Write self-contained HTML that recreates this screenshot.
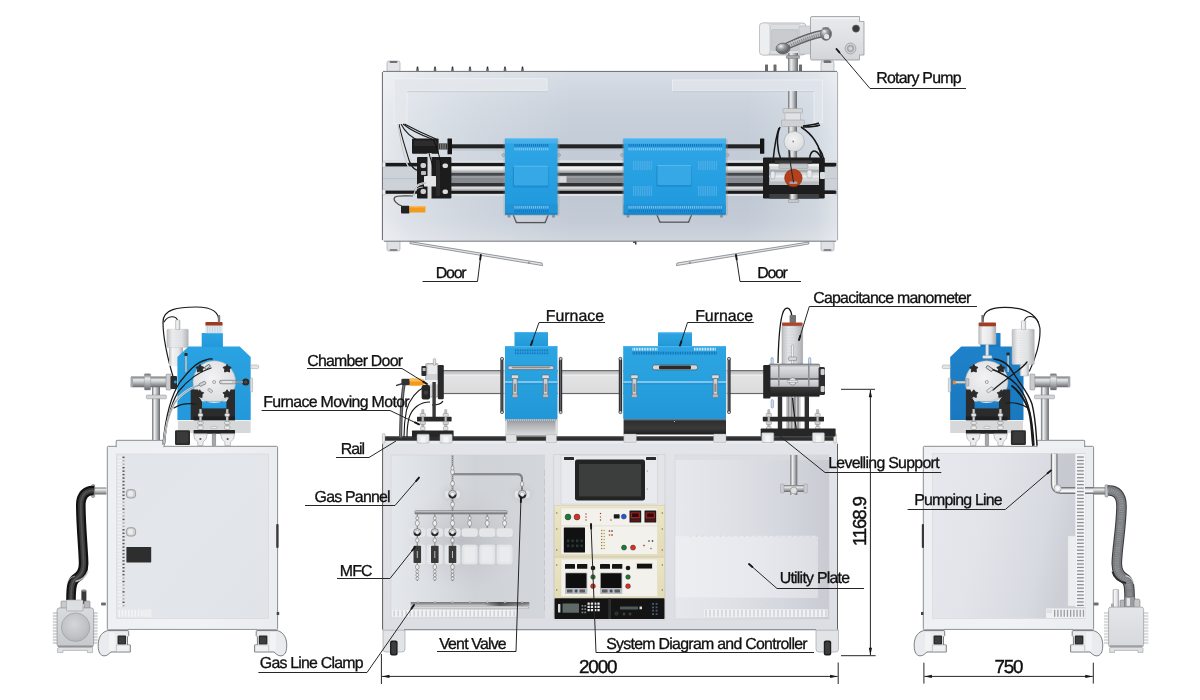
<!DOCTYPE html>
<html lang="en">
<head>
<meta charset="utf-8">
<title>CVD Furnace System Layout</title>
<style>
html,body{margin:0;padding:0;background:#fff;}
body{width:1200px;height:700px;overflow:hidden;font-family:"Liberation Sans",sans-serif;}
svg{display:block;}
.lb{font-family:"Liberation Sans",sans-serif;font-size:15.9px;fill:#101010;stroke:#101010;stroke-width:0.32px;text-rendering:geometricPrecision;}
.dm{font-family:"Liberation Sans",sans-serif;font-size:18.8px;fill:#101010;stroke:#101010;stroke-width:0.42px;text-rendering:geometricPrecision;}
.ld{stroke:#262626;stroke-width:1;fill:none;}
</style>
</head>
<body>
<svg width="1200" height="700" viewBox="0 0 1200 700">
<defs>
<linearGradient id="cab" x1="0" y1="0" x2="0" y2="1"><stop offset="0" stop-color="#eceef1"/><stop offset="0.5" stop-color="#e6e8ec"/><stop offset="1" stop-color="#dfe1e6"/></linearGradient>
<linearGradient id="cabh" x1="0" y1="0" x2="1" y2="0"><stop offset="0" stop-color="#e3e5e9"/><stop offset="0.35" stop-color="#eceef1"/><stop offset="0.7" stop-color="#eef0f3"/><stop offset="1" stop-color="#e2e4e8"/></linearGradient>
<linearGradient id="panel" x1="0" y1="0" x2="1" y2="1"><stop offset="0" stop-color="#dcdee3"/><stop offset="0.5" stop-color="#e9ebee"/><stop offset="1" stop-color="#e4e6ea"/></linearGradient>
<linearGradient id="panelR" x1="0" y1="0" x2="1" y2="1"><stop offset="0" stop-color="#dfe1e5"/><stop offset="0.45" stop-color="#f1f2f4"/><stop offset="1" stop-color="#dcdee3"/></linearGradient>
<linearGradient id="blueF" x1="0" y1="0" x2="0" y2="1"><stop offset="0" stop-color="#2da5e2"/><stop offset="0.5" stop-color="#27a0de"/><stop offset="1" stop-color="#2296d6"/></linearGradient>
<linearGradient id="blueT" x1="0" y1="0" x2="0" y2="1"><stop offset="0" stop-color="#2fa6e6"/><stop offset="0.5" stop-color="#27a0e2"/><stop offset="1" stop-color="#1f97dc"/></linearGradient>
<linearGradient id="tube" x1="0" y1="0" x2="0" y2="1"><stop offset="0" stop-color="#8a8c8e"/><stop offset="0.12" stop-color="#c9cbcd"/><stop offset="0.45" stop-color="#f4f4f4"/><stop offset="0.8" stop-color="#d6d7d8"/><stop offset="1" stop-color="#7d7f81"/></linearGradient>
<linearGradient id="steelV" x1="0" y1="0" x2="0" y2="1"><stop offset="0" stop-color="#6f7276"/><stop offset="0.3" stop-color="#e9eaeb"/><stop offset="0.6" stop-color="#b3b5b8"/><stop offset="1" stop-color="#66686c"/></linearGradient>
<linearGradient id="steelH" x1="0" y1="0" x2="1" y2="0"><stop offset="0" stop-color="#6f7276"/><stop offset="0.3" stop-color="#eeeff0"/><stop offset="0.6" stop-color="#b9bbbe"/><stop offset="1" stop-color="#66686c"/></linearGradient>
<linearGradient id="silverbase" x1="0" y1="0" x2="0" y2="1"><stop offset="0" stop-color="#8f9194"/><stop offset="0.25" stop-color="#a9abae"/><stop offset="0.8" stop-color="#cfd0d2"/><stop offset="1" stop-color="#d9dadc"/></linearGradient>
<linearGradient id="darkbase" x1="0" y1="0" x2="0" y2="1"><stop offset="0" stop-color="#2c2c2c"/><stop offset="0.6" stop-color="#3a3a3a"/><stop offset="1" stop-color="#1e1e1e"/></linearGradient>
<linearGradient id="hoseB" x1="0" y1="0" x2="1" y2="0"><stop offset="0" stop-color="#0d0d0d"/><stop offset="0.35" stop-color="#4a4a4a"/><stop offset="0.6" stop-color="#222"/><stop offset="1" stop-color="#050505"/></linearGradient>
<linearGradient id="pump" x1="0" y1="0" x2="0" y2="1"><stop offset="0" stop-color="#e6e7e9"/><stop offset="1" stop-color="#c9cbce"/></linearGradient>
<radialGradient id="shadow" cx="0.5" cy="0.5" r="0.5"><stop offset="0" stop-color="#9a9ca0" stop-opacity="0.55"/><stop offset="0.6" stop-color="#b0b2b6" stop-opacity="0.25"/><stop offset="1" stop-color="#c0c2c6" stop-opacity="0"/></radialGradient>
<radialGradient id="glow" cx="0.5" cy="0.5" r="0.5"><stop offset="0" stop-color="#ffffff" stop-opacity="0.9"/><stop offset="1" stop-color="#ffffff" stop-opacity="0"/></radialGradient>
<radialGradient id="pumpc" cx="0.4" cy="0.35" r="0.7"><stop offset="0" stop-color="#eeeff0"/><stop offset="0.7" stop-color="#dcdde0"/><stop offset="1" stop-color="#c3c5c8"/></radialGradient>
<radialGradient id="disc" cx="0.45" cy="0.4" r="0.7"><stop offset="0" stop-color="#f3f3f4"/><stop offset="0.75" stop-color="#dedfe1"/><stop offset="1" stop-color="#b9bbbe"/></radialGradient>
<linearGradient id="topcab" x1="0" y1="0" x2="0" y2="1"><stop offset="0" stop-color="#d8dde5"/><stop offset="0.2" stop-color="#cad2dc"/><stop offset="0.38" stop-color="#c4cdd8"/><stop offset="0.75" stop-color="#bfc8d3"/><stop offset="0.88" stop-color="#c3cbd6"/><stop offset="1" stop-color="#d0d5dd"/></linearGradient>
<linearGradient id="topedge" x1="0" y1="0" x2="1" y2="0"><stop offset="0" stop-color="#ffffff"/><stop offset="0.12" stop-color="#ffffff"/><stop offset="0.5" stop-color="#ffffff"/><stop offset="0.88" stop-color="#ffffff"/><stop offset="1" stop-color="#ffffff"/></linearGradient>
<linearGradient id="topside" x1="0" y1="0" x2="1" y2="0"><stop offset="0" stop-color="#fff" stop-opacity="0.6"/><stop offset="0.06" stop-color="#fff" stop-opacity="0.42"/><stop offset="0.2" stop-color="#fff" stop-opacity="0.22"/><stop offset="0.42" stop-color="#fff" stop-opacity="0"/><stop offset="0.8" stop-color="#fff" stop-opacity="0"/><stop offset="0.95" stop-color="#fff" stop-opacity="0.25"/><stop offset="1" stop-color="#fff" stop-opacity="0.5"/></linearGradient>
<linearGradient id="pumpT" x1="0" y1="0" x2="0" y2="1"><stop offset="0" stop-color="#e9eaec"/><stop offset="0.5" stop-color="#dfe1e4"/><stop offset="1" stop-color="#d3d5d9"/></linearGradient>
<radialGradient id="chrome" cx="0.35" cy="0.3" r="0.8"><stop offset="0" stop-color="#f2f2f2"/><stop offset="0.35" stop-color="#9a9c9f"/><stop offset="0.75" stop-color="#5f6164"/><stop offset="1" stop-color="#8a8c8f"/></radialGradient>
<linearGradient id="tubeT" x1="0" y1="0" x2="0" y2="1"><stop offset="0" stop-color="#fafafa"/><stop offset="0.45" stop-color="#e6e7e8"/><stop offset="1" stop-color="#8f9194"/></linearGradient>
<linearGradient id="tubeT2" x1="0" y1="0" x2="0" y2="1"><stop offset="0" stop-color="#e4e5e6"/><stop offset="0.5" stop-color="#d0d2d4"/><stop offset="1" stop-color="#8a8c8f"/></linearGradient>
<linearGradient id="fcab" x1="0" y1="0" x2="0" y2="1"><stop offset="0" stop-color="#e2e4e9"/><stop offset="0.5" stop-color="#dfe1e7"/><stop offset="1" stop-color="#dcdee4"/></linearGradient>
<linearGradient id="gasp" x1="0" y1="0" x2="1" y2="0"><stop offset="0" stop-color="#e4e7ec"/><stop offset="0.25" stop-color="#dcdfe4"/><stop offset="0.55" stop-color="#cfd2d7"/><stop offset="1" stop-color="#d3d6db"/></linearGradient>
<linearGradient id="utilp" x1="0" y1="0" x2="1" y2="0"><stop offset="0" stop-color="#e6e8ed"/><stop offset="0.35" stop-color="#dfe1e7"/><stop offset="0.7" stop-color="#d5d7de"/><stop offset="1" stop-color="#c9cbd2"/></linearGradient>
<linearGradient id="utilpl" x1="0" y1="0" x2="1" y2="0"><stop offset="0" stop-color="#eceef2"/><stop offset="0.6" stop-color="#e6e8ed"/><stop offset="1" stop-color="#dddfe5"/></linearGradient>
<linearGradient id="cream" x1="0" y1="0" x2="0" y2="1"><stop offset="0" stop-color="#ece5c4"/><stop offset="1" stop-color="#e3dbb6"/></linearGradient>
<linearGradient id="clamp" x1="0" y1="0" x2="0" y2="1"><stop offset="0" stop-color="#77797c"/><stop offset="0.25" stop-color="#8f9194"/><stop offset="0.55" stop-color="#c3c5c7"/><stop offset="1" stop-color="#a9abae"/></linearGradient>
<linearGradient id="clampd" x1="0" y1="0" x2="1" y2="0"><stop offset="0" stop-color="#333" stop-opacity="0"/><stop offset="0.62" stop-color="#333" stop-opacity="0"/><stop offset="0.75" stop-color="#2a2a2a" stop-opacity="0.65"/><stop offset="0.9" stop-color="#333" stop-opacity="0.35"/><stop offset="1" stop-color="#333" stop-opacity="0.15"/></linearGradient>
<linearGradient id="tubeF" x1="0" y1="0" x2="0" y2="1"><stop offset="0" stop-color="#8a8c8e"/><stop offset="0.05" stop-color="#b9bbbd"/><stop offset="0.17" stop-color="#d2d3d5"/><stop offset="0.2" stop-color="#f4f4f4"/><stop offset="0.25" stop-color="#e3e3e4"/><stop offset="0.93" stop-color="#dcdcdd"/><stop offset="1" stop-color="#9a9c9e"/></linearGradient>
<linearGradient id="mano" x1="0" y1="0" x2="1" y2="0"><stop offset="0" stop-color="#b9bbbe"/><stop offset="0.3" stop-color="#ecedee"/><stop offset="0.6" stop-color="#dcdde0"/><stop offset="1" stop-color="#a5a7aa"/></linearGradient>
<linearGradient id="flg" x1="0" y1="0" x2="0" y2="1"><stop offset="0" stop-color="#8d8f92"/><stop offset="0.1" stop-color="#dcdde0"/><stop offset="0.3" stop-color="#c9cbce"/><stop offset="0.42" stop-color="#b9bbbe"/><stop offset="0.46" stop-color="#3f4144"/><stop offset="0.5" stop-color="#d9dadc"/><stop offset="0.68" stop-color="#bfc1c4"/><stop offset="0.72" stop-color="#3a3a3a"/><stop offset="1" stop-color="#1f1f1f"/></linearGradient>
<linearGradient id="scab" x1="0" y1="0" x2="1" y2="0"><stop offset="0" stop-color="#eef0f3"/><stop offset="0.5" stop-color="#f0f2f5"/><stop offset="1" stop-color="#eaecf0"/></linearGradient>
<linearGradient id="spanL" x1="0" y1="0" x2="1" y2="1"><stop offset="0" stop-color="#e2e5ea"/><stop offset="0.5" stop-color="#e3e6eb"/><stop offset="1" stop-color="#e0e3e8"/></linearGradient>
<linearGradient id="spanR" x1="0" y1="0" x2="1" y2="0.25"><stop offset="0" stop-color="#e6e8ed"/><stop offset="0.4" stop-color="#e2e4ea"/><stop offset="0.8" stop-color="#d7dae0"/><stop offset="1" stop-color="#cbced5"/></linearGradient>
<linearGradient id="blueS" x1="0" y1="0" x2="0" y2="1"><stop offset="0" stop-color="#2aa3e2"/><stop offset="1" stop-color="#2398da"/></linearGradient>
<linearGradient id="blueSR" x1="0" y1="0" x2="0" y2="1"><stop offset="0" stop-color="#1e82ca"/><stop offset="1" stop-color="#1a78be"/></linearGradient>
<linearGradient id="hoseG" x1="0" y1="0" x2="1" y2="0"><stop offset="0" stop-color="#5f6164"/><stop offset="0.35" stop-color="#c9cbcd"/><stop offset="0.6" stop-color="#8f9194"/><stop offset="1" stop-color="#4a4c4f"/></linearGradient>
<linearGradient id="cyl" x1="0" y1="0" x2="1" y2="0"><stop offset="0" stop-color="#b9bbbe"/><stop offset="0.25" stop-color="#f4f4f5"/><stop offset="0.7" stop-color="#e4e5e7"/><stop offset="1" stop-color="#a9abae"/></linearGradient>
<linearGradient id="pumpL" x1="0" y1="0" x2="0" y2="1"><stop offset="0" stop-color="#d9dbde"/><stop offset="1" stop-color="#c6c8cb"/></linearGradient>
<radialGradient id="pumpc2" cx="0.45" cy="0.4" r="0.75"><stop offset="0" stop-color="#d4d6d8"/><stop offset="0.6" stop-color="#bfc1c4"/><stop offset="1" stop-color="#a9abae"/></radialGradient>
<linearGradient id="pumpR" x1="0" y1="0" x2="0" y2="1"><stop offset="0" stop-color="#e4e6e9"/><stop offset="1" stop-color="#d6d8dc"/></linearGradient>
<filter id="gs" x="0" y="0" width="1200" height="700" filterUnits="userSpaceOnUse" color-interpolation-filters="sRGB"><feOffset dx="0" dy="0"/></filter>
</defs>
<g id="top-view">
<rect x="759.50" y="23.00" width="46.50" height="32.00" fill="url(#pumpT)" rx="3.5" stroke="#9fa1a5" stroke-width="0.7"/>
<rect x="759.50" y="23.00" width="10.50" height="32.00" fill="#eceef0" rx="3.5" stroke="#b0b2b6" stroke-width="0.5"/>
<rect x="770.50" y="24.50" width="29.50" height="29.50" fill="#dcdee1" rx="1" stroke="#bfc1c5" stroke-width="0.5"/>
<rect x="771.50" y="29.50" width="26.50" height="21.00" fill="#c9cbcf" rx="1" stroke="#b3b5b9" stroke-width="0.5"/>
<rect x="799.00" y="26.00" width="12.00" height="28.00" fill="#d3d5d9" rx="1" stroke="#aeb0b4" stroke-width="0.5"/>
<path d="M812,16.5 H859.5 V21.5 H864 V55 H859.5 V60 H812 Q810.5,60 810.5,58.5 V18 Q810.5,16.5 812,16.5 Z" fill="url(#pumpT)" stroke="#96989c" stroke-width="0.8"/>
<line x1="812.00" y1="18.40" x2="859.00" y2="18.40" stroke="#f4f5f6" stroke-width="1"/>
<circle cx="856.00" cy="28.60" r="3.60" fill="#3a3a3a" stroke="#6a6a6a" stroke-width="0.6"/>
<circle cx="850.50" cy="48.50" r="5.40" fill="#cfd0d3" stroke="#9a9c9f" stroke-width="0.8"/>
<circle cx="850.50" cy="48.50" r="3.20" fill="#b6b8bb" stroke="#8a8c8f" stroke-width="0.6"/>
<circle cx="850.50" cy="48.50" r="1.40" fill="#d9dadc"/>
<path d="M786,46.5 C796,42 808,36 823,33.5" fill="none" stroke="#5d5f63" stroke-width="7.4" stroke-linecap="butt"/>
<path d="M786,46.5 C796,42 808,36 823,33.5" fill="none" stroke="#8f9195" stroke-width="5.2" stroke-linecap="butt"/>
<path d="M786,46.5 C796,42 808,36 823,33.5" fill="none" stroke="#c3c5c8" stroke-width="4.6" stroke-linecap="butt" stroke-dasharray="0.9 1.3"/>
<path d="M786,45 C796,40.5 808,34.6 823,32" fill="none" stroke="#d9dadc" stroke-width="1.2" opacity="0.7"/>
<ellipse cx="783" cy="48.5" rx="7" ry="5.4" fill="url(#chrome)" stroke="#4a4c4f" stroke-width="0.6"/>
<ellipse cx="826" cy="34" rx="5.6" ry="6.4" fill="url(#chrome)" stroke="#6a6c6f" stroke-width="0.6"/>
<circle cx="826.60" cy="36.50" r="2.60" fill="#e4e5e6"/>
<rect x="822.50" y="27.40" width="6.50" height="2.00" fill="#77797c" rx="0.6"/>
<rect x="788.00" y="53.00" width="10.00" height="19.00" fill="url(#steelH)"/>
<rect x="786.40" y="55.60" width="13.20" height="2.80" fill="#a9abae" rx="0.6" stroke="#6f7174" stroke-width="0.5"/>
<rect x="821.50" y="60.20" width="11.50" height="10.80" fill="#dfe1e4" rx="1" stroke="#a3a5a9" stroke-width="0.5"/>
<rect x="824.00" y="60.20" width="6.50" height="1.80" fill="#55575a" rx="0.6"/>
<rect x="387.00" y="61.00" width="13.00" height="11.00" fill="#e3e5e8" rx="2" stroke="#a9abaf" stroke-width="0.7"/>
<rect x="389.50" y="61.00" width="8.00" height="2.00" fill="#6f7174" rx="1"/>
<rect x="821.00" y="61.00" width="13.00" height="11.00" fill="#e3e5e8" rx="2" stroke="#a9abaf" stroke-width="0.7"/>
<rect x="823.50" y="61.00" width="8.00" height="2.00" fill="#6f7174" rx="1"/>
<rect x="387.00" y="240.00" width="13.00" height="11.00" fill="#dfe1e4" rx="2" stroke="#a9abaf" stroke-width="0.7"/>
<rect x="389.50" y="249.00" width="8.00" height="2.00" fill="#85878a" rx="1"/>
<rect x="821.00" y="240.00" width="13.00" height="11.00" fill="#dfe1e4" rx="2" stroke="#a9abaf" stroke-width="0.7"/>
<rect x="823.50" y="249.00" width="8.00" height="2.00" fill="#85878a" rx="1"/>
<rect x="416.20" y="68.60" width="2.60" height="2.90" fill="#6a6c6f" rx="0.5"/>
<rect x="416.70" y="66.60" width="1.60" height="2.40" fill="#2e2e2e" rx="0.4"/>
<rect x="433.70" y="68.60" width="2.60" height="2.90" fill="#6a6c6f" rx="0.5"/>
<rect x="434.20" y="66.60" width="1.60" height="2.40" fill="#2e2e2e" rx="0.4"/>
<rect x="451.20" y="68.60" width="2.60" height="2.90" fill="#6a6c6f" rx="0.5"/>
<rect x="451.70" y="66.60" width="1.60" height="2.40" fill="#2e2e2e" rx="0.4"/>
<rect x="468.70" y="68.60" width="2.60" height="2.90" fill="#6a6c6f" rx="0.5"/>
<rect x="469.20" y="66.60" width="1.60" height="2.40" fill="#2e2e2e" rx="0.4"/>
<rect x="486.20" y="68.60" width="2.60" height="2.90" fill="#6a6c6f" rx="0.5"/>
<rect x="486.70" y="66.60" width="1.60" height="2.40" fill="#2e2e2e" rx="0.4"/>
<rect x="503.70" y="68.60" width="2.60" height="2.90" fill="#6a6c6f" rx="0.5"/>
<rect x="504.20" y="66.60" width="1.60" height="2.40" fill="#2e2e2e" rx="0.4"/>
<rect x="521.20" y="68.60" width="2.60" height="2.90" fill="#6a6c6f" rx="0.5"/>
<rect x="521.70" y="66.60" width="1.60" height="2.40" fill="#2e2e2e" rx="0.4"/>
<rect x="765.00" y="64.50" width="3.00" height="7.00" fill="#6a6c6f" rx="0.5"/>
<rect x="773.50" y="64.50" width="3.00" height="7.00" fill="#6a6c6f" rx="0.5"/>
<rect x="799.00" y="64.50" width="3.00" height="7.00" fill="#6a6c6f" rx="0.5"/>
<rect x="382.00" y="71.00" width="456.00" height="170.40" fill="url(#topcab)" rx="2.5"/>
<rect x="382.00" y="71.00" width="456.00" height="170.00" fill="url(#topside)" rx="2.5"/>
<line x1="382.40" y1="72.00" x2="382.40" y2="240.00" stroke="#55585c" stroke-width="0.9"/>
<line x1="383.00" y1="71.40" x2="837.00" y2="71.40" stroke="#4f5154" stroke-width="0.8"/>
<line x1="837.60" y1="72.00" x2="837.60" y2="240.00" stroke="#9a9ca0" stroke-width="0.8"/>
<line x1="384.00" y1="241.20" x2="836.00" y2="241.20" stroke="#5f6164" stroke-width="0.8"/>
<path d="M394,78.6 H547 V91 H407 V124 H394 Z" fill="#e4e8ed" stroke="#f2f4f6" stroke-width="0.8" opacity="0.85"/>
<path d="M822.5,80 H672.5 V91 H814 V122.5 H822.5 Z" fill="#e0e5eb" stroke="#f2f4f6" stroke-width="0.8" opacity="0.85"/>
<line x1="407.00" y1="91.60" x2="547.00" y2="91.60" stroke="#c3c9d1" stroke-width="0.9"/>
<line x1="672.50" y1="91.60" x2="814.00" y2="91.60" stroke="#c3c9d1" stroke-width="0.9"/>
<rect x="383.00" y="160.50" width="454.00" height="35.50" fill="#c6ccd5"/>
<rect x="383.00" y="160.50" width="454.00" height="2.10" fill="#dfe3e8"/>
<rect x="383.00" y="194.00" width="454.00" height="2.00" fill="#dde1e6"/>
<rect x="383.00" y="166.40" width="454.00" height="24.00" fill="#cdd2d9"/>
<line x1="383.00" y1="178.60" x2="837.00" y2="178.60" stroke="#b9bec6" stroke-width="0.8"/>
<rect x="451.00" y="166.40" width="321.00" height="24.20" fill="#8d9196"/>
<rect x="451.00" y="144.30" width="312.00" height="4.10" fill="#222426"/>
<rect x="447.50" y="138.60" width="4.50" height="15.70" fill="#151515" rx="0.6"/>
<rect x="760.00" y="138.60" width="4.30" height="15.20" fill="#151515" rx="0.6"/>
<line x1="452.00" y1="150.00" x2="760.00" y2="150.00" stroke="#b9bec6" stroke-width="1.2"/>
<rect x="383.60" y="162.90" width="452.80" height="3.50" fill="#1a1a1a"/>
<rect x="383.60" y="190.60" width="452.80" height="3.20" fill="#1a1a1a"/>
<rect x="443.60" y="166.40" width="328.40" height="6.60" fill="url(#tubeT)"/>
<rect x="451.00" y="173.00" width="321.00" height="2.80" fill="#45484b"/>
<rect x="451.00" y="175.80" width="321.00" height="7.20" fill="#868a8f"/>
<rect x="451.00" y="176.40" width="321.00" height="1.20" fill="#a3a7ab"/>
<rect x="557.50" y="176.20" width="9.00" height="6.40" fill="#d9dadc"/>
<rect x="451.00" y="183.00" width="321.00" height="3.60" fill="#2f3133"/>
<rect x="443.60" y="186.60" width="328.40" height="4.20" fill="url(#tubeT2)"/>
<rect x="382.60" y="162.10" width="2.80" height="5.20" fill="#f1f1f1" rx="0.8" stroke="#9a9a9a" stroke-width="0.4"/>
<rect x="834.60" y="162.10" width="2.80" height="5.20" fill="#f1f1f1" rx="0.8" stroke="#9a9a9a" stroke-width="0.4"/>
<rect x="382.60" y="189.40" width="2.80" height="5.20" fill="#f1f1f1" rx="0.8" stroke="#9a9a9a" stroke-width="0.4"/>
<rect x="834.60" y="189.40" width="2.80" height="5.20" fill="#f1f1f1" rx="0.8" stroke="#9a9a9a" stroke-width="0.4"/>
<path d="M399,124 C401,135 406,150 409,160 C412,170 418,172 424,172" fill="none" stroke="#1c1c1c" stroke-width="1.1"/>
<path d="M401,124 C405,132 412,138 420,141" fill="none" stroke="#1c1c1c" stroke-width="1.1"/>
<path d="M403,124 C408,128 418,134 432,139" fill="none" stroke="#1c1c1c" stroke-width="1.1"/>
<path d="M404.5,124 C410,127 424,134 436,139" fill="none" stroke="#1c1c1c" stroke-width="1.1"/>
<path d="M398,124 C400,140 404,158 408,166 C411,172 416,172 420,171" fill="none" stroke="#f2f2f2" stroke-width="1.3"/>
<path d="M398,124 C400,140 404,158 408,166 C411,172 416,172 420,171" fill="none" stroke="#777" stroke-width="0.4"/>
<rect x="412.00" y="138.60" width="26.60" height="15.20" fill="#1d1d1d" rx="1"/>
<rect x="414.00" y="140.50" width="22.50" height="5.50" fill="#2d2d2d" rx="0.6"/>
<rect x="438.60" y="143.40" width="8.90" height="6.10" fill="#3a3a3a"/>
<rect x="440.20" y="143.80" width="1.00" height="5.20" fill="#8a8a8a"/>
<rect x="442.40" y="143.80" width="1.00" height="5.20" fill="#8a8a8a"/>
<rect x="444.60" y="143.80" width="1.00" height="5.20" fill="#8a8a8a"/>
<rect x="417.00" y="157.00" width="34.40" height="41.60" fill="#1c1c1c" rx="1"/>
<rect x="427.50" y="153.00" width="4.00" height="47.00" fill="#d9dadb"/>
<rect x="424.00" y="176.00" width="12.00" height="10.50" fill="#e4e5e6" rx="0.6"/>
<rect x="436.00" y="160.00" width="4.00" height="36.00" fill="#2b2b2b"/>
<rect x="420.50" y="163.00" width="5.50" height="5.00" fill="#d0d0d0" rx="2"/>
<rect x="420.50" y="189.00" width="5.50" height="5.00" fill="#d0d0d0" rx="2"/>
<rect x="442.50" y="163.50" width="5.50" height="4.50" fill="#dcdcdc" rx="2"/>
<rect x="442.50" y="189.50" width="5.50" height="4.50" fill="#dcdcdc" rx="2"/>
<rect x="421.00" y="171.00" width="5.00" height="4.00" fill="#bdbdbd" rx="1"/>
<path d="M429,153 C430,158 432,162 433,168" fill="none" stroke="#111" stroke-width="1"/>
<path d="M433,139 C438,150 441,160 441,170" fill="none" stroke="#111" stroke-width="1"/>
<path d="M414,190 C416,186 420,183 426,183" fill="none" stroke="#e8e8e8" stroke-width="1.8"/>
<path d="M414,190 C416,186 420,183 426,183" fill="none" stroke="#6a6a6a" stroke-width="0.5"/>
<path d="M414,196 C414,190 418,187 423,187" fill="none" stroke="#bbb" stroke-width="1.2"/>
<path d="M402,206 C396,204 393,200 394.5,197.5 C397,195 404,196 413,196" fill="none" stroke="#4a4a4a" stroke-width="1.2"/>
<rect x="401.00" y="205.70" width="8.50" height="7.90" fill="#222" rx="1"/>
<rect x="409.30" y="206.00" width="16.10" height="6.60" fill="#f29a1c" rx="0.8"/>
<rect x="409.30" y="206.00" width="16.10" height="1.60" fill="#f9b64d" rx="0.8"/>
<rect x="414.50" y="204.80" width="3.00" height="1.70" fill="#d9d9d9" rx="0.5"/>
<rect x="788.00" y="91.00" width="9.00" height="75.00" fill="url(#steelH)"/>
<rect x="783.00" y="108.50" width="19.50" height="4.50" fill="#d2d4d6" rx="0.8" stroke="#8e9093" stroke-width="0.4"/>
<rect x="785.00" y="113.00" width="15.50" height="9.00" fill="#e1e2e4" rx="0.8" stroke="#9a9c9f" stroke-width="0.4"/>
<rect x="781.50" y="120.00" width="23.00" height="6.50" fill="#cfd1d3" rx="0.8" stroke="#8e9093" stroke-width="0.4"/>
<path d="M780,127 C776,136 777,150 781,160 C785,170 789,176 792,182" fill="none" stroke="#161616" stroke-width="1.5"/>
<path d="M779,128 C774,142 774,156 772,170" fill="none" stroke="#161616" stroke-width="1.5"/>
<path d="M801,127 C812,134 820,146 822,160" fill="none" stroke="#161616" stroke-width="1.5"/>
<path d="M803,126 C808,125 814,125 819,123" fill="none" stroke="#161616" stroke-width="1.5"/>
<path d="M803,127 C808,127 815,127 820,125" fill="none" stroke="#161616" stroke-width="1.5"/>
<path d="M822,160 C818,150 812,148 810,156 C809,162 810,168 809,174" fill="none" stroke="#161616" stroke-width="1.5"/>
<path d="M824,164 C824,156 821,150 818,148" fill="none" stroke="#161616" stroke-width="1.5"/>
<circle cx="794.20" cy="141.50" r="10.20" fill="url(#disc)" stroke="#a2a4a7" stroke-width="0.6"/>
<circle cx="793.20" cy="141.50" r="0.90" fill="#8a8a8a"/>
<rect x="789.50" y="151.00" width="7.50" height="15.00" fill="url(#steelH)"/>
<rect x="763.00" y="157.40" width="61.70" height="41.20" fill="#1d1d1d" rx="1"/>
<rect x="769.30" y="163.80" width="49.70" height="21.20" fill="#d6d8db"/>
<rect x="769.30" y="163.80" width="49.70" height="2.60" fill="#f0f1f2"/>
<rect x="769.30" y="169.60" width="49.70" height="2.80" fill="#a9acb0"/>
<rect x="769.30" y="175.40" width="49.70" height="2.00" fill="#eceded"/>
<rect x="769.30" y="181.40" width="49.70" height="3.60" fill="#b9bcc0"/>
<rect x="775.00" y="160.40" width="37.00" height="3.40" fill="#3a3a3a"/>
<rect x="769.30" y="194.00" width="49.70" height="4.60" fill="#3d3f42"/>
<rect x="824.70" y="162.90" width="11.70" height="3.50" fill="#1a1a1a"/>
<rect x="824.70" y="190.60" width="11.70" height="3.20" fill="#1a1a1a"/>
<rect x="770.60" y="171.00" width="4.40" height="8.00" fill="#e9eaeb" rx="2" stroke="#5b7fb0" stroke-width="0.4"/>
<rect x="807.00" y="170.00" width="5.00" height="8.00" fill="#e9eaeb" rx="2" stroke="#8a8c8f" stroke-width="0.4"/>
<rect x="820.00" y="172.00" width="5.00" height="7.00" fill="#dcdcdc" rx="1"/>
<rect x="779.00" y="163.80" width="29.00" height="4.80" fill="#c3c5c8" rx="1" stroke="#8a8c8f" stroke-width="0.4"/>
<rect x="789.40" y="194.00" width="8.40" height="8.00" fill="url(#steelH)"/>
<rect x="788.40" y="199.60" width="10.40" height="2.80" fill="#c9cbcd" rx="0.8" stroke="#77797c" stroke-width="0.4"/>
<circle cx="793.40" cy="178.00" r="8.70" fill="#b5401c"/>
<circle cx="793.40" cy="178.00" r="8.70" fill="none" stroke="#8a2f12" stroke-width="0.7"/>
<rect x="789.40" y="181.60" width="8.00" height="2.40" fill="#a3a7ab" rx="0.8"/>
<path d="M789,150 C790,162 791.6,172 793.6,182.4" fill="none" stroke="#2a2a2a" stroke-width="1.1"/>
<path d="M513.5,215 L516.5,222.5 H545 L548,215" fill="none" stroke="#4c4e51" stroke-width="1.6"/>
<path d="M514.1,215 L516.9,221.6 H544.6 L547.4,215" fill="none" stroke="#d9dadc" stroke-width="0.6"/>
<path d="M657,214.5 L660,222.0 H688.5 L691.5,214.5" fill="none" stroke="#4c4e51" stroke-width="1.6"/>
<path d="M657.6,214.5 L660.4,221.1 H688.1 L690.9,214.5" fill="none" stroke="#d9dadc" stroke-width="0.6"/>
<rect x="507.60" y="214.00" width="2.80" height="3.50" fill="#8b8d90" rx="0.5"/>
<rect x="552.10" y="214.00" width="2.80" height="3.50" fill="#8b8d90" rx="0.5"/>
<rect x="626.60" y="214.00" width="2.80" height="3.50" fill="#8b8d90" rx="0.5"/>
<rect x="720.10" y="214.00" width="2.80" height="3.50" fill="#8b8d90" rx="0.5"/>
<circle cx="503.50" cy="155.00" r="1.50" fill="#bfc1c3" stroke="#6f7174" stroke-width="0.4"/>
<circle cx="559.00" cy="155.00" r="1.50" fill="#bfc1c3" stroke="#6f7174" stroke-width="0.4"/>
<circle cx="622.00" cy="155.00" r="1.50" fill="#bfc1c3" stroke="#6f7174" stroke-width="0.4"/>
<circle cx="727.50" cy="155.00" r="1.50" fill="#bfc1c3" stroke="#6f7174" stroke-width="0.4"/>
<rect x="503.50" y="139.00" width="56.00" height="77.10" fill="#8f979f" rx="2" opacity="0.35"/>
<rect x="505.00" y="138.00" width="52.50" height="76.60" fill="url(#blueT)" rx="1.2"/>
<rect x="505.00" y="138.00" width="52.50" height="5.40" fill="#45b0ea" rx="1"/>
<rect x="505.00" y="138.00" width="52.50" height="1.20" fill="#6cc2f0" rx="1"/>
<rect x="505.00" y="204.20" width="52.50" height="10.40" fill="#2194d8" rx="1"/>
<rect x="505.00" y="213.00" width="52.50" height="1.60" fill="#1784c8" rx="1"/>
<rect x="514.50" y="144.00" width="1.10" height="2.80" fill="#1173c0"/>
<rect x="514.50" y="147.80" width="1.10" height="2.60" fill="#86c8ee"/>
<rect x="514.50" y="206.00" width="1.10" height="2.60" fill="#79c0ea"/>
<rect x="514.50" y="209.60" width="1.10" height="3.00" fill="#1173c0"/>
<rect x="516.55" y="144.00" width="1.10" height="2.80" fill="#1173c0"/>
<rect x="516.55" y="147.80" width="1.10" height="2.60" fill="#86c8ee"/>
<rect x="516.55" y="206.00" width="1.10" height="2.60" fill="#79c0ea"/>
<rect x="516.55" y="209.60" width="1.10" height="3.00" fill="#1173c0"/>
<rect x="518.60" y="144.00" width="1.10" height="2.80" fill="#1173c0"/>
<rect x="518.60" y="147.80" width="1.10" height="2.60" fill="#86c8ee"/>
<rect x="518.60" y="206.00" width="1.10" height="2.60" fill="#79c0ea"/>
<rect x="518.60" y="209.60" width="1.10" height="3.00" fill="#1173c0"/>
<rect x="520.65" y="144.00" width="1.10" height="2.80" fill="#1173c0"/>
<rect x="520.65" y="147.80" width="1.10" height="2.60" fill="#86c8ee"/>
<rect x="520.65" y="206.00" width="1.10" height="2.60" fill="#79c0ea"/>
<rect x="520.65" y="209.60" width="1.10" height="3.00" fill="#1173c0"/>
<rect x="522.70" y="144.00" width="1.10" height="2.80" fill="#1173c0"/>
<rect x="522.70" y="147.80" width="1.10" height="2.60" fill="#86c8ee"/>
<rect x="522.70" y="206.00" width="1.10" height="2.60" fill="#79c0ea"/>
<rect x="522.70" y="209.60" width="1.10" height="3.00" fill="#1173c0"/>
<rect x="524.75" y="144.00" width="1.10" height="2.80" fill="#1173c0"/>
<rect x="524.75" y="147.80" width="1.10" height="2.60" fill="#86c8ee"/>
<rect x="524.75" y="206.00" width="1.10" height="2.60" fill="#79c0ea"/>
<rect x="524.75" y="209.60" width="1.10" height="3.00" fill="#1173c0"/>
<rect x="526.80" y="144.00" width="1.10" height="2.80" fill="#1173c0"/>
<rect x="526.80" y="147.80" width="1.10" height="2.60" fill="#86c8ee"/>
<rect x="526.80" y="206.00" width="1.10" height="2.60" fill="#79c0ea"/>
<rect x="526.80" y="209.60" width="1.10" height="3.00" fill="#1173c0"/>
<rect x="528.85" y="144.00" width="1.10" height="2.80" fill="#1173c0"/>
<rect x="528.85" y="147.80" width="1.10" height="2.60" fill="#86c8ee"/>
<rect x="528.85" y="206.00" width="1.10" height="2.60" fill="#79c0ea"/>
<rect x="528.85" y="209.60" width="1.10" height="3.00" fill="#1173c0"/>
<rect x="530.90" y="144.00" width="1.10" height="2.80" fill="#1173c0"/>
<rect x="530.90" y="147.80" width="1.10" height="2.60" fill="#86c8ee"/>
<rect x="530.90" y="206.00" width="1.10" height="2.60" fill="#79c0ea"/>
<rect x="530.90" y="209.60" width="1.10" height="3.00" fill="#1173c0"/>
<rect x="532.95" y="144.00" width="1.10" height="2.80" fill="#1173c0"/>
<rect x="532.95" y="147.80" width="1.10" height="2.60" fill="#86c8ee"/>
<rect x="532.95" y="206.00" width="1.10" height="2.60" fill="#79c0ea"/>
<rect x="532.95" y="209.60" width="1.10" height="3.00" fill="#1173c0"/>
<rect x="535.00" y="144.00" width="1.10" height="2.80" fill="#1173c0"/>
<rect x="535.00" y="147.80" width="1.10" height="2.60" fill="#86c8ee"/>
<rect x="535.00" y="206.00" width="1.10" height="2.60" fill="#79c0ea"/>
<rect x="535.00" y="209.60" width="1.10" height="3.00" fill="#1173c0"/>
<rect x="537.05" y="144.00" width="1.10" height="2.80" fill="#1173c0"/>
<rect x="537.05" y="147.80" width="1.10" height="2.60" fill="#86c8ee"/>
<rect x="537.05" y="206.00" width="1.10" height="2.60" fill="#79c0ea"/>
<rect x="537.05" y="209.60" width="1.10" height="3.00" fill="#1173c0"/>
<rect x="539.10" y="144.00" width="1.10" height="2.80" fill="#1173c0"/>
<rect x="539.10" y="147.80" width="1.10" height="2.60" fill="#86c8ee"/>
<rect x="539.10" y="206.00" width="1.10" height="2.60" fill="#79c0ea"/>
<rect x="539.10" y="209.60" width="1.10" height="3.00" fill="#1173c0"/>
<rect x="541.15" y="144.00" width="1.10" height="2.80" fill="#1173c0"/>
<rect x="541.15" y="147.80" width="1.10" height="2.60" fill="#86c8ee"/>
<rect x="541.15" y="206.00" width="1.10" height="2.60" fill="#79c0ea"/>
<rect x="541.15" y="209.60" width="1.10" height="3.00" fill="#1173c0"/>
<rect x="543.20" y="144.00" width="1.10" height="2.80" fill="#1173c0"/>
<rect x="543.20" y="147.80" width="1.10" height="2.60" fill="#86c8ee"/>
<rect x="543.20" y="206.00" width="1.10" height="2.60" fill="#79c0ea"/>
<rect x="543.20" y="209.60" width="1.10" height="3.00" fill="#1173c0"/>
<rect x="545.25" y="144.00" width="1.10" height="2.80" fill="#1173c0"/>
<rect x="545.25" y="147.80" width="1.10" height="2.60" fill="#86c8ee"/>
<rect x="545.25" y="206.00" width="1.10" height="2.60" fill="#79c0ea"/>
<rect x="545.25" y="209.60" width="1.10" height="3.00" fill="#1173c0"/>
<rect x="547.30" y="144.00" width="1.10" height="2.80" fill="#1173c0"/>
<rect x="547.30" y="147.80" width="1.10" height="2.60" fill="#86c8ee"/>
<rect x="547.30" y="206.00" width="1.10" height="2.60" fill="#79c0ea"/>
<rect x="547.30" y="209.60" width="1.10" height="3.00" fill="#1173c0"/>
<rect x="512.80" y="166.80" width="35.80" height="20.60" fill="#1a88cc" rx="1" opacity="0.8"/>
<rect x="514.00" y="165.80" width="34.00" height="19.80" fill="#36a8e6" rx="0.8"/>
<rect x="514.00" y="165.80" width="34.00" height="1.00" fill="#58b8ee" rx="0.4"/>
<rect x="622.10" y="139.00" width="105.70" height="77.10" fill="#8f979f" rx="2" opacity="0.35"/>
<rect x="623.60" y="138.00" width="102.20" height="76.60" fill="url(#blueT)" rx="1.2"/>
<rect x="623.60" y="138.00" width="102.20" height="5.40" fill="#45b0ea" rx="1"/>
<rect x="623.60" y="138.00" width="102.20" height="1.20" fill="#6cc2f0" rx="1"/>
<rect x="623.60" y="204.20" width="102.20" height="10.40" fill="#2194d8" rx="1"/>
<rect x="623.60" y="213.00" width="102.20" height="1.60" fill="#1784c8" rx="1"/>
<rect x="628.50" y="144.00" width="1.10" height="2.80" fill="#1173c0"/>
<rect x="628.50" y="147.80" width="1.10" height="2.60" fill="#86c8ee"/>
<rect x="628.50" y="206.00" width="1.10" height="2.60" fill="#79c0ea"/>
<rect x="628.50" y="209.60" width="1.10" height="3.00" fill="#1173c0"/>
<rect x="630.55" y="144.00" width="1.10" height="2.80" fill="#1173c0"/>
<rect x="630.55" y="147.80" width="1.10" height="2.60" fill="#86c8ee"/>
<rect x="630.55" y="206.00" width="1.10" height="2.60" fill="#79c0ea"/>
<rect x="630.55" y="209.60" width="1.10" height="3.00" fill="#1173c0"/>
<rect x="632.60" y="144.00" width="1.10" height="2.80" fill="#1173c0"/>
<rect x="632.60" y="147.80" width="1.10" height="2.60" fill="#86c8ee"/>
<rect x="632.60" y="206.00" width="1.10" height="2.60" fill="#79c0ea"/>
<rect x="632.60" y="209.60" width="1.10" height="3.00" fill="#1173c0"/>
<rect x="634.65" y="144.00" width="1.10" height="2.80" fill="#1173c0"/>
<rect x="634.65" y="147.80" width="1.10" height="2.60" fill="#86c8ee"/>
<rect x="634.65" y="206.00" width="1.10" height="2.60" fill="#79c0ea"/>
<rect x="634.65" y="209.60" width="1.10" height="3.00" fill="#1173c0"/>
<rect x="636.70" y="144.00" width="1.10" height="2.80" fill="#1173c0"/>
<rect x="636.70" y="147.80" width="1.10" height="2.60" fill="#86c8ee"/>
<rect x="636.70" y="206.00" width="1.10" height="2.60" fill="#79c0ea"/>
<rect x="636.70" y="209.60" width="1.10" height="3.00" fill="#1173c0"/>
<rect x="638.75" y="144.00" width="1.10" height="2.80" fill="#1173c0"/>
<rect x="638.75" y="147.80" width="1.10" height="2.60" fill="#86c8ee"/>
<rect x="638.75" y="206.00" width="1.10" height="2.60" fill="#79c0ea"/>
<rect x="638.75" y="209.60" width="1.10" height="3.00" fill="#1173c0"/>
<rect x="640.80" y="144.00" width="1.10" height="2.80" fill="#1173c0"/>
<rect x="640.80" y="147.80" width="1.10" height="2.60" fill="#86c8ee"/>
<rect x="640.80" y="206.00" width="1.10" height="2.60" fill="#79c0ea"/>
<rect x="640.80" y="209.60" width="1.10" height="3.00" fill="#1173c0"/>
<rect x="642.85" y="144.00" width="1.10" height="2.80" fill="#1173c0"/>
<rect x="642.85" y="147.80" width="1.10" height="2.60" fill="#86c8ee"/>
<rect x="642.85" y="206.00" width="1.10" height="2.60" fill="#79c0ea"/>
<rect x="642.85" y="209.60" width="1.10" height="3.00" fill="#1173c0"/>
<rect x="644.90" y="144.00" width="1.10" height="2.80" fill="#1173c0"/>
<rect x="644.90" y="147.80" width="1.10" height="2.60" fill="#86c8ee"/>
<rect x="644.90" y="206.00" width="1.10" height="2.60" fill="#79c0ea"/>
<rect x="644.90" y="209.60" width="1.10" height="3.00" fill="#1173c0"/>
<rect x="646.95" y="144.00" width="1.10" height="2.80" fill="#1173c0"/>
<rect x="646.95" y="147.80" width="1.10" height="2.60" fill="#86c8ee"/>
<rect x="646.95" y="206.00" width="1.10" height="2.60" fill="#79c0ea"/>
<rect x="646.95" y="209.60" width="1.10" height="3.00" fill="#1173c0"/>
<rect x="649.00" y="144.00" width="1.10" height="2.80" fill="#1173c0"/>
<rect x="649.00" y="147.80" width="1.10" height="2.60" fill="#86c8ee"/>
<rect x="649.00" y="206.00" width="1.10" height="2.60" fill="#79c0ea"/>
<rect x="649.00" y="209.60" width="1.10" height="3.00" fill="#1173c0"/>
<rect x="651.05" y="144.00" width="1.10" height="2.80" fill="#1173c0"/>
<rect x="651.05" y="147.80" width="1.10" height="2.60" fill="#86c8ee"/>
<rect x="651.05" y="206.00" width="1.10" height="2.60" fill="#79c0ea"/>
<rect x="651.05" y="209.60" width="1.10" height="3.00" fill="#1173c0"/>
<rect x="653.10" y="144.00" width="1.10" height="2.80" fill="#1173c0"/>
<rect x="653.10" y="147.80" width="1.10" height="2.60" fill="#86c8ee"/>
<rect x="653.10" y="206.00" width="1.10" height="2.60" fill="#79c0ea"/>
<rect x="653.10" y="209.60" width="1.10" height="3.00" fill="#1173c0"/>
<rect x="655.15" y="144.00" width="1.10" height="2.80" fill="#1173c0"/>
<rect x="655.15" y="147.80" width="1.10" height="2.60" fill="#86c8ee"/>
<rect x="655.15" y="206.00" width="1.10" height="2.60" fill="#79c0ea"/>
<rect x="655.15" y="209.60" width="1.10" height="3.00" fill="#1173c0"/>
<rect x="657.20" y="144.00" width="1.10" height="2.80" fill="#1173c0"/>
<rect x="657.20" y="147.80" width="1.10" height="2.60" fill="#86c8ee"/>
<rect x="657.20" y="206.00" width="1.10" height="2.60" fill="#79c0ea"/>
<rect x="657.20" y="209.60" width="1.10" height="3.00" fill="#1173c0"/>
<rect x="659.25" y="144.00" width="1.10" height="2.80" fill="#1173c0"/>
<rect x="659.25" y="147.80" width="1.10" height="2.60" fill="#86c8ee"/>
<rect x="659.25" y="206.00" width="1.10" height="2.60" fill="#79c0ea"/>
<rect x="659.25" y="209.60" width="1.10" height="3.00" fill="#1173c0"/>
<rect x="661.30" y="144.00" width="1.10" height="2.80" fill="#1173c0"/>
<rect x="661.30" y="147.80" width="1.10" height="2.60" fill="#86c8ee"/>
<rect x="661.30" y="206.00" width="1.10" height="2.60" fill="#79c0ea"/>
<rect x="661.30" y="209.60" width="1.10" height="3.00" fill="#1173c0"/>
<rect x="663.35" y="144.00" width="1.10" height="2.80" fill="#1173c0"/>
<rect x="663.35" y="147.80" width="1.10" height="2.60" fill="#86c8ee"/>
<rect x="663.35" y="206.00" width="1.10" height="2.60" fill="#79c0ea"/>
<rect x="663.35" y="209.60" width="1.10" height="3.00" fill="#1173c0"/>
<rect x="665.40" y="144.00" width="1.10" height="2.80" fill="#1173c0"/>
<rect x="665.40" y="147.80" width="1.10" height="2.60" fill="#86c8ee"/>
<rect x="665.40" y="206.00" width="1.10" height="2.60" fill="#79c0ea"/>
<rect x="665.40" y="209.60" width="1.10" height="3.00" fill="#1173c0"/>
<rect x="667.45" y="144.00" width="1.10" height="2.80" fill="#1173c0"/>
<rect x="667.45" y="147.80" width="1.10" height="2.60" fill="#86c8ee"/>
<rect x="667.45" y="206.00" width="1.10" height="2.60" fill="#79c0ea"/>
<rect x="667.45" y="209.60" width="1.10" height="3.00" fill="#1173c0"/>
<rect x="669.50" y="144.00" width="1.10" height="2.80" fill="#1173c0"/>
<rect x="669.50" y="147.80" width="1.10" height="2.60" fill="#86c8ee"/>
<rect x="669.50" y="206.00" width="1.10" height="2.60" fill="#79c0ea"/>
<rect x="669.50" y="209.60" width="1.10" height="3.00" fill="#1173c0"/>
<rect x="671.55" y="144.00" width="1.10" height="2.80" fill="#1173c0"/>
<rect x="671.55" y="147.80" width="1.10" height="2.60" fill="#86c8ee"/>
<rect x="671.55" y="206.00" width="1.10" height="2.60" fill="#79c0ea"/>
<rect x="671.55" y="209.60" width="1.10" height="3.00" fill="#1173c0"/>
<rect x="673.60" y="144.00" width="1.10" height="2.80" fill="#1173c0"/>
<rect x="673.60" y="147.80" width="1.10" height="2.60" fill="#86c8ee"/>
<rect x="673.60" y="206.00" width="1.10" height="2.60" fill="#79c0ea"/>
<rect x="673.60" y="209.60" width="1.10" height="3.00" fill="#1173c0"/>
<rect x="675.65" y="144.00" width="1.10" height="2.80" fill="#1173c0"/>
<rect x="675.65" y="147.80" width="1.10" height="2.60" fill="#86c8ee"/>
<rect x="675.65" y="206.00" width="1.10" height="2.60" fill="#79c0ea"/>
<rect x="675.65" y="209.60" width="1.10" height="3.00" fill="#1173c0"/>
<rect x="677.70" y="144.00" width="1.10" height="2.80" fill="#1173c0"/>
<rect x="677.70" y="147.80" width="1.10" height="2.60" fill="#86c8ee"/>
<rect x="677.70" y="206.00" width="1.10" height="2.60" fill="#79c0ea"/>
<rect x="677.70" y="209.60" width="1.10" height="3.00" fill="#1173c0"/>
<rect x="679.75" y="144.00" width="1.10" height="2.80" fill="#1173c0"/>
<rect x="679.75" y="147.80" width="1.10" height="2.60" fill="#86c8ee"/>
<rect x="679.75" y="206.00" width="1.10" height="2.60" fill="#79c0ea"/>
<rect x="679.75" y="209.60" width="1.10" height="3.00" fill="#1173c0"/>
<rect x="681.80" y="144.00" width="1.10" height="2.80" fill="#1173c0"/>
<rect x="681.80" y="147.80" width="1.10" height="2.60" fill="#86c8ee"/>
<rect x="681.80" y="206.00" width="1.10" height="2.60" fill="#79c0ea"/>
<rect x="681.80" y="209.60" width="1.10" height="3.00" fill="#1173c0"/>
<rect x="683.85" y="144.00" width="1.10" height="2.80" fill="#1173c0"/>
<rect x="683.85" y="147.80" width="1.10" height="2.60" fill="#86c8ee"/>
<rect x="683.85" y="206.00" width="1.10" height="2.60" fill="#79c0ea"/>
<rect x="683.85" y="209.60" width="1.10" height="3.00" fill="#1173c0"/>
<rect x="685.90" y="144.00" width="1.10" height="2.80" fill="#1173c0"/>
<rect x="685.90" y="147.80" width="1.10" height="2.60" fill="#86c8ee"/>
<rect x="685.90" y="206.00" width="1.10" height="2.60" fill="#79c0ea"/>
<rect x="685.90" y="209.60" width="1.10" height="3.00" fill="#1173c0"/>
<rect x="687.95" y="144.00" width="1.10" height="2.80" fill="#1173c0"/>
<rect x="687.95" y="147.80" width="1.10" height="2.60" fill="#86c8ee"/>
<rect x="687.95" y="206.00" width="1.10" height="2.60" fill="#79c0ea"/>
<rect x="687.95" y="209.60" width="1.10" height="3.00" fill="#1173c0"/>
<rect x="690.00" y="144.00" width="1.10" height="2.80" fill="#1173c0"/>
<rect x="690.00" y="147.80" width="1.10" height="2.60" fill="#86c8ee"/>
<rect x="690.00" y="206.00" width="1.10" height="2.60" fill="#79c0ea"/>
<rect x="690.00" y="209.60" width="1.10" height="3.00" fill="#1173c0"/>
<rect x="692.05" y="144.00" width="1.10" height="2.80" fill="#1173c0"/>
<rect x="692.05" y="147.80" width="1.10" height="2.60" fill="#86c8ee"/>
<rect x="692.05" y="206.00" width="1.10" height="2.60" fill="#79c0ea"/>
<rect x="692.05" y="209.60" width="1.10" height="3.00" fill="#1173c0"/>
<rect x="694.10" y="144.00" width="1.10" height="2.80" fill="#1173c0"/>
<rect x="694.10" y="147.80" width="1.10" height="2.60" fill="#86c8ee"/>
<rect x="694.10" y="206.00" width="1.10" height="2.60" fill="#79c0ea"/>
<rect x="694.10" y="209.60" width="1.10" height="3.00" fill="#1173c0"/>
<rect x="696.15" y="144.00" width="1.10" height="2.80" fill="#1173c0"/>
<rect x="696.15" y="147.80" width="1.10" height="2.60" fill="#86c8ee"/>
<rect x="696.15" y="206.00" width="1.10" height="2.60" fill="#79c0ea"/>
<rect x="696.15" y="209.60" width="1.10" height="3.00" fill="#1173c0"/>
<rect x="698.20" y="144.00" width="1.10" height="2.80" fill="#1173c0"/>
<rect x="698.20" y="147.80" width="1.10" height="2.60" fill="#86c8ee"/>
<rect x="698.20" y="206.00" width="1.10" height="2.60" fill="#79c0ea"/>
<rect x="698.20" y="209.60" width="1.10" height="3.00" fill="#1173c0"/>
<rect x="700.25" y="144.00" width="1.10" height="2.80" fill="#1173c0"/>
<rect x="700.25" y="147.80" width="1.10" height="2.60" fill="#86c8ee"/>
<rect x="700.25" y="206.00" width="1.10" height="2.60" fill="#79c0ea"/>
<rect x="700.25" y="209.60" width="1.10" height="3.00" fill="#1173c0"/>
<rect x="702.30" y="144.00" width="1.10" height="2.80" fill="#1173c0"/>
<rect x="702.30" y="147.80" width="1.10" height="2.60" fill="#86c8ee"/>
<rect x="702.30" y="206.00" width="1.10" height="2.60" fill="#79c0ea"/>
<rect x="702.30" y="209.60" width="1.10" height="3.00" fill="#1173c0"/>
<rect x="704.35" y="144.00" width="1.10" height="2.80" fill="#1173c0"/>
<rect x="704.35" y="147.80" width="1.10" height="2.60" fill="#86c8ee"/>
<rect x="704.35" y="206.00" width="1.10" height="2.60" fill="#79c0ea"/>
<rect x="704.35" y="209.60" width="1.10" height="3.00" fill="#1173c0"/>
<rect x="706.40" y="144.00" width="1.10" height="2.80" fill="#1173c0"/>
<rect x="706.40" y="147.80" width="1.10" height="2.60" fill="#86c8ee"/>
<rect x="706.40" y="206.00" width="1.10" height="2.60" fill="#79c0ea"/>
<rect x="706.40" y="209.60" width="1.10" height="3.00" fill="#1173c0"/>
<rect x="708.45" y="144.00" width="1.10" height="2.80" fill="#1173c0"/>
<rect x="708.45" y="147.80" width="1.10" height="2.60" fill="#86c8ee"/>
<rect x="708.45" y="206.00" width="1.10" height="2.60" fill="#79c0ea"/>
<rect x="708.45" y="209.60" width="1.10" height="3.00" fill="#1173c0"/>
<rect x="710.50" y="144.00" width="1.10" height="2.80" fill="#1173c0"/>
<rect x="710.50" y="147.80" width="1.10" height="2.60" fill="#86c8ee"/>
<rect x="710.50" y="206.00" width="1.10" height="2.60" fill="#79c0ea"/>
<rect x="710.50" y="209.60" width="1.10" height="3.00" fill="#1173c0"/>
<rect x="712.55" y="144.00" width="1.10" height="2.80" fill="#1173c0"/>
<rect x="712.55" y="147.80" width="1.10" height="2.60" fill="#86c8ee"/>
<rect x="712.55" y="206.00" width="1.10" height="2.60" fill="#79c0ea"/>
<rect x="712.55" y="209.60" width="1.10" height="3.00" fill="#1173c0"/>
<rect x="714.60" y="144.00" width="1.10" height="2.80" fill="#1173c0"/>
<rect x="714.60" y="147.80" width="1.10" height="2.60" fill="#86c8ee"/>
<rect x="714.60" y="206.00" width="1.10" height="2.60" fill="#79c0ea"/>
<rect x="714.60" y="209.60" width="1.10" height="3.00" fill="#1173c0"/>
<rect x="716.65" y="144.00" width="1.10" height="2.80" fill="#1173c0"/>
<rect x="716.65" y="147.80" width="1.10" height="2.60" fill="#86c8ee"/>
<rect x="716.65" y="206.00" width="1.10" height="2.60" fill="#79c0ea"/>
<rect x="716.65" y="209.60" width="1.10" height="3.00" fill="#1173c0"/>
<rect x="718.70" y="144.00" width="1.10" height="2.80" fill="#1173c0"/>
<rect x="718.70" y="147.80" width="1.10" height="2.60" fill="#86c8ee"/>
<rect x="718.70" y="206.00" width="1.10" height="2.60" fill="#79c0ea"/>
<rect x="718.70" y="209.60" width="1.10" height="3.00" fill="#1173c0"/>
<rect x="720.75" y="144.00" width="1.10" height="2.80" fill="#1173c0"/>
<rect x="720.75" y="147.80" width="1.10" height="2.60" fill="#86c8ee"/>
<rect x="720.75" y="206.00" width="1.10" height="2.60" fill="#79c0ea"/>
<rect x="720.75" y="209.60" width="1.10" height="3.00" fill="#1173c0"/>
<rect x="656.30" y="166.00" width="35.30" height="20.80" fill="#1a88cc" rx="1" opacity="0.8"/>
<rect x="657.50" y="165.00" width="33.50" height="20.00" fill="#36a8e6" rx="0.8"/>
<rect x="657.50" y="165.00" width="33.50" height="1.00" fill="#58b8ee" rx="0.4"/>
<rect x="633.00" y="161.00" width="0.90" height="9.00" fill="#52aee8"/>
<rect x="634.80" y="161.00" width="0.90" height="9.00" fill="#52aee8"/>
<rect x="636.60" y="161.00" width="0.90" height="9.00" fill="#52aee8"/>
<rect x="638.40" y="161.00" width="0.90" height="9.00" fill="#52aee8"/>
<rect x="640.20" y="161.00" width="0.90" height="9.00" fill="#52aee8"/>
<rect x="642.00" y="161.00" width="0.90" height="9.00" fill="#52aee8"/>
<rect x="643.80" y="161.00" width="0.90" height="9.00" fill="#52aee8"/>
<rect x="645.60" y="161.00" width="0.90" height="9.00" fill="#52aee8"/>
<rect x="647.40" y="161.00" width="0.90" height="9.00" fill="#52aee8"/>
<rect x="649.20" y="161.00" width="0.90" height="9.00" fill="#52aee8"/>
<rect x="651.00" y="161.00" width="0.90" height="9.00" fill="#52aee8"/>
<rect x="633.00" y="186.00" width="0.90" height="10.00" fill="#52aee8"/>
<rect x="634.80" y="186.00" width="0.90" height="10.00" fill="#52aee8"/>
<rect x="636.60" y="186.00" width="0.90" height="10.00" fill="#52aee8"/>
<rect x="638.40" y="186.00" width="0.90" height="10.00" fill="#52aee8"/>
<rect x="640.20" y="186.00" width="0.90" height="10.00" fill="#52aee8"/>
<rect x="642.00" y="186.00" width="0.90" height="10.00" fill="#52aee8"/>
<rect x="643.80" y="186.00" width="0.90" height="10.00" fill="#52aee8"/>
<rect x="645.60" y="186.00" width="0.90" height="10.00" fill="#52aee8"/>
<rect x="647.40" y="186.00" width="0.90" height="10.00" fill="#52aee8"/>
<rect x="649.20" y="186.00" width="0.90" height="10.00" fill="#52aee8"/>
<rect x="651.00" y="186.00" width="0.90" height="10.00" fill="#52aee8"/>
<rect x="698.00" y="161.00" width="0.90" height="9.00" fill="#52aee8"/>
<rect x="699.80" y="161.00" width="0.90" height="9.00" fill="#52aee8"/>
<rect x="701.60" y="161.00" width="0.90" height="9.00" fill="#52aee8"/>
<rect x="703.40" y="161.00" width="0.90" height="9.00" fill="#52aee8"/>
<rect x="705.20" y="161.00" width="0.90" height="9.00" fill="#52aee8"/>
<rect x="707.00" y="161.00" width="0.90" height="9.00" fill="#52aee8"/>
<rect x="708.80" y="161.00" width="0.90" height="9.00" fill="#52aee8"/>
<rect x="710.60" y="161.00" width="0.90" height="9.00" fill="#52aee8"/>
<rect x="712.40" y="161.00" width="0.90" height="9.00" fill="#52aee8"/>
<rect x="714.20" y="161.00" width="0.90" height="9.00" fill="#52aee8"/>
<rect x="716.00" y="161.00" width="0.90" height="9.00" fill="#52aee8"/>
<rect x="698.00" y="186.00" width="0.90" height="10.00" fill="#52aee8"/>
<rect x="699.80" y="186.00" width="0.90" height="10.00" fill="#52aee8"/>
<rect x="701.60" y="186.00" width="0.90" height="10.00" fill="#52aee8"/>
<rect x="703.40" y="186.00" width="0.90" height="10.00" fill="#52aee8"/>
<rect x="705.20" y="186.00" width="0.90" height="10.00" fill="#52aee8"/>
<rect x="707.00" y="186.00" width="0.90" height="10.00" fill="#52aee8"/>
<rect x="708.80" y="186.00" width="0.90" height="10.00" fill="#52aee8"/>
<rect x="710.60" y="186.00" width="0.90" height="10.00" fill="#52aee8"/>
<rect x="712.40" y="186.00" width="0.90" height="10.00" fill="#52aee8"/>
<rect x="714.20" y="186.00" width="0.90" height="10.00" fill="#52aee8"/>
<rect x="716.00" y="186.00" width="0.90" height="10.00" fill="#52aee8"/>
<path d="M410,241.6 L542,263 L542.6,265.6 L410,243.6 Z" fill="#e4e6e9" stroke="#6c6e72" stroke-width="0.7"/>
<circle cx="529.00" cy="262.70" r="1.20" fill="#9a9c9f"/>
<path d="M808.8,242 L677,263 L676.4,265.6 L808.8,244 Z" fill="#e4e6e9" stroke="#6c6e72" stroke-width="0.7"/>
<circle cx="690.00" cy="262.70" r="1.20" fill="#9a9c9f"/>
<rect x="635.00" y="241.50" width="1.50" height="3.00" fill="#333"/>
<rect x="633.00" y="241.50" width="3.00" height="1.50" fill="#555"/>
</g>
<g id="front-view">
<path d="M383,630 H405 V649 Q405,652 402,652 H386 Q383,652 383,649 Z" fill="#e1e3e6" stroke="#a5a7ab" stroke-width="0.7"/>
<rect x="390.00" y="640.50" width="7.60" height="15.00" fill="#1f1f1f" rx="2"/>
<rect x="391.30" y="642.00" width="5.00" height="12.00" fill="#3d3d3d" rx="1.5"/>
<path d="M816,630 H838.5 V649 Q838.5,652 835.5,652 H819 Q816,652 816,649 Z" fill="#e1e3e6" stroke="#a5a7ab" stroke-width="0.7"/>
<rect x="823.80" y="640.50" width="7.40" height="15.00" fill="#1f1f1f" rx="2"/>
<rect x="825.10" y="642.00" width="4.80" height="12.00" fill="#3d3d3d" rx="1.5"/>
<rect x="382.50" y="442.00" width="455.00" height="188.00" fill="url(#fcab)" rx="1.5" stroke="#b3b5b9" stroke-width="0.6"/>
<line x1="382.60" y1="444.00" x2="382.60" y2="629.60" stroke="#4f5154" stroke-width="0.9"/>
<line x1="837.50" y1="444.00" x2="837.50" y2="629.60" stroke="#4f5154" stroke-width="0.9"/>
<line x1="404.00" y1="629.60" x2="816.00" y2="629.60" stroke="#77797d" stroke-width="0.8"/>
<rect x="383.00" y="441.40" width="454.00" height="2.20" fill="#e9ebef"/>
<rect x="391.00" y="455.00" width="153.50" height="163.00" fill="url(#gasp)" stroke="#cfd1d4" stroke-width="0.6"/>
<rect x="675.00" y="455.00" width="154.00" height="164.00" fill="url(#utilp)" stroke="#cfd1d4" stroke-width="0.6"/>
<rect x="675.00" y="455.00" width="154.00" height="5.00" fill="#d9dbde" opacity="0.7"/>
<line x1="544.50" y1="470.00" x2="544.50" y2="610.00" stroke="#bfc1c4" stroke-width="0.7" stroke-dasharray="6 3"/>
<ellipse cx="462" cy="540" rx="62" ry="52" fill="url(#shadow)" opacity="0.75"/>
<ellipse cx="522" cy="494" rx="14" ry="12" fill="url(#shadow)" opacity="0.6"/>
<ellipse cx="452" cy="494" rx="14" ry="12" fill="url(#shadow)" opacity="0.6"/>
<path d="M452.5,455 V581" fill="none" stroke="#7d7f82" stroke-width="1.6"/>
<path d="M452.5,455 V581" fill="none" stroke="#d9d9d9" stroke-width="0.5" stroke-dasharray="1 1"/>
<path d="M452.5,474.3 H517.5 Q522,474.3 522,479 V492" fill="none" stroke="#6f7174" stroke-width="2"/>
<path d="M452.5,474.3 H517.5 Q522,474.3 522,479 V492" fill="none" stroke="#cfcfcf" stroke-width="0.7" stroke-dasharray="1 1"/>
<ellipse cx="452.5" cy="472" rx="1.9" ry="2.6" fill="#efefef" stroke="#77797c" stroke-width="0.6"/>
<ellipse cx="452.5" cy="483.5" rx="1.9" ry="2.6" fill="#efefef" stroke="#77797c" stroke-width="0.6"/>
<ellipse cx="452.5" cy="504.5" rx="1.9" ry="2.6" fill="#efefef" stroke="#77797c" stroke-width="0.6"/>
<ellipse cx="452.5" cy="468" rx="1.5" ry="2" fill="#efefef" stroke="#77797c" stroke-width="0.6"/>
<ellipse cx="522" cy="484" rx="1.7" ry="2.4" fill="#efefef" stroke="#77797c" stroke-width="0.6"/>
<rect x="445.10" y="490.70" width="14.80" height="7.20" fill="#e3e5e8" rx="2.4"/>
<circle cx="452.50" cy="494.30" r="4.00" fill="#d9dadc" stroke="#5f6164" stroke-width="0.7"/>
<path d="M448.7,494.6 A3.8000000000000003,3.8000000000000003 0 0 0 456.3,494.6 L454.5,494.6 A2.0,2.0 0 0 1 450.5,494.6 Z" fill="#222"/>
<circle cx="452.50" cy="494.30" r="2.10" fill="#f2f2f3" stroke="#8a8c8f" stroke-width="0.4"/>
<rect x="514.90" y="490.70" width="14.80" height="7.20" fill="#e3e5e8" rx="2.4"/>
<circle cx="522.30" cy="494.30" r="4.00" fill="#d9dadc" stroke="#5f6164" stroke-width="0.7"/>
<path d="M518.4999999999999,494.6 A3.8000000000000003,3.8000000000000003 0 0 0 526.1,494.6 L524.3,494.6 A2.0,2.0 0 0 1 520.3,494.6 Z" fill="#222"/>
<circle cx="522.30" cy="494.30" r="2.10" fill="#f2f2f3" stroke="#8a8c8f" stroke-width="0.4"/>
<rect x="415.00" y="510.80" width="92.00" height="3.20" fill="#85878a" rx="0.5" stroke="#5f6164" stroke-width="0.5"/>
<rect x="415.00" y="511.30" width="92.00" height="0.90" fill="#d9d9d9"/>
<line x1="417.30" y1="514.00" x2="417.30" y2="528.00" stroke="#8a8c8f" stroke-width="1.2"/>
<ellipse cx="417.3" cy="518.2" rx="1.5" ry="1.7" fill="#efefef" stroke="#77797c" stroke-width="0.6"/>
<ellipse cx="417.3" cy="523.2" rx="2" ry="2.8" fill="#efefef" stroke="#77797c" stroke-width="0.6"/>
<rect x="409.60" y="528.70" width="15.40" height="7.70" fill="#e4e6e9" rx="2.2" stroke="#eceef0" stroke-width="0.5"/>
<rect x="409.80" y="545.00" width="15.00" height="19.00" fill="#e2e4e7" rx="2.2" stroke="#eceef0" stroke-width="0.5"/>
<rect x="411.90" y="546.80" width="10.80" height="15.40" fill="#e9ebed" rx="1.5"/>
<line x1="417.30" y1="528.00" x2="417.30" y2="581.00" stroke="#8a8c8f" stroke-width="1.2"/>
<rect x="409.90" y="528.70" width="14.80" height="7.20" fill="#e3e5e8" rx="2.4"/>
<circle cx="417.30" cy="532.30" r="3.70" fill="#d9dadc" stroke="#5f6164" stroke-width="0.7"/>
<path d="M413.8,532.5999999999999 A3.5,3.5 0 0 0 420.8,532.5999999999999 L419.0,532.5999999999999 A1.6999999999999997,1.6999999999999997 0 0 1 415.6,532.5999999999999 Z" fill="#222"/>
<circle cx="417.30" cy="532.30" r="1.80" fill="#f2f2f3" stroke="#8a8c8f" stroke-width="0.4"/>
<ellipse cx="417.3" cy="540.3" rx="1.7" ry="2.2" fill="#efefef" stroke="#77797c" stroke-width="0.6"/>
<rect x="413.50" y="545.80" width="7.60" height="17.20" fill="#3a3a3a" rx="0.8"/>
<rect x="416.80" y="551.00" width="1.00" height="7.00" fill="#bdbdbd"/>
<ellipse cx="417.3" cy="567" rx="1.8" ry="2.4" fill="#efefef" stroke="#77797c" stroke-width="0.6"/>
<ellipse cx="417.3" cy="571.5" rx="1.5" ry="1.5" fill="#efefef" stroke="#77797c" stroke-width="0.6"/>
<ellipse cx="417.3" cy="575" rx="1.5" ry="1.5" fill="#efefef" stroke="#77797c" stroke-width="0.6"/>
<ellipse cx="417.3" cy="578.5" rx="1.5" ry="1.5" fill="#efefef" stroke="#77797c" stroke-width="0.6"/>
<line x1="434.80" y1="514.00" x2="434.80" y2="528.00" stroke="#8a8c8f" stroke-width="1.2"/>
<ellipse cx="434.8" cy="518.2" rx="1.5" ry="1.7" fill="#efefef" stroke="#77797c" stroke-width="0.6"/>
<ellipse cx="434.8" cy="523.2" rx="2" ry="2.8" fill="#efefef" stroke="#77797c" stroke-width="0.6"/>
<rect x="427.10" y="528.70" width="15.40" height="7.70" fill="#e4e6e9" rx="2.2" stroke="#eceef0" stroke-width="0.5"/>
<rect x="427.30" y="545.00" width="15.00" height="19.00" fill="#e2e4e7" rx="2.2" stroke="#eceef0" stroke-width="0.5"/>
<rect x="429.40" y="546.80" width="10.80" height="15.40" fill="#e9ebed" rx="1.5"/>
<line x1="434.80" y1="528.00" x2="434.80" y2="581.00" stroke="#8a8c8f" stroke-width="1.2"/>
<rect x="427.40" y="528.70" width="14.80" height="7.20" fill="#e3e5e8" rx="2.4"/>
<circle cx="434.80" cy="532.30" r="3.70" fill="#d9dadc" stroke="#5f6164" stroke-width="0.7"/>
<path d="M431.3,532.5999999999999 A3.5,3.5 0 0 0 438.3,532.5999999999999 L436.5,532.5999999999999 A1.6999999999999997,1.6999999999999997 0 0 1 433.1,532.5999999999999 Z" fill="#222"/>
<circle cx="434.80" cy="532.30" r="1.80" fill="#f2f2f3" stroke="#8a8c8f" stroke-width="0.4"/>
<ellipse cx="434.8" cy="540.3" rx="1.7" ry="2.2" fill="#efefef" stroke="#77797c" stroke-width="0.6"/>
<rect x="431.00" y="545.80" width="7.60" height="17.20" fill="#3a3a3a" rx="0.8"/>
<rect x="434.30" y="551.00" width="1.00" height="7.00" fill="#bdbdbd"/>
<ellipse cx="434.8" cy="567" rx="1.8" ry="2.4" fill="#efefef" stroke="#77797c" stroke-width="0.6"/>
<ellipse cx="434.8" cy="571.5" rx="1.5" ry="1.5" fill="#efefef" stroke="#77797c" stroke-width="0.6"/>
<ellipse cx="434.8" cy="575" rx="1.5" ry="1.5" fill="#efefef" stroke="#77797c" stroke-width="0.6"/>
<ellipse cx="434.8" cy="578.5" rx="1.5" ry="1.5" fill="#efefef" stroke="#77797c" stroke-width="0.6"/>
<line x1="452.50" y1="514.00" x2="452.50" y2="528.00" stroke="#8a8c8f" stroke-width="1.2"/>
<ellipse cx="452.5" cy="518.2" rx="1.5" ry="1.7" fill="#efefef" stroke="#77797c" stroke-width="0.6"/>
<ellipse cx="452.5" cy="523.2" rx="2" ry="2.8" fill="#efefef" stroke="#77797c" stroke-width="0.6"/>
<rect x="444.80" y="528.70" width="15.40" height="7.70" fill="#e4e6e9" rx="2.2" stroke="#eceef0" stroke-width="0.5"/>
<rect x="445.00" y="545.00" width="15.00" height="19.00" fill="#e2e4e7" rx="2.2" stroke="#eceef0" stroke-width="0.5"/>
<rect x="447.10" y="546.80" width="10.80" height="15.40" fill="#e9ebed" rx="1.5"/>
<line x1="452.50" y1="528.00" x2="452.50" y2="581.00" stroke="#8a8c8f" stroke-width="1.2"/>
<rect x="445.10" y="528.70" width="14.80" height="7.20" fill="#e3e5e8" rx="2.4"/>
<circle cx="452.50" cy="532.30" r="3.70" fill="#d9dadc" stroke="#5f6164" stroke-width="0.7"/>
<path d="M449.0,532.5999999999999 A3.5,3.5 0 0 0 456.0,532.5999999999999 L454.2,532.5999999999999 A1.6999999999999997,1.6999999999999997 0 0 1 450.8,532.5999999999999 Z" fill="#222"/>
<circle cx="452.50" cy="532.30" r="1.80" fill="#f2f2f3" stroke="#8a8c8f" stroke-width="0.4"/>
<ellipse cx="452.5" cy="540.3" rx="1.7" ry="2.2" fill="#efefef" stroke="#77797c" stroke-width="0.6"/>
<rect x="448.70" y="545.80" width="7.60" height="17.20" fill="#3a3a3a" rx="0.8"/>
<rect x="452.00" y="551.00" width="1.00" height="7.00" fill="#bdbdbd"/>
<ellipse cx="452.5" cy="567" rx="1.8" ry="2.4" fill="#efefef" stroke="#77797c" stroke-width="0.6"/>
<ellipse cx="452.5" cy="571.5" rx="1.5" ry="1.5" fill="#efefef" stroke="#77797c" stroke-width="0.6"/>
<ellipse cx="452.5" cy="575" rx="1.5" ry="1.5" fill="#efefef" stroke="#77797c" stroke-width="0.6"/>
<ellipse cx="452.5" cy="578.5" rx="1.5" ry="1.5" fill="#efefef" stroke="#77797c" stroke-width="0.6"/>
<line x1="469.70" y1="514.00" x2="469.70" y2="528.00" stroke="#8a8c8f" stroke-width="1.2"/>
<ellipse cx="469.7" cy="518.2" rx="1.5" ry="1.7" fill="#efefef" stroke="#77797c" stroke-width="0.6"/>
<ellipse cx="469.7" cy="523.2" rx="2" ry="2.8" fill="#efefef" stroke="#77797c" stroke-width="0.6"/>
<rect x="462.00" y="528.70" width="15.40" height="7.70" fill="#e4e6e9" rx="2.2" stroke="#eceef0" stroke-width="0.5"/>
<rect x="462.20" y="545.00" width="15.00" height="19.00" fill="#e2e4e7" rx="2.2" stroke="#eceef0" stroke-width="0.5"/>
<rect x="464.30" y="546.80" width="10.80" height="15.40" fill="#e9ebed" rx="1.5"/>
<line x1="487.20" y1="514.00" x2="487.20" y2="528.00" stroke="#8a8c8f" stroke-width="1.2"/>
<ellipse cx="487.2" cy="518.2" rx="1.5" ry="1.7" fill="#efefef" stroke="#77797c" stroke-width="0.6"/>
<ellipse cx="487.2" cy="523.2" rx="2" ry="2.8" fill="#efefef" stroke="#77797c" stroke-width="0.6"/>
<rect x="479.50" y="528.70" width="15.40" height="7.70" fill="#e4e6e9" rx="2.2" stroke="#eceef0" stroke-width="0.5"/>
<rect x="479.70" y="545.00" width="15.00" height="19.00" fill="#e2e4e7" rx="2.2" stroke="#eceef0" stroke-width="0.5"/>
<rect x="481.80" y="546.80" width="10.80" height="15.40" fill="#e9ebed" rx="1.5"/>
<line x1="504.60" y1="514.00" x2="504.60" y2="528.00" stroke="#8a8c8f" stroke-width="1.2"/>
<ellipse cx="504.6" cy="518.2" rx="1.5" ry="1.7" fill="#efefef" stroke="#77797c" stroke-width="0.6"/>
<ellipse cx="504.6" cy="523.2" rx="2" ry="2.8" fill="#efefef" stroke="#77797c" stroke-width="0.6"/>
<rect x="496.90" y="528.70" width="15.40" height="7.70" fill="#e4e6e9" rx="2.2" stroke="#eceef0" stroke-width="0.5"/>
<rect x="497.10" y="545.00" width="15.00" height="19.00" fill="#e2e4e7" rx="2.2" stroke="#eceef0" stroke-width="0.5"/>
<rect x="499.20" y="546.80" width="10.80" height="15.40" fill="#e9ebed" rx="1.5"/>
<rect x="410.70" y="602.00" width="118.60" height="6.60" fill="url(#clamp)" rx="0.5"/>
<rect x="410.70" y="602.00" width="118.60" height="4.00" fill="url(#clampd)" rx="0.5"/>
<line x1="412.00" y1="607.40" x2="528.00" y2="607.40" stroke="#e4e5e6" stroke-width="0.8"/>
<circle cx="418.00" cy="602.00" r="0.90" fill="#d9d9d9" stroke="#8a8c8f" stroke-width="0.3"/>
<circle cx="435.00" cy="602.00" r="0.90" fill="#d9d9d9" stroke="#8a8c8f" stroke-width="0.3"/>
<circle cx="452.50" cy="602.00" r="0.90" fill="#d9d9d9" stroke="#8a8c8f" stroke-width="0.3"/>
<circle cx="470.00" cy="602.00" r="0.90" fill="#d9d9d9" stroke="#8a8c8f" stroke-width="0.3"/>
<circle cx="487.50" cy="602.00" r="0.90" fill="#d9d9d9" stroke="#8a8c8f" stroke-width="0.3"/>
<circle cx="505.00" cy="602.00" r="0.90" fill="#d9d9d9" stroke="#8a8c8f" stroke-width="0.3"/>
<circle cx="522.00" cy="602.00" r="0.90" fill="#d9d9d9" stroke="#8a8c8f" stroke-width="0.3"/>
<rect x="392.00" y="610.00" width="124.40" height="6.80" fill="#f1f2f4"/>
<rect x="393.40" y="610.60" width="1.50" height="5.80" fill="#cdd0d5"/>
<rect x="397.40" y="610.60" width="1.50" height="5.80" fill="#cdd0d5"/>
<rect x="401.40" y="610.60" width="1.50" height="5.80" fill="#cdd0d5"/>
<rect x="405.40" y="610.60" width="1.50" height="5.80" fill="#cdd0d5"/>
<rect x="409.40" y="610.60" width="1.50" height="5.80" fill="#cdd0d5"/>
<rect x="413.40" y="610.60" width="1.50" height="5.80" fill="#cdd0d5"/>
<rect x="417.40" y="610.60" width="1.50" height="5.80" fill="#cdd0d5"/>
<rect x="421.40" y="610.60" width="1.50" height="5.80" fill="#cdd0d5"/>
<rect x="425.40" y="610.60" width="1.50" height="5.80" fill="#cdd0d5"/>
<rect x="429.40" y="610.60" width="1.50" height="5.80" fill="#cdd0d5"/>
<rect x="433.40" y="610.60" width="1.50" height="5.80" fill="#cdd0d5"/>
<rect x="437.40" y="610.60" width="1.50" height="5.80" fill="#cdd0d5"/>
<rect x="441.40" y="610.60" width="1.50" height="5.80" fill="#cdd0d5"/>
<rect x="445.40" y="610.60" width="1.50" height="5.80" fill="#cdd0d5"/>
<rect x="449.40" y="610.60" width="1.50" height="5.80" fill="#cdd0d5"/>
<rect x="453.40" y="610.60" width="1.50" height="5.80" fill="#cdd0d5"/>
<rect x="457.40" y="610.60" width="1.50" height="5.80" fill="#cdd0d5"/>
<rect x="461.40" y="610.60" width="1.50" height="5.80" fill="#cdd0d5"/>
<rect x="465.40" y="610.60" width="1.50" height="5.80" fill="#cdd0d5"/>
<rect x="469.40" y="610.60" width="1.50" height="5.80" fill="#cdd0d5"/>
<rect x="473.40" y="610.60" width="1.50" height="5.80" fill="#cdd0d5"/>
<rect x="477.40" y="610.60" width="1.50" height="5.80" fill="#cdd0d5"/>
<rect x="481.40" y="610.60" width="1.50" height="5.80" fill="#cdd0d5"/>
<rect x="485.40" y="610.60" width="1.50" height="5.80" fill="#cdd0d5"/>
<rect x="489.40" y="610.60" width="1.50" height="5.80" fill="#cdd0d5"/>
<rect x="493.40" y="610.60" width="1.50" height="5.80" fill="#cdd0d5"/>
<rect x="497.40" y="610.60" width="1.50" height="5.80" fill="#cdd0d5"/>
<rect x="501.40" y="610.60" width="1.50" height="5.80" fill="#cdd0d5"/>
<rect x="505.40" y="610.60" width="1.50" height="5.80" fill="#cdd0d5"/>
<rect x="509.40" y="610.60" width="1.50" height="5.80" fill="#cdd0d5"/>
<rect x="513.40" y="610.60" width="1.50" height="5.80" fill="#cdd0d5"/>
<rect x="704.00" y="609.40" width="123.60" height="7.60" fill="#f0f1f3"/>
<rect x="705.20" y="610.00" width="1.50" height="6.60" fill="#cfd2d7"/>
<rect x="709.20" y="610.00" width="1.50" height="6.60" fill="#cfd2d7"/>
<rect x="713.20" y="610.00" width="1.50" height="6.60" fill="#cfd2d7"/>
<rect x="717.20" y="610.00" width="1.50" height="6.60" fill="#cfd2d7"/>
<rect x="721.20" y="610.00" width="1.50" height="6.60" fill="#cfd2d7"/>
<rect x="725.20" y="610.00" width="1.50" height="6.60" fill="#cfd2d7"/>
<rect x="729.20" y="610.00" width="1.50" height="6.60" fill="#cfd2d7"/>
<rect x="733.20" y="610.00" width="1.50" height="6.60" fill="#cfd2d7"/>
<rect x="737.20" y="610.00" width="1.50" height="6.60" fill="#cfd2d7"/>
<rect x="741.20" y="610.00" width="1.50" height="6.60" fill="#cfd2d7"/>
<rect x="745.20" y="610.00" width="1.50" height="6.60" fill="#cfd2d7"/>
<rect x="749.20" y="610.00" width="1.50" height="6.60" fill="#cfd2d7"/>
<rect x="753.20" y="610.00" width="1.50" height="6.60" fill="#cfd2d7"/>
<rect x="757.20" y="610.00" width="1.50" height="6.60" fill="#cfd2d7"/>
<rect x="761.20" y="610.00" width="1.50" height="6.60" fill="#cfd2d7"/>
<rect x="765.20" y="610.00" width="1.50" height="6.60" fill="#cfd2d7"/>
<rect x="769.20" y="610.00" width="1.50" height="6.60" fill="#cfd2d7"/>
<rect x="773.20" y="610.00" width="1.50" height="6.60" fill="#cfd2d7"/>
<rect x="777.20" y="610.00" width="1.50" height="6.60" fill="#cfd2d7"/>
<rect x="781.20" y="610.00" width="1.50" height="6.60" fill="#cfd2d7"/>
<rect x="785.20" y="610.00" width="1.50" height="6.60" fill="#cfd2d7"/>
<rect x="789.20" y="610.00" width="1.50" height="6.60" fill="#cfd2d7"/>
<rect x="793.20" y="610.00" width="1.50" height="6.60" fill="#cfd2d7"/>
<rect x="797.20" y="610.00" width="1.50" height="6.60" fill="#cfd2d7"/>
<rect x="801.20" y="610.00" width="1.50" height="6.60" fill="#cfd2d7"/>
<rect x="805.20" y="610.00" width="1.50" height="6.60" fill="#cfd2d7"/>
<rect x="809.20" y="610.00" width="1.50" height="6.60" fill="#cfd2d7"/>
<rect x="813.20" y="610.00" width="1.50" height="6.60" fill="#cfd2d7"/>
<rect x="817.20" y="610.00" width="1.50" height="6.60" fill="#cfd2d7"/>
<rect x="821.20" y="610.00" width="1.50" height="6.60" fill="#cfd2d7"/>
<rect x="825.20" y="610.00" width="1.50" height="6.60" fill="#cfd2d7"/>
<rect x="675.50" y="536.00" width="142.00" height="61.50" fill="url(#utilpl)" stroke="#e4e6ea" stroke-width="0.5"/>
<line x1="690.00" y1="536.20" x2="817.00" y2="536.20" stroke="#b9bbbe" stroke-width="0.6" stroke-dasharray="1 5"/>
<line x1="817.60" y1="540.00" x2="817.60" y2="596.00" stroke="#c9cbce" stroke-width="0.6" stroke-dasharray="1 6"/>
<circle cx="767.00" cy="603.50" r="0.90" fill="#d4d6d9"/>
<circle cx="777.00" cy="603.50" r="0.90" fill="#d4d6d9"/>
<circle cx="788.00" cy="603.50" r="0.90" fill="#d4d6d9"/>
<circle cx="800.00" cy="603.50" r="0.90" fill="#d4d6d9"/>
<rect x="790.30" y="455.00" width="7.00" height="40.00" fill="url(#steelH)"/>
<rect x="781.00" y="485.00" width="26.00" height="7.00" fill="url(#steelV)" rx="1"/>
<rect x="780.50" y="484.00" width="3.50" height="9.00" fill="#c9cbce" rx="0.6" stroke="#8d8f92" stroke-width="0.4"/>
<rect x="803.80" y="484.00" width="3.50" height="9.00" fill="#c9cbce" rx="0.6" stroke="#8d8f92" stroke-width="0.4"/>
<circle cx="793.80" cy="490.50" r="3.40" fill="#dfe0e2" stroke="#85878a" stroke-width="0.6"/>
<rect x="553.80" y="454.50" width="111.20" height="165.50" fill="#e3e4e7" stroke="#c4c6c9" stroke-width="0.5"/>
<rect x="561.00" y="455.50" width="96.50" height="48.50" fill="#e9eaed" stroke="#cdcfd2" stroke-width="0.5"/>
<rect x="564.00" y="457.00" width="10.00" height="3.00" fill="#2a2a2a" rx="0.5"/>
<rect x="646.00" y="457.00" width="10.00" height="3.00" fill="#2a2a2a" rx="0.5"/>
<rect x="575.00" y="459.50" width="70.00" height="41.00" fill="#232323" rx="2.2"/>
<rect x="579.00" y="464.00" width="62.00" height="32.50" fill="#3b3e3d" rx="0.6"/>
<circle cx="647.30" cy="471.00" r="0.60" fill="#777"/>
<circle cx="647.30" cy="489.00" r="0.60" fill="#777"/>
<rect x="554.50" y="505.50" width="110.00" height="51.00" fill="url(#cream)" stroke="#cfc8a8" stroke-width="0.5"/>
<rect x="561.00" y="508.00" width="96.50" height="46.50" fill="#f2f1ec" rx="0.6" stroke="#d6d1b8" stroke-width="0.4"/>
<rect x="561.00" y="525.50" width="96.50" height="0.70" fill="#ddd9c6"/>
<circle cx="556.80" cy="513.00" r="0.70" fill="#6b6b6b"/>
<circle cx="662.30" cy="513.00" r="0.70" fill="#6b6b6b"/>
<circle cx="556.80" cy="529.00" r="0.70" fill="#6b6b6b"/>
<circle cx="662.30" cy="529.00" r="0.70" fill="#6b6b6b"/>
<circle cx="556.80" cy="550.00" r="0.70" fill="#6b6b6b"/>
<circle cx="662.30" cy="550.00" r="0.70" fill="#6b6b6b"/>
<circle cx="568.00" cy="517.00" r="2.90" fill="#1d7a35" stroke="#333" stroke-width="0.6"/>
<circle cx="577.00" cy="517.00" r="2.90" fill="#e52a22" stroke="#333" stroke-width="0.6"/>
<rect x="585.40" y="513.40" width="1.20" height="1.20" fill="#b0281e"/>
<rect x="585.40" y="516.40" width="1.20" height="1.20" fill="#b0281e"/>
<rect x="585.40" y="519.40" width="1.20" height="1.20" fill="#b0281e"/>
<rect x="599.90" y="512.90" width="1.20" height="1.20" fill="#b0281e"/>
<rect x="599.90" y="516.40" width="1.20" height="1.20" fill="#8a6d1c"/>
<rect x="599.90" y="519.40" width="1.20" height="1.20" fill="#b0281e"/>
<rect x="610.40" y="519.40" width="1.20" height="1.20" fill="#b0281e"/>
<rect x="613.80" y="514.20" width="5.80" height="4.40" fill="#1c1c1c" rx="0.5"/>
<circle cx="623.80" cy="516.60" r="2.50" fill="#1f55d6" stroke="#333" stroke-width="0.4"/>
<rect x="629.50" y="510.50" width="11.70" height="12.10" fill="#1c1c1c" rx="0.6"/>
<rect x="630.70" y="512.20" width="9.30" height="6.30" fill="#9c1f1f" rx="0.4"/>
<rect x="632.10" y="513.40" width="6.60" height="3.60" fill="#2a0c0c"/>
<rect x="630.70" y="519.40" width="9.30" height="2.00" fill="#5a1515"/>
<rect x="644.50" y="510.50" width="11.70" height="12.10" fill="#1c1c1c" rx="0.6"/>
<rect x="645.70" y="512.20" width="9.30" height="6.30" fill="#9c1f1f" rx="0.4"/>
<rect x="647.10" y="513.40" width="6.60" height="3.60" fill="#2a0c0c"/>
<rect x="645.70" y="519.40" width="9.30" height="2.00" fill="#5a1515"/>
<rect x="563.80" y="527.50" width="21.20" height="25.00" fill="#111" rx="0.6"/>
<rect x="567.00" y="539.50" width="2.40" height="2.60" fill="#26383a"/>
<rect x="567.00" y="544.50" width="2.40" height="2.60" fill="#26383a"/>
<rect x="571.50" y="539.50" width="2.40" height="2.60" fill="#26383a"/>
<rect x="571.50" y="544.50" width="2.40" height="2.60" fill="#26383a"/>
<rect x="576.00" y="539.50" width="2.40" height="2.60" fill="#26383a"/>
<rect x="576.00" y="544.50" width="2.40" height="2.60" fill="#26383a"/>
<rect x="580.50" y="539.50" width="2.40" height="2.60" fill="#26383a"/>
<rect x="580.50" y="544.50" width="2.40" height="2.60" fill="#26383a"/>
<rect x="601.00" y="529.90" width="1.30" height="1.20" fill="#9a7a22"/>
<rect x="603.60" y="529.90" width="1.20" height="1.20" fill="#b8942c"/>
<rect x="601.00" y="532.90" width="1.30" height="1.20" fill="#9a7a22"/>
<rect x="603.60" y="532.90" width="1.20" height="1.20" fill="#b8942c"/>
<rect x="601.00" y="535.90" width="1.30" height="1.20" fill="#9a7a22"/>
<rect x="603.60" y="535.90" width="1.20" height="1.20" fill="#b8942c"/>
<rect x="601.00" y="538.90" width="1.30" height="1.20" fill="#9a7a22"/>
<rect x="603.60" y="538.90" width="1.20" height="1.20" fill="#b8942c"/>
<rect x="601.00" y="541.90" width="1.30" height="1.20" fill="#9a7a22"/>
<rect x="603.60" y="541.90" width="1.20" height="1.20" fill="#b8942c"/>
<rect x="601.00" y="544.90" width="1.30" height="1.20" fill="#9a7a22"/>
<rect x="603.60" y="544.90" width="1.20" height="1.20" fill="#b8942c"/>
<rect x="601.00" y="547.90" width="1.30" height="1.20" fill="#9a7a22"/>
<rect x="603.60" y="547.90" width="1.20" height="1.20" fill="#b8942c"/>
<rect x="608.80" y="530.30" width="1.40" height="1.40" fill="#a8231b"/>
<rect x="611.30" y="530.30" width="1.40" height="1.40" fill="#333"/>
<rect x="608.80" y="534.30" width="1.40" height="1.40" fill="#9a7a22"/>
<rect x="611.30" y="534.30" width="1.40" height="1.40" fill="#a8231b"/>
<circle cx="624.00" cy="547.60" r="2.50" fill="#1d7a35" stroke="#333" stroke-width="0.5"/>
<circle cx="633.00" cy="547.60" r="2.50" fill="#e52a22" stroke="#333" stroke-width="0.5"/>
<rect x="643.30" y="544.80" width="1.40" height="1.40" fill="#a8231b"/>
<rect x="648.30" y="540.30" width="1.40" height="1.40" fill="#234f23"/>
<rect x="651.80" y="540.30" width="1.40" height="1.40" fill="#222"/>
<rect x="650.30" y="547.80" width="1.40" height="1.40" fill="#9a7a22"/>
<rect x="554.50" y="557.50" width="110.00" height="40.50" fill="url(#cream)" stroke="#cfc8a8" stroke-width="0.5"/>
<rect x="561.00" y="559.00" width="96.50" height="37.50" fill="#f2f1ec" rx="0.6" stroke="#d6d1b8" stroke-width="0.4"/>
<circle cx="556.80" cy="565.00" r="0.70" fill="#6b6b6b"/>
<circle cx="662.30" cy="565.00" r="0.70" fill="#6b6b6b"/>
<circle cx="556.80" cy="590.00" r="0.70" fill="#6b6b6b"/>
<circle cx="662.30" cy="590.00" r="0.70" fill="#6b6b6b"/>
<rect x="565.00" y="564.00" width="10.00" height="4.80" fill="#141414" rx="0.4"/>
<rect x="577.00" y="564.00" width="10.30" height="4.80" fill="#141414" rx="0.4"/>
<rect x="565.00" y="572.50" width="22.30" height="21.50" fill="#b9bbbd" rx="0.8"/>
<rect x="565.80" y="573.20" width="20.70" height="14.80" fill="#0f0f0f" rx="0.6"/>
<rect x="567.00" y="589.40" width="5.50" height="3.20" fill="#595c60" rx="0.4"/>
<rect x="579.50" y="589.40" width="5.50" height="3.20" fill="#595c60" rx="0.4"/>
<circle cx="576.10" cy="591.00" r="1.90" fill="#3f4e66" stroke="#d0d0d0" stroke-width="0.5"/>
<rect x="600.00" y="564.00" width="10.00" height="4.80" fill="#141414" rx="0.4"/>
<rect x="612.00" y="564.00" width="10.30" height="4.80" fill="#141414" rx="0.4"/>
<rect x="600.00" y="572.50" width="22.30" height="21.50" fill="#b9bbbd" rx="0.8"/>
<rect x="600.80" y="573.20" width="20.70" height="14.80" fill="#0f0f0f" rx="0.6"/>
<rect x="602.00" y="589.40" width="5.50" height="3.20" fill="#595c60" rx="0.4"/>
<rect x="614.50" y="589.40" width="5.50" height="3.20" fill="#595c60" rx="0.4"/>
<circle cx="611.10" cy="591.00" r="1.90" fill="#3f4e66" stroke="#d0d0d0" stroke-width="0.5"/>
<circle cx="593.00" cy="568.00" r="2.30" fill="#1a1a1a"/>
<circle cx="593.00" cy="577.00" r="2.30" fill="#1d7a35" stroke="#333" stroke-width="0.5"/>
<circle cx="593.00" cy="586.20" r="2.40" fill="#e52a22" stroke="#333" stroke-width="0.5"/>
<circle cx="628.00" cy="568.00" r="2.30" fill="#1a1a1a"/>
<circle cx="628.00" cy="577.00" r="2.30" fill="#1d7a35" stroke="#333" stroke-width="0.5"/>
<circle cx="628.00" cy="586.20" r="2.40" fill="#e52a22" stroke="#333" stroke-width="0.5"/>
<rect x="636.00" y="563.00" width="17.00" height="6.20" fill="#d9d9d4" rx="0.5"/>
<rect x="637.00" y="563.80" width="15.00" height="4.60" fill="#111" rx="0.3"/>
<rect x="554.50" y="598.30" width="110.00" height="20.70" fill="#141414" rx="0.8"/>
<rect x="608.30" y="598.30" width="2.70" height="20.70" fill="#2e2e2e"/>
<rect x="562.50" y="603.60" width="16.50" height="9.20" fill="#5f6a66" rx="0.4"/>
<rect x="558.00" y="604.00" width="2.40" height="8.50" fill="#d9d9d9" rx="0.3"/>
<rect x="587.50" y="602.60" width="2.30" height="2.20" fill="#e9e9e9" rx="0.3"/>
<rect x="590.80" y="602.60" width="2.30" height="2.20" fill="#e9e9e9" rx="0.3"/>
<rect x="594.10" y="602.60" width="2.30" height="2.20" fill="#e9e9e9" rx="0.3"/>
<rect x="597.40" y="602.60" width="2.30" height="2.20" fill="#e9e9e9" rx="0.3"/>
<rect x="587.50" y="605.80" width="2.30" height="2.20" fill="#e9e9e9" rx="0.3"/>
<rect x="590.80" y="605.80" width="2.30" height="2.20" fill="#e9e9e9" rx="0.3"/>
<rect x="594.10" y="605.80" width="2.30" height="2.20" fill="#e9e9e9" rx="0.3"/>
<rect x="597.40" y="605.80" width="2.30" height="2.20" fill="#e9e9e9" rx="0.3"/>
<rect x="587.50" y="609.00" width="2.30" height="2.20" fill="#e9e9e9" rx="0.3"/>
<rect x="590.80" y="609.00" width="2.30" height="2.20" fill="#e9e9e9" rx="0.3"/>
<rect x="594.10" y="609.00" width="2.30" height="2.20" fill="#e9e9e9" rx="0.3"/>
<rect x="597.40" y="609.00" width="2.30" height="2.20" fill="#e9e9e9" rx="0.3"/>
<rect x="581.50" y="605.00" width="1.80" height="1.80" fill="#7b7b7b" rx="0.3"/>
<rect x="584.30" y="605.00" width="1.80" height="1.80" fill="#7b7b7b" rx="0.3"/>
<rect x="581.50" y="608.20" width="1.80" height="1.80" fill="#7b7b7b" rx="0.3"/>
<rect x="584.30" y="608.20" width="1.80" height="1.80" fill="#7b7b7b" rx="0.3"/>
<rect x="581.50" y="611.40" width="1.80" height="1.80" fill="#7b7b7b" rx="0.3"/>
<rect x="584.30" y="611.40" width="1.80" height="1.80" fill="#7b7b7b" rx="0.3"/>
<rect x="620.00" y="606.60" width="18.00" height="3.00" fill="#4e5a58" rx="0.3"/>
<rect x="639.50" y="606.40" width="2.50" height="2.80" fill="#dcdcdc" rx="0.3"/>
<rect x="652.00" y="603.00" width="2.00" height="1.80" fill="#4a5a78" rx="0.3"/>
<rect x="655.60" y="603.00" width="2.00" height="1.80" fill="#4a5a78" rx="0.3"/>
<rect x="652.00" y="606.40" width="2.00" height="1.80" fill="#4a5a78" rx="0.3"/>
<rect x="655.60" y="606.40" width="2.00" height="1.80" fill="#4a5a78" rx="0.3"/>
<rect x="652.00" y="609.80" width="2.00" height="1.80" fill="#4a5a78" rx="0.3"/>
<rect x="655.60" y="609.80" width="2.00" height="1.80" fill="#4a5a78" rx="0.3"/>
<rect x="652.00" y="613.20" width="2.00" height="1.80" fill="#4a5a78" rx="0.3"/>
<rect x="655.60" y="613.20" width="2.00" height="1.80" fill="#4a5a78" rx="0.3"/>
<circle cx="624.00" cy="614.00" r="1.20" fill="#333" stroke="#555" stroke-width="0.4"/>
<circle cx="630.00" cy="614.00" r="1.20" fill="#333" stroke="#555" stroke-width="0.4"/>
<circle cx="616.50" cy="613.50" r="1.80" fill="#2c2c2c" stroke="#4a4a4a" stroke-width="0.4"/>
<rect x="383.00" y="436.40" width="452.50" height="4.40" fill="#2e2e2e" rx="0.5"/>
<rect x="383.00" y="436.40" width="452.50" height="1.00" fill="#4a4a4a"/>
<rect x="382.40" y="433.60" width="2.60" height="9.40" fill="#e9e9e9" rx="0.8" stroke="#8c8c8c" stroke-width="0.4"/>
<rect x="833.60" y="433.60" width="2.80" height="9.40" fill="#e9e9e9" rx="0.8" stroke="#8c8c8c" stroke-width="0.4"/>
<rect x="443.00" y="370.20" width="63.00" height="23.80" fill="url(#tubeF)"/>
<line x1="443.00" y1="370.60" x2="506.00" y2="370.60" stroke="#5f6164" stroke-width="0.9"/>
<line x1="443.00" y1="393.60" x2="506.00" y2="393.60" stroke="#55575a" stroke-width="0.9"/>
<rect x="557.00" y="370.20" width="67.00" height="23.80" fill="url(#tubeF)"/>
<line x1="557.00" y1="370.60" x2="624.00" y2="370.60" stroke="#5f6164" stroke-width="0.9"/>
<line x1="557.00" y1="393.60" x2="624.00" y2="393.60" stroke="#55575a" stroke-width="0.9"/>
<rect x="725.50" y="370.20" width="39.50" height="23.80" fill="url(#tubeF)"/>
<line x1="725.50" y1="370.60" x2="765.00" y2="370.60" stroke="#5f6164" stroke-width="0.9"/>
<line x1="725.50" y1="393.60" x2="765.00" y2="393.60" stroke="#55575a" stroke-width="0.9"/>
<path d="M404,385 C402,396 401,410 400.6,437" fill="none" stroke="#4a4c4f" stroke-width="3.2" stroke-linecap="round"/>
<path d="M404,385 C402,396 401,410 400.6,437" fill="none" stroke="#8a8c8f" stroke-width="0.8"/>
<path d="M426,386 C418,390 410,398 406.5,410 C404.5,420 404,430 404,437" fill="none" stroke="#151515" stroke-width="1.1"/>
<path d="M430,402 C420,402 412,408 409,418 C407,426 407,432 407,437" fill="none" stroke="#151515" stroke-width="1.1"/>
<path d="M443,401 C441,405 436,405 432,405" fill="none" stroke="#151515" stroke-width="1.1"/>
<path d="M411,382 C406,382.4 401,383.6 396.6,385.4" fill="none" stroke="#3a3a3a" stroke-width="1.5" stroke-linecap="round"/>
<rect x="401.40" y="378.80" width="8.60" height="6.40" fill="#333" rx="1.2"/>
<path d="M409.6,378.6 H420 L426,380.6 V384 L420,385.8 H409.6 Z" fill="#f39a1e" stroke="none" stroke-width="1"/>
<path d="M409.6,378.6 H420 L426,380.6 V381.4 H409.6 Z" fill="#f9bb5c" stroke="none" stroke-width="1"/>
<rect x="425.70" y="363.60" width="12.30" height="33.40" fill="#d0d2d4" rx="1" stroke="#6f7174" stroke-width="0.5"/>
<rect x="428.00" y="365.00" width="9.00" height="9.00" fill="#e9eaeb" rx="0.6"/>
<rect x="421.40" y="366.00" width="5.00" height="10.00" fill="#2e2e2e" rx="1"/>
<rect x="422.60" y="368.00" width="3.00" height="3.00" fill="#bdbfc1" rx="0.6"/>
<rect x="424.40" y="380.00" width="13.60" height="4.40" fill="#f1f1f2" rx="0.8"/>
<rect x="421.60" y="385.00" width="8.40" height="14.60" fill="#262626" rx="2"/>
<circle cx="426.00" cy="392.60" r="2.20" fill="#3d3d3d"/>
<rect x="437.80" y="365.00" width="6.00" height="34.30" fill="#2a2a2a" rx="1.2"/>
<rect x="433.30" y="358.60" width="2.40" height="6.80" fill="#e2e2e2" rx="1.1" stroke="#85878a" stroke-width="0.5"/>
<rect x="432.40" y="382.00" width="3.40" height="35.50" fill="#3a3a3a"/>
<rect x="417.00" y="416.80" width="34.60" height="4.60" fill="#2a2a2a" rx="0.6"/>
<rect x="421.70" y="409.50" width="2.20" height="22.50" fill="#bfc1c3" rx="0.4" stroke="#707275" stroke-width="0.3"/>
<rect x="420.20" y="413.40" width="5.20" height="3.40" fill="#d9dadc" rx="0.6" stroke="#707275" stroke-width="0.4"/>
<rect x="420.20" y="421.40" width="5.20" height="3.20" fill="#cfd0d2" rx="0.6" stroke="#707275" stroke-width="0.4"/>
<rect x="420.60" y="426.60" width="4.40" height="3.80" fill="#e4e4e5" rx="0.8" stroke="#707275" stroke-width="0.4"/>
<rect x="444.60" y="409.50" width="2.20" height="22.50" fill="#bfc1c3" rx="0.4" stroke="#707275" stroke-width="0.3"/>
<rect x="443.10" y="413.40" width="5.20" height="3.40" fill="#d9dadc" rx="0.6" stroke="#707275" stroke-width="0.4"/>
<rect x="443.10" y="421.40" width="5.20" height="3.20" fill="#cfd0d2" rx="0.6" stroke="#707275" stroke-width="0.4"/>
<rect x="443.50" y="426.60" width="4.40" height="3.80" fill="#e4e4e5" rx="0.8" stroke="#707275" stroke-width="0.4"/>
<rect x="412.00" y="430.60" width="41.60" height="6.90" fill="#262626" rx="0.6"/>
<rect x="417.00" y="434.20" width="12.20" height="8.80" fill="#e6e7e9" rx="0.8" stroke="#9a9c9f" stroke-width="0.5"/>
<rect x="420.50" y="436.40" width="5.00" height="6.20" fill="#f5f5f6" rx="0.4"/>
<rect x="440.00" y="434.20" width="12.20" height="8.80" fill="#e6e7e9" rx="0.8" stroke="#9a9c9f" stroke-width="0.5"/>
<rect x="443.50" y="436.40" width="5.00" height="6.20" fill="#f5f5f6" rx="0.4"/>
<rect x="500.40" y="357.60" width="3.20" height="55.80" fill="#2c2e31" rx="1.4"/>
<rect x="501.50" y="360.00" width="0.80" height="51.00" fill="#6f7276" rx="0.3"/>
<rect x="503.60" y="360.00" width="1.20" height="51.00" fill="#d9dadc" rx="0.4"/>
<circle cx="502.00" cy="358.80" r="1.50" fill="#c9cbcd" stroke="#2e3033" stroke-width="0.6"/>
<circle cx="502.00" cy="412.20" r="1.50" fill="#c9cbcd" stroke="#2e3033" stroke-width="0.6"/>
<rect x="559.00" y="357.60" width="3.20" height="55.80" fill="#2c2e31" rx="1.4"/>
<rect x="560.10" y="360.00" width="0.80" height="51.00" fill="#6f7276" rx="0.3"/>
<rect x="557.80" y="360.00" width="1.20" height="51.00" fill="#d9dadc" rx="0.4"/>
<circle cx="560.60" cy="358.80" r="1.50" fill="#c9cbcd" stroke="#2e3033" stroke-width="0.6"/>
<circle cx="560.60" cy="412.20" r="1.50" fill="#c9cbcd" stroke="#2e3033" stroke-width="0.6"/>
<rect x="514.50" y="332.00" width="33.50" height="15.00" fill="url(#blueF)" rx="0.6"/>
<rect x="514.50" y="332.00" width="33.50" height="1.00" fill="#4ab2ee"/>
<rect x="505.00" y="346.00" width="52.50" height="73.40" fill="url(#blueF)" rx="1"/>
<rect x="505.00" y="346.00" width="52.50" height="1.20" fill="#49b1ee"/>
<rect x="515.00" y="349.40" width="0.90" height="2.00" fill="#1270b8"/>
<rect x="516.70" y="349.40" width="0.90" height="2.00" fill="#1270b8"/>
<rect x="518.40" y="349.40" width="0.90" height="2.00" fill="#1270b8"/>
<rect x="520.10" y="349.40" width="0.90" height="2.00" fill="#1270b8"/>
<rect x="521.80" y="349.40" width="0.90" height="2.00" fill="#1270b8"/>
<rect x="523.50" y="349.40" width="0.90" height="2.00" fill="#1270b8"/>
<rect x="525.20" y="349.40" width="0.90" height="2.00" fill="#1270b8"/>
<rect x="526.90" y="349.40" width="0.90" height="2.00" fill="#1270b8"/>
<rect x="528.60" y="349.40" width="0.90" height="2.00" fill="#1270b8"/>
<rect x="530.30" y="349.40" width="0.90" height="2.00" fill="#1270b8"/>
<rect x="532.00" y="349.40" width="0.90" height="2.00" fill="#1270b8"/>
<rect x="533.70" y="349.40" width="0.90" height="2.00" fill="#1270b8"/>
<rect x="535.40" y="349.40" width="0.90" height="2.00" fill="#1270b8"/>
<rect x="537.10" y="349.40" width="0.90" height="2.00" fill="#1270b8"/>
<rect x="538.80" y="349.40" width="0.90" height="2.00" fill="#1270b8"/>
<rect x="540.50" y="349.40" width="0.90" height="2.00" fill="#1270b8"/>
<rect x="542.20" y="349.40" width="0.90" height="2.00" fill="#1270b8"/>
<rect x="543.90" y="349.40" width="0.90" height="2.00" fill="#1270b8"/>
<rect x="545.60" y="349.40" width="0.90" height="2.00" fill="#1270b8"/>
<rect x="547.30" y="349.40" width="0.90" height="2.00" fill="#1270b8"/>
<rect x="515.00" y="352.40" width="0.90" height="1.80" fill="#1270b8"/>
<rect x="516.70" y="352.40" width="0.90" height="1.80" fill="#1270b8"/>
<rect x="518.40" y="352.40" width="0.90" height="1.80" fill="#1270b8"/>
<rect x="520.10" y="352.40" width="0.90" height="1.80" fill="#1270b8"/>
<rect x="521.80" y="352.40" width="0.90" height="1.80" fill="#1270b8"/>
<rect x="523.50" y="352.40" width="0.90" height="1.80" fill="#1270b8"/>
<rect x="525.20" y="352.40" width="0.90" height="1.80" fill="#1270b8"/>
<rect x="526.90" y="352.40" width="0.90" height="1.80" fill="#1270b8"/>
<rect x="528.60" y="352.40" width="0.90" height="1.80" fill="#1270b8"/>
<rect x="530.30" y="352.40" width="0.90" height="1.80" fill="#1270b8"/>
<rect x="532.00" y="352.40" width="0.90" height="1.80" fill="#1270b8"/>
<rect x="533.70" y="352.40" width="0.90" height="1.80" fill="#1270b8"/>
<rect x="535.40" y="352.40" width="0.90" height="1.80" fill="#1270b8"/>
<rect x="537.10" y="352.40" width="0.90" height="1.80" fill="#1270b8"/>
<rect x="538.80" y="352.40" width="0.90" height="1.80" fill="#1270b8"/>
<rect x="540.50" y="352.40" width="0.90" height="1.80" fill="#1270b8"/>
<rect x="542.20" y="352.40" width="0.90" height="1.80" fill="#1270b8"/>
<rect x="543.90" y="352.40" width="0.90" height="1.80" fill="#1270b8"/>
<rect x="545.60" y="352.40" width="0.90" height="1.80" fill="#1270b8"/>
<rect x="547.30" y="352.40" width="0.90" height="1.80" fill="#1270b8"/>
<rect x="505.00" y="381.00" width="52.50" height="2.40" fill="#7cc6f0"/>
<rect x="505.00" y="383.40" width="52.50" height="0.80" fill="#1a7fc6"/>
<rect x="508.00" y="366.00" width="45.80" height="3.60" fill="#cfd1d3" rx="1.6" stroke="#4d4f52" stroke-width="0.5"/>
<rect x="512.00" y="366.80" width="38.00" height="1.40" fill="#8d8f92" rx="0.6"/>
<rect x="511.40" y="375.00" width="7.20" height="3.60" fill="#dcdddf" rx="0.8" stroke="#55575a" stroke-width="0.5"/>
<rect x="512.80" y="378.60" width="4.40" height="15.90" fill="#cfd1d3" rx="1.2" stroke="#4d4f52" stroke-width="0.5"/>
<rect x="513.90" y="383.50" width="2.20" height="8.50" fill="#8b8d90" rx="0.6"/>
<rect x="512.20" y="394.00" width="5.60" height="3.60" fill="#b9bbbd" rx="1.2" stroke="#55575a" stroke-width="0.4"/>
<rect x="542.00" y="375.00" width="7.20" height="3.60" fill="#dcdddf" rx="0.8" stroke="#55575a" stroke-width="0.5"/>
<rect x="543.40" y="378.60" width="4.40" height="15.90" fill="#cfd1d3" rx="1.2" stroke="#4d4f52" stroke-width="0.5"/>
<rect x="544.50" y="383.50" width="2.20" height="8.50" fill="#8b8d90" rx="0.6"/>
<rect x="542.80" y="394.00" width="5.60" height="3.60" fill="#b9bbbd" rx="1.2" stroke="#55575a" stroke-width="0.4"/>
<rect x="505.00" y="419.40" width="52.50" height="16.00" fill="url(#silverbase)" rx="0.4"/>
<line x1="506.00" y1="420.20" x2="557.00" y2="420.20" stroke="#f4f4f4" stroke-width="0.9" stroke-dasharray="0.8 1.2"/>
<rect x="505.00" y="420.80" width="2.00" height="14.20" fill="#dcdddf"/>
<rect x="555.50" y="420.80" width="2.00" height="14.20" fill="#dcdddf"/>
<rect x="506.00" y="434.60" width="10.50" height="8.00" fill="#e0e1e3" rx="0.6" stroke="#9a9c9f" stroke-width="0.4"/>
<rect x="546.00" y="434.60" width="10.60" height="8.00" fill="#e0e1e3" rx="0.6" stroke="#9a9c9f" stroke-width="0.4"/>
<rect x="516.50" y="435.40" width="29.50" height="1.60" fill="#77797c"/>
<rect x="618.80" y="357.60" width="3.20" height="55.80" fill="#2c2e31" rx="1.4"/>
<rect x="619.90" y="360.00" width="0.80" height="51.00" fill="#6f7276" rx="0.3"/>
<rect x="622.00" y="360.00" width="1.20" height="51.00" fill="#d9dadc" rx="0.4"/>
<circle cx="620.40" cy="358.80" r="1.50" fill="#c9cbcd" stroke="#2e3033" stroke-width="0.6"/>
<circle cx="620.40" cy="412.20" r="1.50" fill="#c9cbcd" stroke="#2e3033" stroke-width="0.6"/>
<rect x="727.40" y="357.60" width="3.20" height="55.80" fill="#2c2e31" rx="1.4"/>
<rect x="728.50" y="360.00" width="0.80" height="51.00" fill="#6f7276" rx="0.3"/>
<rect x="726.20" y="360.00" width="1.20" height="51.00" fill="#d9dadc" rx="0.4"/>
<circle cx="729.00" cy="358.80" r="1.50" fill="#c9cbcd" stroke="#2e3033" stroke-width="0.6"/>
<circle cx="729.00" cy="412.20" r="1.50" fill="#c9cbcd" stroke="#2e3033" stroke-width="0.6"/>
<rect x="658.00" y="332.50" width="34.00" height="14.50" fill="url(#blueF)" rx="0.6"/>
<rect x="658.00" y="332.50" width="34.00" height="1.00" fill="#4ab2ee"/>
<rect x="623.20" y="346.00" width="102.80" height="73.40" fill="url(#blueF)" rx="1"/>
<rect x="623.20" y="346.00" width="102.80" height="1.20" fill="#49b1ee"/>
<rect x="632.50" y="347.80" width="0.90" height="2.80" fill="#e8f3fa"/>
<rect x="634.10" y="347.80" width="0.90" height="2.80" fill="#e8f3fa"/>
<rect x="635.70" y="347.80" width="0.90" height="2.80" fill="#e8f3fa"/>
<rect x="637.30" y="347.80" width="0.90" height="2.80" fill="#e8f3fa"/>
<rect x="638.90" y="347.80" width="0.90" height="2.80" fill="#e8f3fa"/>
<rect x="640.50" y="347.80" width="0.90" height="2.80" fill="#e8f3fa"/>
<rect x="642.10" y="347.80" width="0.90" height="2.80" fill="#e8f3fa"/>
<rect x="643.70" y="347.80" width="0.90" height="2.80" fill="#e8f3fa"/>
<rect x="645.30" y="347.80" width="0.90" height="2.80" fill="#e8f3fa"/>
<rect x="646.90" y="347.80" width="0.90" height="2.80" fill="#e8f3fa"/>
<rect x="648.50" y="347.80" width="0.90" height="2.80" fill="#e8f3fa"/>
<rect x="650.10" y="347.80" width="0.90" height="2.80" fill="#e8f3fa"/>
<rect x="651.70" y="347.80" width="0.90" height="2.80" fill="#e8f3fa"/>
<rect x="653.30" y="347.80" width="0.90" height="2.80" fill="#e8f3fa"/>
<rect x="654.90" y="347.80" width="0.90" height="2.80" fill="#e8f3fa"/>
<rect x="656.50" y="347.80" width="0.90" height="2.80" fill="#e8f3fa"/>
<rect x="694.00" y="347.80" width="0.90" height="2.80" fill="#e8f3fa"/>
<rect x="695.60" y="347.80" width="0.90" height="2.80" fill="#e8f3fa"/>
<rect x="697.20" y="347.80" width="0.90" height="2.80" fill="#e8f3fa"/>
<rect x="698.80" y="347.80" width="0.90" height="2.80" fill="#e8f3fa"/>
<rect x="700.40" y="347.80" width="0.90" height="2.80" fill="#e8f3fa"/>
<rect x="702.00" y="347.80" width="0.90" height="2.80" fill="#e8f3fa"/>
<rect x="703.60" y="347.80" width="0.90" height="2.80" fill="#e8f3fa"/>
<rect x="705.20" y="347.80" width="0.90" height="2.80" fill="#e8f3fa"/>
<rect x="706.80" y="347.80" width="0.90" height="2.80" fill="#e8f3fa"/>
<rect x="708.40" y="347.80" width="0.90" height="2.80" fill="#e8f3fa"/>
<rect x="710.00" y="347.80" width="0.90" height="2.80" fill="#e8f3fa"/>
<rect x="711.60" y="347.80" width="0.90" height="2.80" fill="#e8f3fa"/>
<rect x="713.20" y="347.80" width="0.90" height="2.80" fill="#e8f3fa"/>
<rect x="714.80" y="347.80" width="0.90" height="2.80" fill="#e8f3fa"/>
<rect x="632.50" y="351.60" width="0.90" height="3.00" fill="#1270b8"/>
<rect x="634.20" y="351.60" width="0.90" height="3.00" fill="#1270b8"/>
<rect x="635.90" y="351.60" width="0.90" height="3.00" fill="#1270b8"/>
<rect x="637.60" y="351.60" width="0.90" height="3.00" fill="#1270b8"/>
<rect x="639.30" y="351.60" width="0.90" height="3.00" fill="#1270b8"/>
<rect x="641.00" y="351.60" width="0.90" height="3.00" fill="#1270b8"/>
<rect x="642.70" y="351.60" width="0.90" height="3.00" fill="#1270b8"/>
<rect x="644.40" y="351.60" width="0.90" height="3.00" fill="#1270b8"/>
<rect x="646.10" y="351.60" width="0.90" height="3.00" fill="#1270b8"/>
<rect x="647.80" y="351.60" width="0.90" height="3.00" fill="#1270b8"/>
<rect x="649.50" y="351.60" width="0.90" height="3.00" fill="#1270b8"/>
<rect x="651.20" y="351.60" width="0.90" height="3.00" fill="#1270b8"/>
<rect x="652.90" y="351.60" width="0.90" height="3.00" fill="#1270b8"/>
<rect x="654.60" y="351.60" width="0.90" height="3.00" fill="#1270b8"/>
<rect x="656.30" y="351.60" width="0.90" height="3.00" fill="#1270b8"/>
<rect x="658.00" y="351.60" width="0.90" height="3.00" fill="#1270b8"/>
<rect x="659.70" y="351.60" width="0.90" height="3.00" fill="#1270b8"/>
<rect x="661.40" y="351.60" width="0.90" height="3.00" fill="#1270b8"/>
<rect x="663.10" y="351.60" width="0.90" height="3.00" fill="#1270b8"/>
<rect x="664.80" y="351.60" width="0.90" height="3.00" fill="#1270b8"/>
<rect x="666.50" y="351.60" width="0.90" height="3.00" fill="#1270b8"/>
<rect x="668.20" y="351.60" width="0.90" height="3.00" fill="#1270b8"/>
<rect x="669.90" y="351.60" width="0.90" height="3.00" fill="#1270b8"/>
<rect x="671.60" y="351.60" width="0.90" height="3.00" fill="#1270b8"/>
<rect x="673.30" y="351.60" width="0.90" height="3.00" fill="#1270b8"/>
<rect x="675.00" y="351.60" width="0.90" height="3.00" fill="#1270b8"/>
<rect x="676.70" y="351.60" width="0.90" height="3.00" fill="#1270b8"/>
<rect x="678.40" y="351.60" width="0.90" height="3.00" fill="#1270b8"/>
<rect x="680.10" y="351.60" width="0.90" height="3.00" fill="#1270b8"/>
<rect x="681.80" y="351.60" width="0.90" height="3.00" fill="#1270b8"/>
<rect x="683.50" y="351.60" width="0.90" height="3.00" fill="#1270b8"/>
<rect x="685.20" y="351.60" width="0.90" height="3.00" fill="#1270b8"/>
<rect x="686.90" y="351.60" width="0.90" height="3.00" fill="#1270b8"/>
<rect x="688.60" y="351.60" width="0.90" height="3.00" fill="#1270b8"/>
<rect x="690.30" y="351.60" width="0.90" height="3.00" fill="#1270b8"/>
<rect x="692.00" y="351.60" width="0.90" height="3.00" fill="#1270b8"/>
<rect x="693.70" y="351.60" width="0.90" height="3.00" fill="#1270b8"/>
<rect x="695.40" y="351.60" width="0.90" height="3.00" fill="#1270b8"/>
<rect x="697.10" y="351.60" width="0.90" height="3.00" fill="#1270b8"/>
<rect x="698.80" y="351.60" width="0.90" height="3.00" fill="#1270b8"/>
<rect x="700.50" y="351.60" width="0.90" height="3.00" fill="#1270b8"/>
<rect x="702.20" y="351.60" width="0.90" height="3.00" fill="#1270b8"/>
<rect x="703.90" y="351.60" width="0.90" height="3.00" fill="#1270b8"/>
<rect x="705.60" y="351.60" width="0.90" height="3.00" fill="#1270b8"/>
<rect x="707.30" y="351.60" width="0.90" height="3.00" fill="#1270b8"/>
<rect x="709.00" y="351.60" width="0.90" height="3.00" fill="#1270b8"/>
<rect x="710.70" y="351.60" width="0.90" height="3.00" fill="#1270b8"/>
<rect x="712.40" y="351.60" width="0.90" height="3.00" fill="#1270b8"/>
<rect x="714.10" y="351.60" width="0.90" height="3.00" fill="#1270b8"/>
<rect x="715.80" y="351.60" width="0.90" height="3.00" fill="#1270b8"/>
<rect x="623.20" y="381.00" width="102.80" height="2.40" fill="#7cc6f0"/>
<rect x="623.20" y="383.40" width="102.80" height="0.80" fill="#1a7fc6"/>
<rect x="652.50" y="365.00" width="45.00" height="4.80" fill="#d4d6d8" rx="2" stroke="#3d3f42" stroke-width="0.5"/>
<rect x="659.00" y="365.60" width="32.00" height="3.60" fill="#2a2a2a" rx="1.2"/>
<rect x="630.80" y="375.00" width="7.20" height="3.60" fill="#dcdddf" rx="0.8" stroke="#55575a" stroke-width="0.5"/>
<rect x="632.20" y="378.60" width="4.40" height="15.90" fill="#cfd1d3" rx="1.2" stroke="#4d4f52" stroke-width="0.5"/>
<rect x="633.30" y="383.50" width="2.20" height="8.50" fill="#8b8d90" rx="0.6"/>
<rect x="631.60" y="394.00" width="5.60" height="3.60" fill="#b9bbbd" rx="1.2" stroke="#55575a" stroke-width="0.4"/>
<rect x="711.80" y="375.00" width="7.20" height="3.60" fill="#dcdddf" rx="0.8" stroke="#55575a" stroke-width="0.5"/>
<rect x="713.20" y="378.60" width="4.40" height="15.90" fill="#cfd1d3" rx="1.2" stroke="#4d4f52" stroke-width="0.5"/>
<rect x="714.30" y="383.50" width="2.20" height="8.50" fill="#8b8d90" rx="0.6"/>
<rect x="712.60" y="394.00" width="5.60" height="3.60" fill="#b9bbbd" rx="1.2" stroke="#55575a" stroke-width="0.4"/>
<rect x="623.60" y="419.40" width="102.40" height="15.00" fill="url(#darkbase)" rx="0.4"/>
<line x1="624.00" y1="420.20" x2="726.00" y2="420.20" stroke="#6a6a6a" stroke-width="0.6"/>
<circle cx="674.50" cy="421.50" r="0.60" fill="#cfcfcf"/>
<rect x="623.80" y="434.00" width="12.60" height="8.40" fill="#dfe0e2" rx="0.6" stroke="#9a9c9f" stroke-width="0.4"/>
<rect x="713.60" y="434.00" width="12.40" height="8.40" fill="#dfe0e2" rx="0.6" stroke="#9a9c9f" stroke-width="0.4"/>
<path d="M791.8,315.6 C791,309 788,306.6 785,309 C780,313.6 778.6,336 778,363" fill="none" stroke="#151515" stroke-width="1.3"/>
<rect x="789.60" y="315.00" width="6.40" height="8.00" fill="#707275" rx="0.8"/>
<rect x="782.00" y="322.50" width="20.60" height="3.50" fill="#b04428" rx="0.8"/>
<rect x="782.00" y="326.00" width="20.60" height="38.40" fill="url(#mano)" rx="0.6" stroke="#9a9c9f" stroke-width="0.5"/>
<line x1="783.00" y1="328.40" x2="801.60" y2="328.40" stroke="#c6c8cb" stroke-width="0.45"/>
<line x1="783.00" y1="329.90" x2="801.60" y2="329.90" stroke="#c6c8cb" stroke-width="0.45"/>
<line x1="783.00" y1="331.40" x2="801.60" y2="331.40" stroke="#c6c8cb" stroke-width="0.45"/>
<line x1="783.00" y1="332.90" x2="801.60" y2="332.90" stroke="#c6c8cb" stroke-width="0.45"/>
<line x1="783.00" y1="334.40" x2="801.60" y2="334.40" stroke="#c6c8cb" stroke-width="0.45"/>
<line x1="783.00" y1="335.90" x2="801.60" y2="335.90" stroke="#c6c8cb" stroke-width="0.45"/>
<line x1="783.00" y1="337.40" x2="801.60" y2="337.40" stroke="#c6c8cb" stroke-width="0.45"/>
<line x1="783.00" y1="338.90" x2="801.60" y2="338.90" stroke="#c6c8cb" stroke-width="0.45"/>
<line x1="783.00" y1="340.40" x2="801.60" y2="340.40" stroke="#c6c8cb" stroke-width="0.45"/>
<line x1="783.00" y1="341.90" x2="801.60" y2="341.90" stroke="#c6c8cb" stroke-width="0.45"/>
<line x1="783.00" y1="343.40" x2="801.60" y2="343.40" stroke="#c6c8cb" stroke-width="0.45"/>
<line x1="783.00" y1="344.90" x2="801.60" y2="344.90" stroke="#c6c8cb" stroke-width="0.45"/>
<line x1="783.00" y1="346.40" x2="801.60" y2="346.40" stroke="#c6c8cb" stroke-width="0.45"/>
<line x1="783.00" y1="347.90" x2="801.60" y2="347.90" stroke="#c6c8cb" stroke-width="0.45"/>
<line x1="783.00" y1="349.40" x2="801.60" y2="349.40" stroke="#c6c8cb" stroke-width="0.45"/>
<line x1="783.00" y1="350.90" x2="801.60" y2="350.90" stroke="#c6c8cb" stroke-width="0.45"/>
<line x1="783.00" y1="352.40" x2="801.60" y2="352.40" stroke="#c6c8cb" stroke-width="0.45"/>
<line x1="783.00" y1="353.90" x2="801.60" y2="353.90" stroke="#c6c8cb" stroke-width="0.45"/>
<line x1="783.00" y1="355.40" x2="801.60" y2="355.40" stroke="#c6c8cb" stroke-width="0.45"/>
<line x1="783.00" y1="356.90" x2="801.60" y2="356.90" stroke="#c6c8cb" stroke-width="0.45"/>
<line x1="783.00" y1="358.40" x2="801.60" y2="358.40" stroke="#c6c8cb" stroke-width="0.45"/>
<line x1="783.00" y1="359.90" x2="801.60" y2="359.90" stroke="#c6c8cb" stroke-width="0.45"/>
<line x1="783.00" y1="361.40" x2="801.60" y2="361.40" stroke="#c6c8cb" stroke-width="0.45"/>
<rect x="791.60" y="345.00" width="2.00" height="19.00" fill="#f4f4f4" rx="0.3" stroke="#77797c" stroke-width="0.4"/>
<rect x="788.60" y="357.00" width="8.00" height="3.40" fill="#d9dadc" rx="0.6" stroke="#6a6c6f" stroke-width="0.5"/>
<rect x="771.00" y="357.60" width="2.20" height="8.40" fill="#dfe3ea" rx="1" stroke="#4f74b0" stroke-width="0.5"/>
<rect x="808.60" y="357.60" width="2.20" height="8.40" fill="#dfe3ea" rx="1" stroke="#4f74b0" stroke-width="0.5"/>
<rect x="787.60" y="396.00" width="1.70" height="40.00" fill="#a9abae"/>
<rect x="790.80" y="396.00" width="1.70" height="40.00" fill="#a9abae"/>
<rect x="794.00" y="396.00" width="1.70" height="40.00" fill="#a9abae"/>
<rect x="797.20" y="396.00" width="1.70" height="40.00" fill="#a9abae"/>
<rect x="786.00" y="396.00" width="14.60" height="40.00" fill="#55575a" opacity="0.3"/>
<path d="M792.6,398 C793.6,410 795,424 797.6,436" fill="none" stroke="#1a1a1a" stroke-width="1.3"/>
<rect x="777.80" y="390.00" width="4.40" height="44.00" fill="#2e2e2e"/>
<rect x="804.60" y="390.00" width="4.40" height="44.00" fill="#2e2e2e"/>
<rect x="769.00" y="364.00" width="50.60" height="32.60" fill="url(#flg)" rx="1.2" stroke="#4a4c4f" stroke-width="0.5"/>
<rect x="763.20" y="365.00" width="7.20" height="33.60" fill="#242424" rx="1.2"/>
<rect x="818.60" y="367.00" width="6.40" height="28.00" fill="#2e2e2e" rx="1.6"/>
<rect x="820.60" y="369.00" width="4.00" height="6.00" fill="#d0d2d4" rx="1"/>
<rect x="820.60" y="386.00" width="4.00" height="6.00" fill="#d0d2d4" rx="1"/>
<rect x="778.00" y="365.00" width="1.60" height="22.00" fill="#8d8f92"/>
<rect x="808.00" y="365.00" width="1.60" height="22.00" fill="#8d8f92"/>
<circle cx="792.60" cy="381.40" r="3.60" fill="#e9eaeb" stroke="#6a6c6f" stroke-width="0.6"/>
<rect x="787.40" y="380.30" width="10.40" height="2.30" fill="#e4e5e6" rx="1" stroke="#6a6c6f" stroke-width="0.4"/>
<rect x="771.20" y="399.60" width="2.20" height="8.40" fill="#dfe3ea" rx="1" stroke="#4f74b0" stroke-width="0.5"/>
<rect x="762.80" y="416.80" width="61.20" height="4.60" fill="#2a2a2a" rx="0.6"/>
<rect x="767.70" y="409.50" width="2.20" height="22.50" fill="#bfc1c3" rx="0.4" stroke="#707275" stroke-width="0.3"/>
<rect x="766.20" y="413.40" width="5.20" height="3.40" fill="#d9dadc" rx="0.6" stroke="#707275" stroke-width="0.4"/>
<rect x="766.20" y="421.40" width="5.20" height="3.20" fill="#cfd0d2" rx="0.6" stroke="#707275" stroke-width="0.4"/>
<rect x="766.60" y="426.60" width="4.40" height="3.80" fill="#e4e4e5" rx="0.8" stroke="#707275" stroke-width="0.4"/>
<rect x="816.50" y="409.50" width="2.20" height="22.50" fill="#bfc1c3" rx="0.4" stroke="#707275" stroke-width="0.3"/>
<rect x="815.00" y="413.40" width="5.20" height="3.40" fill="#d9dadc" rx="0.6" stroke="#707275" stroke-width="0.4"/>
<rect x="815.00" y="421.40" width="5.20" height="3.20" fill="#cfd0d2" rx="0.6" stroke="#707275" stroke-width="0.4"/>
<rect x="815.40" y="426.60" width="4.40" height="3.80" fill="#e4e4e5" rx="0.8" stroke="#707275" stroke-width="0.4"/>
<rect x="760.70" y="428.60" width="74.90" height="7.80" fill="#262626" rx="0.6"/>
<rect x="761.80" y="432.80" width="12.00" height="9.60" fill="#e6e7e9" rx="0.8" stroke="#9a9c9f" stroke-width="0.5"/>
<rect x="765.30" y="435.40" width="5.00" height="6.60" fill="#f5f5f6" rx="0.4"/>
<rect x="812.40" y="432.80" width="12.00" height="9.60" fill="#e6e7e9" rx="0.8" stroke="#9a9c9f" stroke-width="0.5"/>
<rect x="815.90" y="435.40" width="5.00" height="6.60" fill="#f5f5f6" rx="0.4"/>
</g>
<g id="side-left">
<path d="M107.50,630.6 C100.50,632.3 97.90,639.3 98.20,646.3 C98.30,652.4 100.50,655.6 104.00,655.9 C107.50,655.9 109.30,653.3 111.00,652 L130.30,652 L130.30,645 L127.50,645 L127.50,636.8 L128.70,635.6 L128.70,630.6 Z" fill="#e9ebee" stroke="#5f6165" stroke-width="0.8" stroke-linejoin="round"/>
<rect x="108.90" y="632.00" width="6.00" height="19.00" fill="#f4f5f6" rx="2" opacity="0.8"/>
<rect x="117.50" y="635.60" width="8.60" height="9.00" fill="#2b2b2b" rx="0.8"/>
<rect x="118.90" y="637.00" width="6.00" height="6.40" fill="#3d3d3d" rx="0.6"/>
<rect x="116.50" y="645.00" width="13.40" height="6.60" fill="#eef0f2" stroke="#9a9c9f" stroke-width="0.4"/>
<path d="M277.40,630.6 C284.40,632.3 287.00,639.3 286.70,646.3 C286.60,652.4 284.40,655.6 280.90,655.9 C277.40,655.9 275.60,653.3 273.90,652 L254.60,652 L254.60,645 L257.40,645 L257.40,636.8 L256.20,635.6 L256.20,630.6 Z" fill="#e9ebee" stroke="#5f6165" stroke-width="0.8" stroke-linejoin="round"/>
<rect x="270.00" y="632.00" width="6.00" height="19.00" fill="#f4f5f6" rx="2" opacity="0.8"/>
<rect x="258.80" y="635.60" width="8.60" height="9.00" fill="#2b2b2b" rx="0.8"/>
<rect x="260.00" y="637.00" width="6.00" height="6.40" fill="#3d3d3d" rx="0.6"/>
<rect x="255.00" y="645.00" width="13.40" height="6.60" fill="#eef0f2" stroke="#9a9c9f" stroke-width="0.4"/>
<rect x="107.30" y="446.30" width="170.30" height="183.50" fill="url(#scab)" rx="1.2" stroke="#6f7175" stroke-width="0.8"/>
<rect x="116.20" y="440.30" width="47.80" height="6.70" fill="#eef0f3" rx="0.8" stroke="#6f7175" stroke-width="0.8"/>
<rect x="116.80" y="445.60" width="46.60" height="2.40" fill="#eef0f3"/>
<rect x="128.40" y="628.60" width="128.00" height="2.60" fill="#ffffff"/>
<path d="M128.00,629.40 L256.80,629.40" fill="none" stroke="#6f7175" stroke-width="0.8"/>
</g>
<g id="side-left-detail">
<rect x="116.40" y="454.00" width="152.20" height="164.40" fill="url(#spanL)" stroke="#d0d2d5" stroke-width="0.5"/>
<rect x="117.80" y="456.60" width="6.80" height="1.50" fill="#f1f2f4"/>
<rect x="122.40" y="456.60" width="2.20" height="1.50" fill="#55585c"/>
<rect x="117.80" y="460.05" width="6.80" height="1.50" fill="#f1f2f4"/>
<rect x="122.40" y="460.05" width="2.20" height="1.50" fill="#a9acb1"/>
<rect x="117.80" y="463.50" width="6.80" height="1.50" fill="#f1f2f4"/>
<rect x="122.40" y="463.50" width="2.20" height="1.50" fill="#a9acb1"/>
<rect x="117.80" y="466.95" width="6.80" height="1.50" fill="#f1f2f4"/>
<rect x="122.40" y="466.95" width="2.20" height="1.50" fill="#55585c"/>
<rect x="117.80" y="470.40" width="6.80" height="1.50" fill="#f1f2f4"/>
<rect x="122.40" y="470.40" width="2.20" height="1.50" fill="#55585c"/>
<rect x="117.80" y="473.85" width="6.80" height="1.50" fill="#f1f2f4"/>
<rect x="122.40" y="473.85" width="2.20" height="1.50" fill="#55585c"/>
<rect x="117.80" y="477.30" width="6.80" height="1.50" fill="#f1f2f4"/>
<rect x="122.40" y="477.30" width="2.20" height="1.50" fill="#55585c"/>
<rect x="117.80" y="480.75" width="6.80" height="1.50" fill="#f1f2f4"/>
<rect x="122.40" y="480.75" width="2.20" height="1.50" fill="#55585c"/>
<rect x="117.80" y="484.20" width="6.80" height="1.50" fill="#f1f2f4"/>
<rect x="122.40" y="484.20" width="2.20" height="1.50" fill="#55585c"/>
<rect x="117.80" y="487.65" width="6.80" height="1.50" fill="#f1f2f4"/>
<rect x="122.40" y="487.65" width="2.20" height="1.50" fill="#55585c"/>
<rect x="117.80" y="491.10" width="6.80" height="1.50" fill="#f1f2f4"/>
<rect x="122.40" y="491.10" width="2.20" height="1.50" fill="#55585c"/>
<rect x="117.80" y="494.55" width="6.80" height="1.50" fill="#f1f2f4"/>
<rect x="122.40" y="494.55" width="2.20" height="1.50" fill="#55585c"/>
<rect x="117.80" y="498.00" width="6.80" height="1.50" fill="#f1f2f4"/>
<rect x="122.40" y="498.00" width="2.20" height="1.50" fill="#55585c"/>
<rect x="117.80" y="501.45" width="6.80" height="1.50" fill="#f1f2f4"/>
<rect x="122.40" y="501.45" width="2.20" height="1.50" fill="#a9acb1"/>
<rect x="117.80" y="504.90" width="6.80" height="1.50" fill="#f1f2f4"/>
<rect x="122.40" y="504.90" width="2.20" height="1.50" fill="#a9acb1"/>
<rect x="117.80" y="508.35" width="6.80" height="1.50" fill="#f1f2f4"/>
<rect x="122.40" y="508.35" width="2.20" height="1.50" fill="#55585c"/>
<rect x="117.80" y="511.80" width="6.80" height="1.50" fill="#f1f2f4"/>
<rect x="122.40" y="511.80" width="2.20" height="1.50" fill="#a9acb1"/>
<rect x="117.80" y="515.25" width="6.80" height="1.50" fill="#f1f2f4"/>
<rect x="122.40" y="515.25" width="2.20" height="1.50" fill="#a9acb1"/>
<rect x="117.80" y="518.70" width="6.80" height="1.50" fill="#f1f2f4"/>
<rect x="122.40" y="518.70" width="2.20" height="1.50" fill="#55585c"/>
<rect x="117.80" y="522.15" width="6.80" height="1.50" fill="#f1f2f4"/>
<rect x="122.40" y="522.15" width="2.20" height="1.50" fill="#a9acb1"/>
<rect x="117.80" y="525.60" width="6.80" height="1.50" fill="#f1f2f4"/>
<rect x="122.40" y="525.60" width="2.20" height="1.50" fill="#a9acb1"/>
<rect x="117.80" y="529.05" width="6.80" height="1.50" fill="#f1f2f4"/>
<rect x="122.40" y="529.05" width="2.20" height="1.50" fill="#55585c"/>
<rect x="117.80" y="532.50" width="6.80" height="1.50" fill="#f1f2f4"/>
<rect x="122.40" y="532.50" width="2.20" height="1.50" fill="#55585c"/>
<rect x="117.80" y="535.95" width="6.80" height="1.50" fill="#f1f2f4"/>
<rect x="122.40" y="535.95" width="2.20" height="1.50" fill="#55585c"/>
<rect x="117.80" y="539.40" width="6.80" height="1.50" fill="#f1f2f4"/>
<rect x="122.40" y="539.40" width="2.20" height="1.50" fill="#55585c"/>
<rect x="117.80" y="542.85" width="6.80" height="1.50" fill="#f1f2f4"/>
<rect x="122.40" y="542.85" width="2.20" height="1.50" fill="#55585c"/>
<rect x="117.80" y="546.30" width="6.80" height="1.50" fill="#f1f2f4"/>
<rect x="122.40" y="546.30" width="2.20" height="1.50" fill="#55585c"/>
<rect x="117.80" y="549.75" width="6.80" height="1.50" fill="#f1f2f4"/>
<rect x="122.40" y="549.75" width="2.20" height="1.50" fill="#55585c"/>
<rect x="117.80" y="553.20" width="6.80" height="1.50" fill="#f1f2f4"/>
<rect x="122.40" y="553.20" width="2.20" height="1.50" fill="#55585c"/>
<rect x="117.80" y="556.65" width="6.80" height="1.50" fill="#f1f2f4"/>
<rect x="122.40" y="556.65" width="2.20" height="1.50" fill="#55585c"/>
<rect x="117.80" y="560.10" width="6.80" height="1.50" fill="#f1f2f4"/>
<rect x="122.40" y="560.10" width="2.20" height="1.50" fill="#55585c"/>
<rect x="117.80" y="563.55" width="6.80" height="1.50" fill="#f1f2f4"/>
<rect x="122.40" y="563.55" width="2.20" height="1.50" fill="#55585c"/>
<rect x="117.80" y="567.00" width="6.80" height="1.50" fill="#f1f2f4"/>
<rect x="122.40" y="567.00" width="2.20" height="1.50" fill="#55585c"/>
<rect x="117.80" y="570.45" width="6.80" height="1.50" fill="#f1f2f4"/>
<rect x="122.40" y="570.45" width="2.20" height="1.50" fill="#55585c"/>
<rect x="117.80" y="573.90" width="6.80" height="1.50" fill="#f1f2f4"/>
<rect x="122.40" y="573.90" width="2.20" height="1.50" fill="#55585c"/>
<rect x="117.80" y="577.35" width="6.80" height="1.50" fill="#f1f2f4"/>
<rect x="122.40" y="577.35" width="2.20" height="1.50" fill="#a9acb1"/>
<rect x="117.80" y="580.80" width="6.80" height="1.50" fill="#f1f2f4"/>
<rect x="122.40" y="580.80" width="2.20" height="1.50" fill="#55585c"/>
<rect x="117.80" y="584.25" width="6.80" height="1.50" fill="#f1f2f4"/>
<rect x="122.40" y="584.25" width="2.20" height="1.50" fill="#a9acb1"/>
<rect x="117.80" y="587.70" width="6.80" height="1.50" fill="#f1f2f4"/>
<rect x="122.40" y="587.70" width="2.20" height="1.50" fill="#a9acb1"/>
<rect x="117.80" y="591.15" width="6.80" height="1.50" fill="#f1f2f4"/>
<rect x="122.40" y="591.15" width="2.20" height="1.50" fill="#55585c"/>
<rect x="117.80" y="594.60" width="6.80" height="1.50" fill="#f1f2f4"/>
<rect x="122.40" y="594.60" width="2.20" height="1.50" fill="#a9acb1"/>
<rect x="117.80" y="598.05" width="6.80" height="1.50" fill="#f1f2f4"/>
<rect x="122.40" y="598.05" width="2.20" height="1.50" fill="#a9acb1"/>
<rect x="117.80" y="601.50" width="6.80" height="1.50" fill="#f1f2f4"/>
<rect x="122.40" y="601.50" width="2.20" height="1.50" fill="#55585c"/>
<rect x="117.80" y="604.95" width="6.80" height="1.50" fill="#f1f2f4"/>
<rect x="122.40" y="604.95" width="2.20" height="1.50" fill="#a9acb1"/>
<rect x="118.40" y="609.80" width="1.70" height="7.00" fill="#f3f4f6"/>
<rect x="121.60" y="609.80" width="1.70" height="7.00" fill="#f3f4f6"/>
<rect x="124.80" y="609.80" width="1.70" height="7.00" fill="#f3f4f6"/>
<rect x="128.00" y="609.80" width="1.70" height="7.00" fill="#f3f4f6"/>
<rect x="131.20" y="609.80" width="1.70" height="7.00" fill="#f3f4f6"/>
<rect x="134.40" y="609.80" width="1.70" height="7.00" fill="#f3f4f6"/>
<rect x="137.60" y="609.80" width="1.70" height="7.00" fill="#f3f4f6"/>
<rect x="140.80" y="609.80" width="1.70" height="7.00" fill="#f3f4f6"/>
<rect x="143.00" y="609.40" width="8.50" height="7.80" fill="#eceef0"/>
<rect x="126.40" y="489.60" width="9.20" height="8.40" fill="#cfd1d3" rx="3" stroke="#85878a" stroke-width="0.7"/>
<rect x="128.00" y="491.00" width="5.00" height="5.60" fill="#e9eaeb" rx="2"/>
<rect x="126.40" y="527.70" width="9.20" height="8.40" fill="#cfd1d3" rx="3" stroke="#85878a" stroke-width="0.7"/>
<rect x="128.00" y="529.10" width="5.00" height="5.60" fill="#e9eaeb" rx="2"/>
<rect x="126.40" y="547.00" width="24.80" height="15.40" fill="#2e2e2e" rx="0.6"/>
<rect x="276.20" y="524.00" width="2.40" height="24.00" fill="#3a3a3a" rx="1"/>
<rect x="276.70" y="612.00" width="2.50" height="3.00" fill="#444"/>
<rect x="101.00" y="602.60" width="5.00" height="2.80" fill="#6d6f72" rx="1"/>
<rect x="94.00" y="487.40" width="12.50" height="7.20" fill="url(#steelV)" rx="0.6"/>
<rect x="91.60" y="484.60" width="3.00" height="12.80" fill="#b9bbbd" rx="1" stroke="#55575a" stroke-width="0.5"/>
<path d="M94,490.6 C86,490 80.8,495 80.8,505 C80.8,525 83.4,550 83.6,563 C83.8,572 80.5,575.5 76.5,578 C72,580.5 71,586 71,600" fill="none" stroke="#111" stroke-width="9.6" stroke-linecap="butt"/>
<path d="M94,490.6 C86,490 80.8,495 80.8,505 C80.8,525 83.4,550 83.6,563 C83.8,572 80.5,575.5 76.5,578 C72,580.5 71,586 71,600" fill="none" stroke="#3a3a3a" stroke-width="5.2" stroke-linecap="butt"/>
<path d="M94,490.6 C86,490 80.8,495 80.8,505 C80.8,525 83.4,550 83.6,563 C83.8,572 80.5,575.5 76.5,578 C72,580.5 71,586 71,600" fill="none" stroke="#5a5a5a" stroke-width="1.6" stroke-linecap="butt" opacity="0.8"/>
<path d="M88,571 C86,577 81.5,580 75.5,581.6" fill="none" stroke="#c9cbcd" stroke-width="1.6" opacity="0.85"/>
<path d="M66.6,585 C67.6,580 71,577 75,576" fill="none" stroke="#d0d0d0" stroke-width="1.1" opacity="0.6"/>
<rect x="52.80" y="612.00" width="4.80" height="32.00" fill="#f6f6f6"/>
<rect x="93.00" y="612.00" width="4.60" height="32.00" fill="#f6f6f6"/>
<rect x="52.80" y="612.50" width="4.80" height="1.00" fill="#b4b6b9"/>
<rect x="93.00" y="612.50" width="4.60" height="1.00" fill="#b4b6b9"/>
<rect x="52.80" y="615.50" width="4.80" height="1.00" fill="#b4b6b9"/>
<rect x="93.00" y="615.50" width="4.60" height="1.00" fill="#b4b6b9"/>
<rect x="52.80" y="618.50" width="4.80" height="1.00" fill="#b4b6b9"/>
<rect x="93.00" y="618.50" width="4.60" height="1.00" fill="#b4b6b9"/>
<rect x="52.80" y="621.50" width="4.80" height="1.00" fill="#b4b6b9"/>
<rect x="93.00" y="621.50" width="4.60" height="1.00" fill="#b4b6b9"/>
<rect x="52.80" y="624.50" width="4.80" height="1.00" fill="#b4b6b9"/>
<rect x="93.00" y="624.50" width="4.60" height="1.00" fill="#b4b6b9"/>
<rect x="52.80" y="627.50" width="4.80" height="1.00" fill="#b4b6b9"/>
<rect x="93.00" y="627.50" width="4.60" height="1.00" fill="#b4b6b9"/>
<rect x="52.80" y="630.50" width="4.80" height="1.00" fill="#b4b6b9"/>
<rect x="93.00" y="630.50" width="4.60" height="1.00" fill="#b4b6b9"/>
<rect x="52.80" y="633.50" width="4.80" height="1.00" fill="#b4b6b9"/>
<rect x="93.00" y="633.50" width="4.60" height="1.00" fill="#b4b6b9"/>
<rect x="52.80" y="636.50" width="4.80" height="1.00" fill="#b4b6b9"/>
<rect x="93.00" y="636.50" width="4.60" height="1.00" fill="#b4b6b9"/>
<rect x="52.80" y="639.50" width="4.80" height="1.00" fill="#b4b6b9"/>
<rect x="93.00" y="639.50" width="4.60" height="1.00" fill="#b4b6b9"/>
<rect x="52.80" y="642.50" width="4.80" height="1.00" fill="#b4b6b9"/>
<rect x="93.00" y="642.50" width="4.60" height="1.00" fill="#b4b6b9"/>
<rect x="81.40" y="590.00" width="5.00" height="14.00" fill="#3a3a3a" rx="0.8"/>
<rect x="81.80" y="589.40" width="4.20" height="2.20" fill="#8a8c8f" rx="0.6"/>
<rect x="61.00" y="601.00" width="7.00" height="8.00" fill="#c9cbcd" rx="1.2" stroke="#6f7174" stroke-width="0.5"/>
<rect x="84.00" y="601.00" width="6.00" height="8.00" fill="#b9bbbd" rx="1.2" stroke="#6f7174" stroke-width="0.5"/>
<rect x="57.10" y="607.90" width="36.50" height="39.10" fill="url(#pumpL)" rx="2.4" stroke="#8f9194" stroke-width="0.7"/>
<rect x="66.40" y="600.00" width="16.60" height="11.00" fill="#dcdee1" rx="1" stroke="#9a9c9f" stroke-width="0.6"/>
<circle cx="75.60" cy="627.20" r="14.20" fill="url(#pumpc2)" stroke="#9c9ea1" stroke-width="0.7"/>
<rect x="58.00" y="645.40" width="35.00" height="2.20" fill="#8f9194" rx="0.5"/>
<path d="M57.6,648 V652.6 H63 V650.4 H87.4 V652.6 H92.6 V648" fill="#dfe0e2" stroke="#8d8f92" stroke-width="0.5"/>
<path d="M219.00,322.00 C219.00,313.00 214.00,307.00 196.00,307.00 C178.00,307.00 163.00,309.00 163.00,322.00 C163.00,340.00 168.00,360.00 174.00,380.00 " fill="none" stroke="#1a1a1a" stroke-width="1.2"  stroke-linecap="round"/>
<path d="M177.60,320.50 C176.00,315.50 168.00,315.00 164.00,322.00 " fill="none" stroke="#1a1a1a" stroke-width="1.1"  stroke-linecap="round"/>
<rect x="169.00" y="346.00" width="14.00" height="20.00" fill="url(#cyl)" rx="0.6"/>
<rect x="166.90" y="329.30" width="21.40" height="18.10" fill="url(#cyl)" rx="0.8" stroke="#b3b5b8" stroke-width="0.4"/>
<line x1="167.50" y1="331.00" x2="187.80" y2="331.00" stroke="#cfd1d3" stroke-width="0.4"/>
<line x1="167.50" y1="332.60" x2="187.80" y2="332.60" stroke="#cfd1d3" stroke-width="0.4"/>
<line x1="167.50" y1="334.20" x2="187.80" y2="334.20" stroke="#cfd1d3" stroke-width="0.4"/>
<line x1="167.50" y1="335.80" x2="187.80" y2="335.80" stroke="#cfd1d3" stroke-width="0.4"/>
<line x1="167.50" y1="337.40" x2="187.80" y2="337.40" stroke="#cfd1d3" stroke-width="0.4"/>
<line x1="167.50" y1="339.00" x2="187.80" y2="339.00" stroke="#cfd1d3" stroke-width="0.4"/>
<line x1="167.50" y1="340.60" x2="187.80" y2="340.60" stroke="#cfd1d3" stroke-width="0.4"/>
<line x1="167.50" y1="342.20" x2="187.80" y2="342.20" stroke="#cfd1d3" stroke-width="0.4"/>
<line x1="167.50" y1="343.80" x2="187.80" y2="343.80" stroke="#cfd1d3" stroke-width="0.4"/>
<line x1="167.50" y1="345.40" x2="187.80" y2="345.40" stroke="#cfd1d3" stroke-width="0.4"/>
<rect x="175.60" y="320.00" width="4.40" height="9.50" fill="url(#cyl)" rx="0.8" stroke="#9a9c9f" stroke-width="0.4"/>
<rect x="152.00" y="384.00" width="8.00" height="56.00" fill="url(#steelH)"/>
<rect x="146.40" y="395.00" width="20.00" height="3.80" fill="#d2d4d6" rx="1" stroke="#77797c" stroke-width="0.4"/>
<rect x="130.70" y="376.60" width="39.30" height="10.60" fill="url(#steelV)" rx="1"/>
<rect x="144.30" y="373.80" width="6.40" height="16.20" fill="url(#steelV)" rx="1" stroke="#8a8c8f" stroke-width="0.4"/>
<rect x="130.70" y="376.60" width="2.30" height="10.60" fill="#a5a7aa" rx="1"/>
<rect x="166.00" y="374.00" width="5.00" height="16.00" fill="#c9cbcd" rx="1" stroke="#6f7174" stroke-width="0.4"/>
<path d="M177.40,357.00 L188.60,346.40 L239.70,346.40 L250.70,357.00 L250.70,420.00 L177.40,420.00 Z" fill="url(#blueS)" stroke="none" stroke-width="1"/>
<rect x="201.70" y="332.90" width="21.20" height="14.10" fill="url(#blueS)" rx="0.5"/>
<rect x="177.90" y="420.00" width="72.80" height="13.00" fill="#d6d8da" rx="0.4"/>
<rect x="177.90" y="420.00" width="72.80" height="1.00" fill="#f2f2f3"/>
<rect x="250.70" y="365.00" width="7.90" height="3.60" fill="#e4e5e7" rx="1" stroke="#9a9c9f" stroke-width="0.5"/>
<rect x="250.20" y="378.00" width="2.40" height="14.00" fill="#dcdde0" rx="0.8" stroke="#8d8f92" stroke-width="0.4"/>
<circle cx="214.30" cy="382.00" r="21.30" fill="url(#disc)" stroke="#a9abae" stroke-width="0.5"/>
<path d="M190.70,389.50 L198.00,389.50 L202.00,401.40 L226.40,401.40 L230.50,389.50 L235.00,389.50 L235.00,420.00 L190.70,420.00 Z" fill="#2b2b2b" stroke="none" stroke-width="1"/>
<rect x="202.00" y="401.40" width="24.40" height="7.00" fill="url(#blueS)"/>
<rect x="193.60" y="416.50" width="41.40" height="3.90" fill="#1f1f1f"/>
<path d="M198.50,396 A21.3,21.3 0 0 0 230.00,396 L226.40,401.4 L202.00,401.4 Z" fill="#e6e7e9" stroke="none" stroke-width="1"/>
<path d="M200.00,364.40 L201.47,366.58 L203.99,367.30 L202.38,369.37 L202.47,372.00 L200.00,371.10 L197.53,372.00 L197.62,369.37 L196.01,367.30 L198.53,366.58 Z" fill="#2a2a2a" stroke="#2a2a2a" stroke-width="1" stroke-linejoin="round"/>
<path d="M227.10,364.40 L228.57,366.58 L231.09,367.30 L229.48,369.37 L229.57,372.00 L227.10,371.10 L224.63,372.00 L224.72,369.37 L223.11,367.30 L225.63,366.58 Z" fill="#2a2a2a" stroke="#2a2a2a" stroke-width="1" stroke-linejoin="round"/>
<path d="M199.60,389.80 L201.07,391.98 L203.59,392.70 L201.98,394.77 L202.07,397.40 L199.60,396.50 L197.13,397.40 L197.22,394.77 L195.61,392.70 L198.13,391.98 Z" fill="#2a2a2a" stroke="#2a2a2a" stroke-width="1" stroke-linejoin="round"/>
<path d="M227.10,389.80 L228.57,391.98 L231.09,392.70 L229.48,394.77 L229.57,397.40 L227.10,396.50 L224.63,397.40 L224.72,394.77 L223.11,392.70 L225.63,391.98 Z" fill="#2a2a2a" stroke="#2a2a2a" stroke-width="1" stroke-linejoin="round"/>
<circle cx="214.10" cy="382.00" r="1.50" fill="#f4f4f4" stroke="#6b6d70" stroke-width="0.6"/>
<rect x="219.50" y="380.30" width="16.50" height="3.50" fill="#c9cbcd" rx="1.6" stroke="#55575a" stroke-width="0.5"/>
<rect x="222.00" y="381.30" width="10.00" height="1.50" fill="#f0f0f0" rx="0.7"/>
<circle cx="245.70" cy="382.00" r="3.60" fill="#2b2b2b"/>
<circle cx="245.70" cy="382.00" r="1.60" fill="#4a4a4a"/>
<rect x="236.00" y="381.00" width="7.00" height="2.00" fill="#8d8f92"/>
<rect x="199.30" y="409.00" width="2.40" height="22.00" fill="#c9cbcd" rx="0.4" stroke="#6f7174" stroke-width="0.3"/>
<rect x="198.10" y="413.50" width="4.80" height="3.00" fill="#e4e5e6" rx="0.8" stroke="#6f7174" stroke-width="0.4"/>
<rect x="197.90" y="421.50" width="5.20" height="2.90" fill="#e4e5e6" rx="0.8" stroke="#6f7174" stroke-width="0.4"/>
<rect x="197.90" y="426.00" width="5.20" height="3.40" fill="#eeeeef" rx="0.8" stroke="#6f7174" stroke-width="0.4"/>
<rect x="226.00" y="409.00" width="2.40" height="22.00" fill="#c9cbcd" rx="0.4" stroke="#6f7174" stroke-width="0.3"/>
<rect x="224.80" y="413.50" width="4.80" height="3.00" fill="#e4e5e6" rx="0.8" stroke="#6f7174" stroke-width="0.4"/>
<rect x="224.60" y="421.50" width="5.20" height="2.90" fill="#e4e5e6" rx="0.8" stroke="#6f7174" stroke-width="0.4"/>
<rect x="224.60" y="426.00" width="5.20" height="3.40" fill="#eeeeef" rx="0.8" stroke="#6f7174" stroke-width="0.4"/>
<rect x="211.00" y="426.40" width="6.00" height="2.20" fill="#ededee" rx="1" stroke="#8d8f92" stroke-width="0.4"/>
<rect x="193.60" y="430.00" width="41.40" height="3.80" fill="#232323" rx="0.5"/>
<path d="M193.60,433.80 L207.20,433.80 L206.20,439.00 L203.00,442.00 L203.00,445.50 L197.80,445.50 L197.80,442.00 L194.60,439.00 Z" fill="#ececed" stroke="#8d8f92" stroke-width="0.5" stroke-linejoin="round"/>
<circle cx="200.40" cy="439.00" r="1.10" fill="#55575a"/>
<path d="M220.70,433.80 L234.60,433.80 L233.60,439.00 L230.40,442.00 L230.40,445.50 L224.90,445.50 L224.90,442.00 L221.70,439.00 Z" fill="#ececed" stroke="#8d8f92" stroke-width="0.5" stroke-linejoin="round"/>
<circle cx="227.65" cy="439.00" r="1.10" fill="#55575a"/>
<rect x="212.30" y="433.80" width="3.30" height="11.70" fill="#a5a7aa" rx="0.4" stroke="#55575a" stroke-width="0.4"/>
<rect x="175.00" y="430.20" width="15.00" height="14.80" fill="#2d2d2d" rx="1.2"/>
<rect x="177.00" y="432.00" width="11.00" height="11.00" fill="#3a3a3a" rx="1"/>
<rect x="205.40" y="322.00" width="17.20" height="3.80" fill="#9c3b22" rx="0.8"/>
<rect x="205.40" y="325.80" width="17.20" height="7.40" fill="#dfe6ec" rx="0.3"/>
<rect x="207.00" y="326.00" width="0.80" height="7.00" fill="#b9d3e6"/>
<rect x="209.50" y="326.00" width="0.80" height="7.00" fill="#b9d3e6"/>
<rect x="212.00" y="326.00" width="0.80" height="7.00" fill="#b9d3e6"/>
<rect x="214.50" y="326.00" width="0.80" height="7.00" fill="#b9d3e6"/>
<rect x="217.00" y="326.00" width="0.80" height="7.00" fill="#b9d3e6"/>
<rect x="219.50" y="326.00" width="0.80" height="7.00" fill="#b9d3e6"/>
<rect x="217.80" y="315.00" width="2.40" height="7.40" fill="#77797c" rx="0.8"/>
<rect x="184.40" y="353.00" width="3.20" height="3.00" fill="#2b2b2b" rx="1"/>
<rect x="185.20" y="356.00" width="1.60" height="16.00" fill="#d6d8da" rx="0.5" stroke="#6f7174" stroke-width="0.3"/>
<path d="M206,360 C196,362 188,372 180,382 C172,394 166,412 163,444" fill="none" stroke="#1a1a1a" stroke-width="1.3" stroke-linecap="round"/>
<path d="M211,368 C198,372 186,382 178,392 C170,406 166,424 164.5,444" fill="none" stroke="#1a1a1a" stroke-width="1.3" stroke-linecap="round"/>
<path d="M204,384 C192,386 180,394 174,404 C168,416 165,430 163.6,444" fill="none" stroke="#d9dadc" stroke-width="2.2" stroke-linecap="round"/>
<path d="M204,384 C192,386 180,394 174,404 C168,416 165,430 163.6,444" fill="none" stroke="#55575a" stroke-width="0.5" stroke-linecap="round"/>
<path d="M196,404 C188,403 180,404 174,408" fill="none" stroke="#1a1a1a" stroke-width="1.1" stroke-linecap="round"/>
<path d="M206,360 C208,359 210,358.6 212,359" fill="none" stroke="#1a1a1a" stroke-width="1.3" stroke-linecap="round"/>
<rect x="204.50" y="365.60" width="6.00" height="2.60" fill="#d4d6d8" rx="1" stroke="#2b2b2b" stroke-width="0.6" transform="rotate(-35 207.5 367)"/>
<rect x="199.00" y="382.50" width="7.00" height="3.00" fill="#cfd1d3" rx="1" stroke="#55575a" stroke-width="0.5" transform="rotate(-25 202 384)"/>
<rect x="208.00" y="389.00" width="5.00" height="2.60" fill="#d4d6d8" rx="1" stroke="#6f7174" stroke-width="0.5" transform="rotate(35 210 390)"/>
<rect x="170.50" y="376.00" width="6.50" height="13.00" fill="#2b2b2b" rx="1"/>
<circle cx="175.40" cy="382.00" r="1.40" fill="#2aa3e6"/>
</g>
<g id="side-right">
<path d="M1093.40,630.6 C1100.40,632.3 1103.00,639.3 1102.70,646.3 C1102.60,652.4 1100.40,655.6 1096.90,655.9 C1093.40,655.9 1091.60,653.3 1089.90,652 L1070.60,652 L1070.60,645 L1073.40,645 L1073.40,636.8 L1072.20,635.6 L1072.20,630.6 Z" fill="#e9ebee" stroke="#5f6165" stroke-width="0.8" stroke-linejoin="round"/>
<rect x="1086.00" y="632.00" width="6.00" height="19.00" fill="#f4f5f6" rx="2" opacity="0.8"/>
<rect x="1074.80" y="635.60" width="8.60" height="9.00" fill="#2b2b2b" rx="0.8"/>
<rect x="1076.00" y="637.00" width="6.00" height="6.40" fill="#3d3d3d" rx="0.6"/>
<rect x="1071.00" y="645.00" width="13.40" height="6.60" fill="#eef0f2" stroke="#9a9c9f" stroke-width="0.4"/>
<path d="M923.50,630.6 C916.50,632.3 913.90,639.3 914.20,646.3 C914.30,652.4 916.50,655.6 920.00,655.9 C923.50,655.9 925.30,653.3 927.00,652 L946.30,652 L946.30,645 L943.50,645 L943.50,636.8 L944.70,635.6 L944.70,630.6 Z" fill="#e9ebee" stroke="#5f6165" stroke-width="0.8" stroke-linejoin="round"/>
<rect x="924.90" y="632.00" width="6.00" height="19.00" fill="#f4f5f6" rx="2" opacity="0.8"/>
<rect x="933.50" y="635.60" width="8.60" height="9.00" fill="#2b2b2b" rx="0.8"/>
<rect x="934.90" y="637.00" width="6.00" height="6.40" fill="#3d3d3d" rx="0.6"/>
<rect x="932.50" y="645.00" width="13.40" height="6.60" fill="#eef0f2" stroke="#9a9c9f" stroke-width="0.4"/>
<rect x="923.30" y="446.30" width="170.30" height="183.50" fill="url(#scab)" rx="1.2" stroke="#6f7175" stroke-width="0.8"/>
<rect x="1036.90" y="440.30" width="47.80" height="6.70" fill="#eef0f3" rx="0.8" stroke="#6f7175" stroke-width="0.8"/>
<rect x="1037.50" y="445.60" width="46.60" height="2.40" fill="#eef0f3"/>
<rect x="944.50" y="628.60" width="128.00" height="2.60" fill="#ffffff"/>
<path d="M1072.90,629.40 L944.10,629.40" fill="none" stroke="#6f7175" stroke-width="0.8"/>
</g>
<g id="side-right-detail">
<rect x="932.40" y="453.60" width="152.60" height="164.80" fill="url(#spanR)" stroke="#d0d2d5" stroke-width="0.5"/>
<rect x="1057.50" y="453.70" width="18.00" height="34.30" fill="#c3c6cd" opacity="0.8"/>
<rect x="1068.00" y="536.00" width="7.50" height="70.00" fill="#eceef0" stroke="#d9dbde" stroke-width="0.4"/>
<path d="M1054.2,453.7 V484 Q1054.2,490.5 1061,490.5 H1094" fill="none" stroke="#77797d" stroke-width="6.8"/>
<path d="M1054.2,453.7 V484 Q1054.2,490.5 1061,490.5 H1094" fill="none" stroke="#e4e5e7" stroke-width="4.2"/>
<path d="M1053.4,453.7 V484 Q1053.4,491.3 1061,491.3 H1094" fill="none" stroke="#f8f8f8" stroke-width="1.4"/>
<circle cx="1057.60" cy="488.40" r="3.60" fill="#e9eaec" stroke="#9a9c9f" stroke-width="0.7"/>
<circle cx="1057.60" cy="488.40" r="1.60" fill="#f8f8f8"/>
<rect x="1075.30" y="454.00" width="9.70" height="153.00" fill="#f3f4f6"/>
<rect x="1077.00" y="456.40" width="6.80" height="1.30" fill="#8a8d92"/>
<rect x="1077.00" y="459.85" width="6.80" height="1.30" fill="#8a8d92"/>
<rect x="1077.00" y="463.30" width="6.80" height="1.30" fill="#8a8d92"/>
<rect x="1077.00" y="466.75" width="6.80" height="1.30" fill="#8a8d92"/>
<rect x="1077.00" y="470.20" width="6.80" height="1.30" fill="#8a8d92"/>
<rect x="1077.00" y="473.65" width="6.80" height="1.30" fill="#8a8d92"/>
<rect x="1077.00" y="477.10" width="6.80" height="1.30" fill="#8a8d92"/>
<rect x="1077.00" y="480.55" width="6.80" height="1.30" fill="#8a8d92"/>
<rect x="1077.00" y="484.00" width="6.80" height="1.30" fill="#8a8d92"/>
<rect x="1077.00" y="487.45" width="6.80" height="1.30" fill="#8a8d92"/>
<rect x="1077.00" y="490.90" width="6.80" height="1.30" fill="#8a8d92"/>
<rect x="1077.00" y="494.35" width="6.80" height="1.30" fill="#8a8d92"/>
<rect x="1077.00" y="497.80" width="6.80" height="1.30" fill="#8a8d92"/>
<rect x="1077.00" y="501.25" width="6.80" height="1.30" fill="#8a8d92"/>
<rect x="1077.00" y="504.70" width="6.80" height="1.30" fill="#8a8d92"/>
<rect x="1077.00" y="508.15" width="6.80" height="1.30" fill="#8a8d92"/>
<rect x="1077.00" y="511.60" width="6.80" height="1.30" fill="#8a8d92"/>
<rect x="1077.00" y="515.05" width="6.80" height="1.30" fill="#8a8d92"/>
<rect x="1077.00" y="518.50" width="6.80" height="1.30" fill="#8a8d92"/>
<rect x="1077.00" y="521.95" width="6.80" height="1.30" fill="#8a8d92"/>
<rect x="1077.00" y="525.40" width="6.80" height="1.30" fill="#8a8d92"/>
<rect x="1077.00" y="528.85" width="6.80" height="1.30" fill="#8a8d92"/>
<rect x="1077.00" y="532.30" width="6.80" height="1.30" fill="#8a8d92"/>
<rect x="1077.00" y="535.75" width="6.80" height="1.30" fill="#8a8d92"/>
<rect x="1077.00" y="539.20" width="6.80" height="1.30" fill="#8a8d92"/>
<rect x="1077.00" y="542.65" width="6.80" height="1.30" fill="#8a8d92"/>
<rect x="1077.00" y="546.10" width="6.80" height="1.30" fill="#8a8d92"/>
<rect x="1077.00" y="549.55" width="6.80" height="1.30" fill="#8a8d92"/>
<rect x="1077.00" y="553.00" width="6.80" height="1.30" fill="#8a8d92"/>
<rect x="1077.00" y="556.45" width="6.80" height="1.30" fill="#8a8d92"/>
<rect x="1077.00" y="559.90" width="6.80" height="1.30" fill="#8a8d92"/>
<rect x="1077.00" y="563.35" width="6.80" height="1.30" fill="#8a8d92"/>
<rect x="1077.00" y="566.80" width="6.80" height="1.30" fill="#8a8d92"/>
<rect x="1077.00" y="570.25" width="6.80" height="1.30" fill="#8a8d92"/>
<rect x="1077.00" y="573.70" width="6.80" height="1.30" fill="#8a8d92"/>
<rect x="1077.00" y="577.15" width="6.80" height="1.30" fill="#8a8d92"/>
<rect x="1077.00" y="580.60" width="6.80" height="1.30" fill="#8a8d92"/>
<rect x="1077.00" y="584.05" width="6.80" height="1.30" fill="#8a8d92"/>
<rect x="1077.00" y="587.50" width="6.80" height="1.30" fill="#8a8d92"/>
<rect x="1077.00" y="590.95" width="6.80" height="1.30" fill="#8a8d92"/>
<rect x="1077.00" y="594.40" width="6.80" height="1.30" fill="#8a8d92"/>
<rect x="1077.00" y="597.85" width="6.80" height="1.30" fill="#8a8d92"/>
<rect x="1077.00" y="601.30" width="6.80" height="1.30" fill="#8a8d92"/>
<rect x="1077.00" y="604.75" width="6.80" height="1.30" fill="#8a8d92"/>
<rect x="1046.00" y="608.40" width="39.00" height="9.60" fill="#eef0f2"/>
<rect x="1054.00" y="609.80" width="1.30" height="7.00" fill="#9a9da2"/>
<rect x="1057.20" y="609.80" width="1.30" height="7.00" fill="#9a9da2"/>
<rect x="1060.40" y="609.80" width="1.30" height="7.00" fill="#9a9da2"/>
<rect x="1063.60" y="609.80" width="1.30" height="7.00" fill="#9a9da2"/>
<rect x="1066.80" y="609.80" width="1.30" height="7.00" fill="#9a9da2"/>
<rect x="1070.00" y="609.80" width="1.30" height="7.00" fill="#9a9da2"/>
<rect x="1073.20" y="609.80" width="1.30" height="7.00" fill="#9a9da2"/>
<rect x="1076.40" y="609.80" width="1.30" height="7.00" fill="#9a9da2"/>
<rect x="1079.60" y="609.80" width="1.30" height="7.00" fill="#9a9da2"/>
<rect x="1082.80" y="609.80" width="1.30" height="7.00" fill="#9a9da2"/>
<rect x="1046.60" y="609.40" width="5.40" height="3.60" fill="#dfe1e5"/>
<rect x="921.80" y="524.00" width="2.20" height="24.00" fill="#3a3a3a" rx="1"/>
<rect x="921.00" y="612.00" width="2.40" height="3.00" fill="#444"/>
<rect x="1093.60" y="602.60" width="5.00" height="2.80" fill="#6d6f72" rx="1"/>
<rect x="1093.30" y="487.20" width="12.70" height="7.20" fill="url(#steelV)" rx="0.6"/>
<rect x="1105.00" y="484.80" width="3.00" height="12.20" fill="#c4c6c8" rx="1" stroke="#6f7174" stroke-width="0.5"/>
<path d="M1108,490.6 C1116,490 1121.5,495 1121.5,506 C1121.5,525 1117,550 1116.8,563 C1116.6,572 1120,576 1124.5,578.5 C1129,581 1129.6,586 1129.6,600" fill="none" stroke="#3a3c3f" stroke-width="10.6"/>
<path d="M1108,490.6 C1116,490 1121.5,495 1121.5,506 C1121.5,525 1117,550 1116.8,563 C1116.6,572 1120,576 1124.5,578.5 C1129,581 1129.6,586 1129.6,600" fill="none" stroke="#7d7f83" stroke-width="8.4"/>
<path d="M1108,490.6 C1116,490 1121.5,495 1121.5,506 C1121.5,525 1117,550 1116.8,563 C1116.6,572 1120,576 1124.5,578.5 C1129,581 1129.6,586 1129.6,600" fill="none" stroke="#a9abae" stroke-width="4.6" stroke-dasharray="1 1.2"/>
<path d="M1108,490.6 C1116,490 1121.5,495 1121.5,506 C1121.5,525 1117,550 1116.8,563 C1116.6,572 1120,576 1124.5,578.5 C1129,581 1129.6,586 1129.6,600" fill="none" stroke="#5f6164" stroke-width="8.4" stroke-dasharray="0.7 1.5" opacity="0.5"/>
<path d="M1112.4,571.6 C1114,578 1119,581.6 1126,583" fill="none" stroke="#26282b" stroke-width="1.8"/>
<path d="M1134,584 C1133,579.6 1129.6,576.6 1125.6,575.6" fill="none" stroke="#e4e5e6" stroke-width="1.3" opacity="0.8"/>
<rect x="1104.00" y="612.00" width="4.80" height="32.00" fill="#f8f8f8"/>
<rect x="1143.60" y="612.00" width="4.80" height="32.00" fill="#f8f8f8"/>
<rect x="1104.00" y="612.50" width="4.80" height="1.00" fill="#bdbfc2"/>
<rect x="1143.60" y="612.50" width="4.80" height="1.00" fill="#bdbfc2"/>
<rect x="1104.00" y="615.50" width="4.80" height="1.00" fill="#bdbfc2"/>
<rect x="1143.60" y="615.50" width="4.80" height="1.00" fill="#bdbfc2"/>
<rect x="1104.00" y="618.50" width="4.80" height="1.00" fill="#bdbfc2"/>
<rect x="1143.60" y="618.50" width="4.80" height="1.00" fill="#bdbfc2"/>
<rect x="1104.00" y="621.50" width="4.80" height="1.00" fill="#bdbfc2"/>
<rect x="1143.60" y="621.50" width="4.80" height="1.00" fill="#bdbfc2"/>
<rect x="1104.00" y="624.50" width="4.80" height="1.00" fill="#bdbfc2"/>
<rect x="1143.60" y="624.50" width="4.80" height="1.00" fill="#bdbfc2"/>
<rect x="1104.00" y="627.50" width="4.80" height="1.00" fill="#bdbfc2"/>
<rect x="1143.60" y="627.50" width="4.80" height="1.00" fill="#bdbfc2"/>
<rect x="1104.00" y="630.50" width="4.80" height="1.00" fill="#bdbfc2"/>
<rect x="1143.60" y="630.50" width="4.80" height="1.00" fill="#bdbfc2"/>
<rect x="1104.00" y="633.50" width="4.80" height="1.00" fill="#bdbfc2"/>
<rect x="1143.60" y="633.50" width="4.80" height="1.00" fill="#bdbfc2"/>
<rect x="1104.00" y="636.50" width="4.80" height="1.00" fill="#bdbfc2"/>
<rect x="1143.60" y="636.50" width="4.80" height="1.00" fill="#bdbfc2"/>
<rect x="1104.00" y="639.50" width="4.80" height="1.00" fill="#bdbfc2"/>
<rect x="1143.60" y="639.50" width="4.80" height="1.00" fill="#bdbfc2"/>
<rect x="1104.00" y="642.50" width="4.80" height="1.00" fill="#bdbfc2"/>
<rect x="1143.60" y="642.50" width="4.80" height="1.00" fill="#bdbfc2"/>
<rect x="1113.00" y="589.40" width="5.60" height="18.60" fill="url(#cyl)" rx="0.8" stroke="#8d8f92" stroke-width="0.5"/>
<rect x="1120.00" y="600.00" width="6.00" height="8.00" fill="#b3b5b8" rx="1" stroke="#6f7174" stroke-width="0.5"/>
<rect x="1124.60" y="596.60" width="10.40" height="11.40" fill="#9a9c9f" rx="2" stroke="#5f6164" stroke-width="0.6"/>
<rect x="1126.60" y="598.00" width="3.40" height="8.00" fill="#e4e5e6" rx="1"/>
<rect x="1134.00" y="599.00" width="6.00" height="9.00" fill="#c3c5c8" rx="2" stroke="#6f7174" stroke-width="0.5"/>
<rect x="1111.00" y="603.40" width="3.00" height="4.60" fill="#a9abae" rx="0.6"/>
<rect x="1108.60" y="607.10" width="35.00" height="40.00" fill="url(#pumpR)" rx="2.4" stroke="#96989b" stroke-width="0.7"/>
<rect x="1109.60" y="645.20" width="33.00" height="2.20" fill="#9c9ea1" rx="0.5"/>
<path d="M1109.6,648 V652.4 H1114.6 V650.4 H1138 V652.4 H1143 V648" fill="#dfe0e2" stroke="#8d8f92" stroke-width="0.5"/>
<rect x="1040.90" y="384.00" width="8.00" height="56.00" fill="url(#steelH)"/>
<rect x="1034.50" y="395.00" width="20.00" height="3.80" fill="#d2d4d6" rx="1" stroke="#77797c" stroke-width="0.4"/>
<rect x="1030.90" y="376.60" width="39.30" height="10.60" fill="url(#steelV)" rx="1"/>
<rect x="1050.20" y="373.80" width="6.40" height="16.20" fill="url(#steelV)" rx="1" stroke="#8a8c8f" stroke-width="0.4"/>
<rect x="1067.90" y="376.60" width="2.30" height="10.60" fill="#a5a7aa" rx="1"/>
<rect x="1029.90" y="374.00" width="5.00" height="16.00" fill="#c9cbcd" rx="1" stroke="#6f7174" stroke-width="0.4"/>
<path d="M1023.50,357.00 L1012.30,346.40 L961.20,346.40 L950.20,357.00 L950.20,420.00 L1023.50,420.00 Z" fill="url(#blueSR)" stroke="none" stroke-width="1"/>
<rect x="980.30" y="333.00" width="20.20" height="14.00" fill="url(#blueSR)" rx="0.5"/>
<rect x="950.20" y="420.00" width="72.80" height="13.00" fill="#d6d8da" rx="0.4"/>
<rect x="950.20" y="420.00" width="72.80" height="1.00" fill="#f2f2f3"/>
<rect x="942.30" y="365.00" width="7.90" height="3.60" fill="#e4e5e7" rx="1" stroke="#9a9c9f" stroke-width="0.5"/>
<rect x="948.30" y="378.00" width="2.40" height="14.00" fill="#dcdde0" rx="0.8" stroke="#8d8f92" stroke-width="0.4"/>
<circle cx="986.60" cy="382.00" r="21.30" fill="url(#disc)" stroke="#a9abae" stroke-width="0.5"/>
<path d="M1010.20,389.50 L1002.90,389.50 L998.90,401.40 L974.50,401.40 L970.40,389.50 L965.90,389.50 L965.90,420.00 L1010.20,420.00 Z" fill="#2b2b2b" stroke="none" stroke-width="1"/>
<rect x="974.50" y="401.40" width="24.40" height="7.00" fill="url(#blueSR)"/>
<rect x="965.90" y="416.50" width="41.40" height="3.90" fill="#1f1f1f"/>
<path d="M1002.40,396 A21.3,21.3 0 0 1 970.90,396 L974.50,401.4 L998.90,401.4 Z" fill="#e6e7e9" stroke="none" stroke-width="1"/>
<path d="M1000.90,364.40 L999.43,366.58 L996.91,367.30 L998.52,369.37 L998.43,372.00 L1000.90,371.10 L1003.37,372.00 L1003.28,369.37 L1004.89,367.30 L1002.37,366.58 Z" fill="#2a2a2a" stroke="#2a2a2a" stroke-width="1" stroke-linejoin="round"/>
<path d="M973.80,364.40 L972.33,366.58 L969.81,367.30 L971.42,369.37 L971.33,372.00 L973.80,371.10 L976.27,372.00 L976.18,369.37 L977.79,367.30 L975.27,366.58 Z" fill="#2a2a2a" stroke="#2a2a2a" stroke-width="1" stroke-linejoin="round"/>
<path d="M1001.30,389.80 L999.83,391.98 L997.31,392.70 L998.92,394.77 L998.83,397.40 L1001.30,396.50 L1003.77,397.40 L1003.68,394.77 L1005.29,392.70 L1002.77,391.98 Z" fill="#2a2a2a" stroke="#2a2a2a" stroke-width="1" stroke-linejoin="round"/>
<path d="M973.80,389.80 L972.33,391.98 L969.81,392.70 L971.42,394.77 L971.33,397.40 L973.80,396.50 L976.27,397.40 L976.18,394.77 L977.79,392.70 L975.27,391.98 Z" fill="#2a2a2a" stroke="#2a2a2a" stroke-width="1" stroke-linejoin="round"/>
<circle cx="986.80" cy="382.00" r="1.50" fill="#f4f4f4" stroke="#6b6d70" stroke-width="0.6"/>
<rect x="954.90" y="381.00" width="11.40" height="2.60" fill="#d0d2d4" rx="0.6" stroke="#6f7174" stroke-width="0.4"/>
<rect x="965.90" y="378.60" width="3.00" height="7.40" fill="#c3c5c8" rx="0.6" stroke="#6f7174" stroke-width="0.4"/>
<rect x="999.20" y="409.00" width="2.40" height="22.00" fill="#c9cbcd" rx="0.4" stroke="#6f7174" stroke-width="0.3"/>
<rect x="998.00" y="413.50" width="4.80" height="3.00" fill="#e4e5e6" rx="0.8" stroke="#6f7174" stroke-width="0.4"/>
<rect x="997.80" y="421.50" width="5.20" height="2.90" fill="#e4e5e6" rx="0.8" stroke="#6f7174" stroke-width="0.4"/>
<rect x="997.80" y="426.00" width="5.20" height="3.40" fill="#eeeeef" rx="0.8" stroke="#6f7174" stroke-width="0.4"/>
<rect x="972.50" y="409.00" width="2.40" height="22.00" fill="#c9cbcd" rx="0.4" stroke="#6f7174" stroke-width="0.3"/>
<rect x="971.30" y="413.50" width="4.80" height="3.00" fill="#e4e5e6" rx="0.8" stroke="#6f7174" stroke-width="0.4"/>
<rect x="971.10" y="421.50" width="5.20" height="2.90" fill="#e4e5e6" rx="0.8" stroke="#6f7174" stroke-width="0.4"/>
<rect x="971.10" y="426.00" width="5.20" height="3.40" fill="#eeeeef" rx="0.8" stroke="#6f7174" stroke-width="0.4"/>
<rect x="983.90" y="426.40" width="6.00" height="2.20" fill="#ededee" rx="1" stroke="#8d8f92" stroke-width="0.4"/>
<rect x="965.90" y="430.00" width="41.40" height="3.80" fill="#232323" rx="0.5"/>
<path d="M1007.30,433.80 L993.70,433.80 L994.70,439.00 L997.90,442.00 L997.90,445.50 L1003.10,445.50 L1003.10,442.00 L1006.30,439.00 Z" fill="#ececed" stroke="#8d8f92" stroke-width="0.5" stroke-linejoin="round"/>
<circle cx="1000.50" cy="439.00" r="1.10" fill="#55575a"/>
<path d="M980.20,433.80 L966.30,433.80 L967.30,439.00 L970.50,442.00 L970.50,445.50 L976.00,445.50 L976.00,442.00 L979.20,439.00 Z" fill="#ececed" stroke="#8d8f92" stroke-width="0.5" stroke-linejoin="round"/>
<circle cx="973.25" cy="439.00" r="1.10" fill="#55575a"/>
<rect x="985.30" y="433.80" width="3.30" height="11.70" fill="#a5a7aa" rx="0.4" stroke="#55575a" stroke-width="0.4"/>
<rect x="1010.90" y="430.20" width="15.00" height="14.80" fill="#2d2d2d" rx="1.2"/>
<rect x="1012.90" y="432.00" width="11.00" height="11.00" fill="#3a3a3a" rx="1"/>
<path d="M982.90,322.00 C982.90,313.00 986.90,307.40 1004.90,307.40 C1022.90,307.40 1036.90,312.00 1039.90,328.00 C1040.90,342.00 1034.90,360.00 1029.50,371.00 " fill="none" stroke="#1a1a1a" stroke-width="1.2"  stroke-linecap="round"/>
<path d="M1024.50,320.70 C1025.90,315.00 1034.90,314.60 1038.30,322.00 " fill="none" stroke="#1a1a1a" stroke-width="1.1"  stroke-linecap="round"/>
<rect x="985.70" y="344.00" width="2.90" height="14.00" fill="#e6e7e9" rx="0.4" stroke="#9a9c9f" stroke-width="0.4"/>
<rect x="982.60" y="355.60" width="9.40" height="2.80" fill="#e9eaec" rx="1" stroke="#8d8f92" stroke-width="0.4"/>
<rect x="978.60" y="326.00" width="17.40" height="18.40" fill="url(#cyl)" rx="0.6" stroke="#b3b5b8" stroke-width="0.4"/>
<rect x="978.60" y="322.60" width="17.40" height="3.60" fill="#a13d22" rx="0.8"/>
<rect x="981.40" y="315.00" width="2.20" height="7.80" fill="#6f7174" rx="0.6"/>
<rect x="1020.00" y="364.00" width="8.60" height="12.00" fill="url(#cyl)" rx="0.6" stroke="#9a9c9f" stroke-width="0.4"/>
<rect x="1012.00" y="329.30" width="22.30" height="35.10" fill="url(#cyl)" rx="1" stroke="#b3b5b8" stroke-width="0.4"/>
<line x1="1012.60" y1="332.00" x2="1033.80" y2="332.00" stroke="#d4d6d8" stroke-width="0.4"/>
<line x1="1012.60" y1="333.70" x2="1033.80" y2="333.70" stroke="#d4d6d8" stroke-width="0.4"/>
<line x1="1012.60" y1="335.40" x2="1033.80" y2="335.40" stroke="#d4d6d8" stroke-width="0.4"/>
<line x1="1012.60" y1="337.10" x2="1033.80" y2="337.10" stroke="#d4d6d8" stroke-width="0.4"/>
<line x1="1012.60" y1="338.80" x2="1033.80" y2="338.80" stroke="#d4d6d8" stroke-width="0.4"/>
<line x1="1012.60" y1="340.50" x2="1033.80" y2="340.50" stroke="#d4d6d8" stroke-width="0.4"/>
<line x1="1012.60" y1="342.20" x2="1033.80" y2="342.20" stroke="#d4d6d8" stroke-width="0.4"/>
<line x1="1012.60" y1="343.90" x2="1033.80" y2="343.90" stroke="#d4d6d8" stroke-width="0.4"/>
<line x1="1012.60" y1="345.60" x2="1033.80" y2="345.60" stroke="#d4d6d8" stroke-width="0.4"/>
<line x1="1012.60" y1="347.30" x2="1033.80" y2="347.30" stroke="#d4d6d8" stroke-width="0.4"/>
<line x1="1012.60" y1="349.00" x2="1033.80" y2="349.00" stroke="#d4d6d8" stroke-width="0.4"/>
<line x1="1012.60" y1="350.70" x2="1033.80" y2="350.70" stroke="#d4d6d8" stroke-width="0.4"/>
<line x1="1012.60" y1="352.40" x2="1033.80" y2="352.40" stroke="#d4d6d8" stroke-width="0.4"/>
<line x1="1012.60" y1="354.10" x2="1033.80" y2="354.10" stroke="#d4d6d8" stroke-width="0.4"/>
<line x1="1012.60" y1="355.80" x2="1033.80" y2="355.80" stroke="#d4d6d8" stroke-width="0.4"/>
<line x1="1012.60" y1="357.50" x2="1033.80" y2="357.50" stroke="#d4d6d8" stroke-width="0.4"/>
<line x1="1012.60" y1="359.20" x2="1033.80" y2="359.20" stroke="#d4d6d8" stroke-width="0.4"/>
<line x1="1012.60" y1="360.90" x2="1033.80" y2="360.90" stroke="#d4d6d8" stroke-width="0.4"/>
<line x1="1012.60" y1="362.60" x2="1033.80" y2="362.60" stroke="#d4d6d8" stroke-width="0.4"/>
<rect x="1021.40" y="320.70" width="4.30" height="8.80" fill="url(#cyl)" rx="1" stroke="#9a9c9f" stroke-width="0.4"/>
<rect x="1006.40" y="352.60" width="3.40" height="2.80" fill="#2b2b2b" rx="1"/>
<rect x="1007.30" y="355.40" width="1.60" height="16.60" fill="#d6d8da" rx="0.5" stroke="#6f7174" stroke-width="0.3"/>
<rect x="952.90" y="380.70" width="2.90" height="3.60" fill="#f08a1c"/>
<path d="M994,359 C1004,360 1010,366 1014,374 C1020,384 1028,392 1032,404 C1036,420 1036,434 1037,445" fill="none" stroke="#1a1a1a" stroke-width="1.4" stroke-linecap="round"/>
<path d="M989,368 C1000,372 1010,378 1016,384 C1026,394 1032,410 1034,445" fill="none" stroke="#1a1a1a" stroke-width="1.4" stroke-linecap="round"/>
<path d="M1012,386 C1020,392 1028,404 1030,416 C1032,428 1032,438 1033,445" fill="none" stroke="#1a1a1a" stroke-width="2" stroke-linecap="round"/>
<path d="M1006,403 C1014,402 1022,404 1028,408" fill="none" stroke="#1a1a1a" stroke-width="1.1" stroke-linecap="round"/>
<path d="M993,390 C1000,384 1008,378 1016,372 C1020,369 1024,366 1027,362" fill="none" stroke="#1a1a1a" stroke-width="1.3" stroke-linecap="round"/>
<rect x="986.00" y="367.00" width="7.00" height="3.00" fill="#d4d6d8" rx="1" stroke="#2b2b2b" stroke-width="0.6" transform="rotate(35 989.5 368.5)"/>
<rect x="986.60" y="388.40" width="7.00" height="3.00" fill="#e4e5e6" rx="1" stroke="#6f7174" stroke-width="0.5" transform="rotate(-35 990 390)"/>
<rect x="1010.00" y="376.00" width="20.00" height="12.00" fill="#2b2b2b" rx="1" opacity="0.0"/>
</g>
<g id="labels" filter="url(#gs)">
<text class="lb" x="876.20" y="83.00" textLength="85.40" lengthAdjust="spacing">Rotary Pump</text>
<polyline class="ld" points="966.00,88.50 870.00,88.50 836.50,49.00"/>
<line x1="836.50" y1="49.00" x2="839.41" y2="52.43" stroke="#161616" stroke-width="1.9" stroke-linecap="round"/>
<text class="lb" x="435.80" y="277.60" textLength="30.80" lengthAdjust="spacing">Door</text>
<polyline class="ld" points="422.50,281.50 477.50,281.50 480.80,255.00"/>
<line x1="480.80" y1="255.00" x2="480.24" y2="259.47" stroke="#161616" stroke-width="1.9" stroke-linecap="round"/>
<text class="lb" x="757.20" y="277.60" textLength="30.70" lengthAdjust="spacing">Door</text>
<polyline class="ld" points="801.00,281.50 740.00,281.50 736.00,255.00"/>
<line x1="736.00" y1="255.00" x2="736.67" y2="259.45" stroke="#161616" stroke-width="1.9" stroke-linecap="round"/>
<text class="lb" x="545.80" y="320.60" textLength="58.20" lengthAdjust="spacing">Furnace</text>
<polyline class="ld" points="605.00,322.50 539.00,322.50 531.00,345.00"/>
<line x1="531.00" y1="345.00" x2="532.51" y2="340.76" stroke="#161616" stroke-width="1.9" stroke-linecap="round"/>
<text class="lb" x="695.20" y="320.60" textLength="58.00" lengthAdjust="spacing">Furnace</text>
<polyline class="ld" points="753.80,322.50 687.50,322.50 680.00,345.50"/>
<line x1="680.00" y1="345.50" x2="681.40" y2="341.22" stroke="#161616" stroke-width="1.9" stroke-linecap="round"/>
<text class="lb" x="813.20" y="303.00" textLength="158.10" lengthAdjust="spacing">Capacitance manometer</text>
<polyline class="ld" points="977.00,306.50 809.30,306.50 799.00,340.00"/>
<line x1="799.00" y1="340.00" x2="800.32" y2="335.70" stroke="#161616" stroke-width="1.9" stroke-linecap="round"/>
<text class="lb" x="307.20" y="365.60" textLength="95.80" lengthAdjust="spacing">Chamber Door</text>
<polyline class="ld" points="307.00,368.50 402.00,368.50 427.00,384.00"/>
<line x1="427.00" y1="384.00" x2="423.18" y2="381.63" stroke="#161616" stroke-width="1.9" stroke-linecap="round"/>
<text class="lb" x="263.20" y="407.00" textLength="146.40" lengthAdjust="spacing">Furnace Moving Motor</text>
<polyline class="ld" points="261.60,410.50 390.00,410.50 419.00,424.40"/>
<line x1="419.00" y1="424.40" x2="414.94" y2="422.45" stroke="#161616" stroke-width="1.9" stroke-linecap="round"/>
<text class="lb" x="340.80" y="454.00" textLength="24.20" lengthAdjust="spacing">Rail</text>
<polyline class="ld" points="336.00,457.50 369.00,457.50 396.00,441.00"/>
<text class="lb" x="314.60" y="502.40" textLength="76.00" lengthAdjust="spacing">Gas Pannel</text>
<polyline class="ld" points="305.00,505.50 395.00,505.50 419.00,477.60"/>
<line x1="419.00" y1="477.60" x2="416.07" y2="481.01" stroke="#161616" stroke-width="1.9" stroke-linecap="round"/>
<text class="lb" x="339.80" y="576.00" textLength="32.80" lengthAdjust="spacing">MFC</text>
<polyline class="ld" points="337.00,578.50 390.00,578.50 415.00,547.00"/>
<line x1="415.00" y1="547.00" x2="412.20" y2="550.52" stroke="#161616" stroke-width="1.9" stroke-linecap="round"/>
<text class="lb" x="259.80" y="668.00" textLength="103.80" lengthAdjust="spacing">Gas Line Clamp</text>
<polyline class="ld" points="258.40,672.50 367.00,672.50 414.00,605.00"/>
<line x1="414.00" y1="605.00" x2="411.43" y2="608.69" stroke="#161616" stroke-width="1.9" stroke-linecap="round"/>
<text class="lb" x="439.20" y="649.00" textLength="67.40" lengthAdjust="spacing">Vent Valve</text>
<polyline class="ld" points="437.00,651.50 516.00,651.50 521.00,497.50"/>
<line x1="521.00" y1="497.50" x2="520.85" y2="502.00" stroke="#161616" stroke-width="1.9" stroke-linecap="round"/>
<text class="lb" x="606.20" y="649.00" textLength="201.40" lengthAdjust="spacing">System Diagram and Controller</text>
<polyline class="ld" points="814.00,652.50 596.00,652.50 591.00,524.00"/>
<line x1="591.00" y1="524.00" x2="591.17" y2="528.50" stroke="#161616" stroke-width="1.9" stroke-linecap="round"/>
<text class="lb" x="779.70" y="582.50" textLength="70.40" lengthAdjust="spacing">Utility Plate</text>
<polyline class="ld" points="864.00,588.50 777.00,588.50 749.00,564.00"/>
<line x1="749.00" y1="564.00" x2="752.39" y2="566.96" stroke="#161616" stroke-width="1.9" stroke-linecap="round"/>
<text class="lb" x="828.20" y="468.00" textLength="111.40" lengthAdjust="spacing">Levelling Support</text>
<polyline class="ld" points="941.30,472.50 825.00,472.50 771.00,429.00"/>
<text class="lb" x="914.20" y="504.70" textLength="88.40" lengthAdjust="spacing">Pumping Line</text>
<polyline class="ld" points="907.60,509.50 1005.30,509.50 1051.00,470.40"/>
<line x1="1051.00" y1="470.40" x2="1047.58" y2="473.33" stroke="#161616" stroke-width="1.9" stroke-linecap="round"/>
<line x1="381.40" y1="654.00" x2="381.40" y2="684.00" stroke="#262626" stroke-width="1"/>
<line x1="838.20" y1="662.50" x2="838.20" y2="684.00" stroke="#262626" stroke-width="1"/>
<line x1="382.00" y1="676.40" x2="837.60" y2="676.40" stroke="#262626" stroke-width="1"/>
<path d="M382.00,676.40 L389.50,674.80 L389.50,678.00 Z" fill="#161616" stroke="none" stroke-width="1"/>
<path d="M837.60,676.40 L830.10,678.00 L830.10,674.80 Z" fill="#161616" stroke="none" stroke-width="1"/>
<text class="dm" x="579" y="672.6" textLength="38.5" lengthAdjust="spacing">2000</text>
<line x1="923.90" y1="662.70" x2="923.90" y2="683.60" stroke="#262626" stroke-width="1"/>
<line x1="1093.30" y1="662.70" x2="1093.30" y2="683.60" stroke="#262626" stroke-width="1"/>
<line x1="924.40" y1="676.40" x2="1092.80" y2="676.40" stroke="#262626" stroke-width="1"/>
<path d="M924.40,676.40 L931.90,674.80 L931.90,678.00 Z" fill="#161616" stroke="none" stroke-width="1"/>
<path d="M1092.80,676.40 L1085.30,678.00 L1085.30,674.80 Z" fill="#161616" stroke="none" stroke-width="1"/>
<text class="dm" x="994.6" y="672.6" textLength="28.8" lengthAdjust="spacing">750</text>
<line x1="841.00" y1="389.30" x2="875.00" y2="389.30" stroke="#262626" stroke-width="1"/>
<line x1="841.00" y1="655.70" x2="875.60" y2="655.70" stroke="#262626" stroke-width="1"/>
<line x1="870.40" y1="390.00" x2="870.40" y2="655.00" stroke="#262626" stroke-width="1"/>
<path d="M870.40,389.80 L872.00,397.30 L868.80,397.30 Z" fill="#161616" stroke="none" stroke-width="1"/>
<path d="M870.40,655.20 L868.80,647.70 L872.00,647.70 Z" fill="#161616" stroke="none" stroke-width="1"/>
<text class="dm" transform="translate(866,546) rotate(-90)" x="0" y="0" textLength="50" lengthAdjust="spacing">1168.9</text>
</g>
</svg>
</body>
</html>
